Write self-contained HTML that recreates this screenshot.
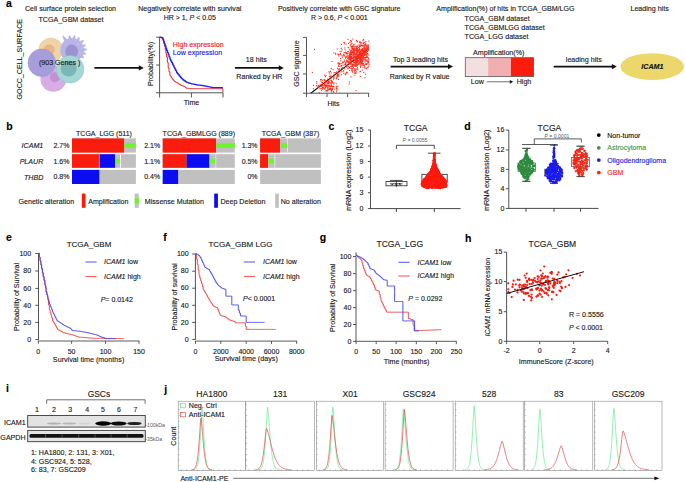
<!DOCTYPE html>
<html><head><meta charset="utf-8"><style>
html,body{margin:0;padding:0;background:#fff;width:685px;height:482px;overflow:hidden}
svg{display:block}
text{font-family:"Liberation Sans",sans-serif}
</style></head><body>
<svg width="685" height="482" viewBox="0 0 685 482">
<rect width="685" height="482" fill="#fff"/>
<text x="5.9" y="6.6" font-size="10.5" text-anchor="start" font-weight="bold" font-style="normal" fill="#000"  stroke="#000" stroke-width="0.13">a</text>
<text x="70.5" y="11.0" font-size="7.1" text-anchor="middle" font-weight="normal" font-style="normal" fill="#1a1a1a"  stroke="#1a1a1a" stroke-width="0.13">Cell surface protein selection</text>
<text x="71.0" y="22.0" font-size="7.1" text-anchor="middle" font-weight="normal" font-style="normal" fill="#1a1a1a"  stroke="#1a1a1a" stroke-width="0.13">TCGA_GBM dataset</text>
<text x="0" y="0" font-size="7.1" text-anchor="middle" fill="#1a1a1a" font-style="normal" transform="translate(22.2,59.2) rotate(-90)" stroke="#1a1a1a" stroke-width="0.13">GOCC_CELL_SURFACE</text>
<circle cx="50.8" cy="50.1" r="12.1" fill="#efd5a6" stroke="#e8b88a" stroke-width="0.4"/>
<circle cx="49.1" cy="49.7" r="5.5" fill="#e8b68a" />
<path d="M86.65,50.00 L86.17,50.25 L85.69,50.48 L85.21,50.69 L84.72,50.89 L84.23,51.07 L83.74,51.23 L83.71,51.44 L83.69,51.64 L84.07,51.91 L84.46,52.20 L84.83,52.49 L85.20,52.81 L85.57,53.13 L85.92,53.47 L86.27,53.82 L86.61,54.19 L86.13,54.32 L85.65,54.43 L85.17,54.53 L84.69,54.62 L84.21,54.69 L83.73,54.74 L83.25,54.78 L82.78,54.80 L82.69,54.99 L82.61,55.17 L82.83,55.52 L83.04,55.87 L83.24,56.23 L83.43,56.60 L83.61,56.98 L83.79,57.37 L83.95,57.76 L84.10,58.16 L83.67,58.17 L83.25,58.17 L82.82,58.15 L82.40,58.13 L81.99,58.09 L81.58,58.03 L81.17,57.97 L80.77,57.90 L80.63,58.05 L80.49,58.20 L80.34,58.34 L80.20,58.49 L80.05,58.63 L79.90,58.77 L79.74,58.91 L79.58,59.04 L79.43,59.17 L79.26,59.30 L79.10,59.42 L78.94,59.55 L78.77,59.67 L78.60,59.78 L78.43,59.90 L78.25,60.01 L78.08,60.11 L77.90,60.22 L77.72,60.32 L77.54,60.42 L77.36,60.51 L77.17,60.61 L76.99,60.69 L76.80,60.78 L76.61,60.86 L76.42,60.94 L76.23,61.02 L76.04,61.09 L75.84,61.16 L75.65,61.22 L75.45,61.28 L75.25,61.34 L75.05,61.40 L74.85,61.45 L74.65,61.50 L74.45,61.54 L74.25,61.58 L74.05,61.62 L73.85,61.65 L73.64,61.69 L73.44,61.71 L73.23,61.74 L73.03,61.76 L72.82,61.77 L72.62,61.78 L72.41,61.79 L72.21,61.80 L72.00,61.80 L71.79,61.80 L71.59,61.79 L71.38,61.78 L71.18,61.77 L70.97,61.76 L70.77,61.74 L70.56,61.71 L70.36,61.69 L70.15,61.65 L69.95,61.62 L69.75,61.58 L69.55,61.54 L69.35,61.50 L69.15,61.45 L68.95,61.40 L68.75,61.34 L68.55,61.28 L68.35,61.22 L68.16,61.16 L67.96,61.09 L67.77,61.02 L67.58,60.94 L67.39,60.86 L67.20,60.78 L67.01,60.69 L66.83,60.61 L66.64,60.51 L66.46,60.42 L66.28,60.32 L66.10,60.22 L65.92,60.11 L65.75,60.01 L65.57,59.90 L65.40,59.78 L65.23,59.67 L65.06,59.55 L64.90,59.42 L64.74,59.30 L64.57,59.17 L64.42,59.04 L64.26,58.91 L64.10,58.77 L63.95,58.63 L63.80,58.49 L63.66,58.34 L63.51,58.20 L63.37,58.05 L63.23,57.90 L63.09,57.74 L62.96,57.58 L62.83,57.43 L62.70,57.26 L62.58,57.10 L62.45,56.94 L62.33,56.77 L62.22,56.60 L62.10,56.43 L61.99,56.25 L61.89,56.08 L61.78,55.90 L61.68,55.72 L61.58,55.54 L61.49,55.36 L61.39,55.17 L61.31,54.99 L61.22,54.80 L61.14,54.61 L61.06,54.42 L60.98,54.23 L60.91,54.04 L60.84,53.84 L60.78,53.65 L60.72,53.45 L60.66,53.25 L60.60,53.05 L60.55,52.85 L60.50,52.65 L60.46,52.45 L60.42,52.25 L60.38,52.05 L60.35,51.85 L60.31,51.64 L60.29,51.44 L60.26,51.23 L60.24,51.03 L60.23,50.82 L60.22,50.62 L60.21,50.41 L60.20,50.21 L60.20,50.00 L60.20,49.79 L60.21,49.59 L60.22,49.38 L60.23,49.18 L60.24,48.97 L60.26,48.77 L60.29,48.56 L60.31,48.36 L60.35,48.15 L60.38,47.95 L60.42,47.75 L60.46,47.55 L60.50,47.35 L60.55,47.15 L60.60,46.95 L60.66,46.75 L60.72,46.55 L60.78,46.35 L60.84,46.16 L60.91,45.96 L60.98,45.77 L61.06,45.58 L61.14,45.39 L61.22,45.20 L61.31,45.01 L61.39,44.83 L61.49,44.64 L61.58,44.46 L61.68,44.28 L61.78,44.10 L61.89,43.92 L61.99,43.75 L62.10,43.57 L62.22,43.40 L62.33,43.23 L62.45,43.06 L62.58,42.90 L62.70,42.74 L62.83,42.57 L62.96,42.42 L63.09,42.26 L63.23,42.10 L63.37,41.95 L63.51,41.80 L63.66,41.66 L63.80,41.51 L63.95,41.37 L64.10,41.23 L64.26,41.09 L63.93,40.39 L63.63,39.66 L63.35,38.93 L63.09,38.18 L62.86,37.42 L62.65,36.65 L62.47,35.86 L62.31,35.07 L62.96,35.54 L63.60,36.03 L64.22,36.53 L64.82,37.06 L65.40,37.59 L65.96,38.15 L66.50,38.72 L67.01,39.31 L67.20,39.22 L67.39,39.14 L67.58,39.06 L67.77,38.98 L67.96,38.91 L68.16,38.84 L68.35,38.78 L68.42,38.29 L68.50,37.79 L68.60,37.30 L68.71,36.80 L68.84,36.31 L68.99,35.82 L69.15,35.32 L69.33,34.83 L69.66,35.23 L69.98,35.64 L70.29,36.05 L70.58,36.47 L70.85,36.90 L71.11,37.33 L71.36,37.77 L71.59,38.21 L71.79,38.20 L72.00,38.20 L72.21,38.20 L72.41,38.21 L72.64,37.74 L72.89,37.28 L73.15,36.83 L73.43,36.38 L73.73,35.93 L74.04,35.49 L74.37,35.06 L74.71,34.64 L74.89,35.15 L75.05,35.67 L75.19,36.19 L75.31,36.71 L75.42,37.23 L75.51,37.74 L75.59,38.26 L75.65,38.78 L75.84,38.84 L76.04,38.91 L76.23,38.98 L76.42,39.06 L76.79,38.72 L77.17,38.40 L77.56,38.08 L77.96,37.78 L78.38,37.48 L78.81,37.20 L79.25,36.92 L79.70,36.66 L79.70,37.19 L79.68,37.70 L79.65,38.22 L79.61,38.73 L79.54,39.23 L79.46,39.73 L79.37,40.22 L79.26,40.70 L79.43,40.83 L79.58,40.96 L79.74,41.09 L79.90,41.23 L80.39,41.00 L80.89,40.79 L81.40,40.60 L81.93,40.41 L82.46,40.25 L83.00,40.10 L83.55,39.96 L84.10,39.84 L83.89,40.37 L83.66,40.89 L83.42,41.39 L83.16,41.89 L82.89,42.37 L82.61,42.84 L82.32,43.30 L82.01,43.75 L82.11,43.92 L82.22,44.10 L82.32,44.28 L82.42,44.46 L82.89,44.45 L83.37,44.45 L83.85,44.47 L84.33,44.51 L84.82,44.56 L85.31,44.62 L85.79,44.71 L86.28,44.80 L85.97,45.19 L85.65,45.57 L85.32,45.93 L84.98,46.28 L84.63,46.62 L84.27,46.94 L83.91,47.25 L83.54,47.55 L83.58,47.75 L83.62,47.95 L84.12,48.08 L84.63,48.23 L85.13,48.39 L85.62,48.57 L86.12,48.76 L86.61,48.98 L87.10,49.21 L87.59,49.46 L87.12,49.74 Z" fill="#b9b4e6"/>
<circle cx="78.0" cy="44.0" r="0.5" fill="#e6e4f8" />
<circle cx="82.0" cy="48.0" r="0.5" fill="#e6e4f8" />
<circle cx="80.0" cy="53.0" r="0.5" fill="#e6e4f8" />
<circle cx="76.0" cy="40.0" r="0.5" fill="#e6e4f8" />
<ellipse cx="71.6" cy="51.6" rx="6.4" ry="7" fill="#9a93cf"/>
<circle cx="53.4" cy="78.8" r="13.0" fill="#d6ade5" />
<circle cx="54.9" cy="77.3" r="5.0" fill="#c391d0" />
<circle cx="41.8" cy="62.8" r="13.8" fill="#a89ddb" stroke="#9890cc" stroke-width="0.5"/>
<circle cx="70.1" cy="69.3" r="13.8" fill="#a5d7d5" stroke="#8cc4c2" stroke-width="0.5"/>
<circle cx="68.7" cy="68.6" r="8.0" fill="#7cb6b6" />
<text x="59.6" y="65.0" font-size="7.1" text-anchor="middle" font-weight="normal" font-style="normal" fill="#1a1a1a"  stroke="#1a1a1a" stroke-width="0.13">(903 Genes )</text>
<line x1="94.4" y1="67.9" x2="139.3" y2="67.9" stroke="#111" stroke-width="1.8"/>
<path d="M138.8,65.2 L143.8,67.9 L138.8,70.6 Z" fill="#111"/>
<text x="189.8" y="11.0" font-size="7.1" text-anchor="middle" font-weight="normal" font-style="normal" fill="#1a1a1a"  stroke="#1a1a1a" stroke-width="0.13">Negatively correlate with survival</text>
<text x="189.8" y="19.5" font-size="7" text-anchor="middle" fill="#1a1a1a" stroke="#1a1a1a" stroke-width="0.13">HR &gt; 1, <tspan font-style="italic">P</tspan> &lt; 0.05</text>
<line x1="159.6" y1="37.0" x2="159.6" y2="93.5" stroke="#555" stroke-width="1.0"/>
<line x1="155.8" y1="92.8" x2="223.3" y2="92.8" stroke="#555" stroke-width="1.0"/>
<line x1="156.2" y1="37.2" x2="159.6" y2="37.2" stroke="#555" stroke-width="1.0"/>
<line x1="156.2" y1="65.0" x2="159.6" y2="65.0" stroke="#555" stroke-width="1.0"/>
<line x1="159.6" y1="92.8" x2="159.6" y2="97.5" stroke="#555" stroke-width="1.0"/>
<line x1="191.4" y1="92.8" x2="191.4" y2="97.5" stroke="#555" stroke-width="1.0"/>
<line x1="223.0" y1="92.8" x2="223.0" y2="97.5" stroke="#555" stroke-width="1.0"/>
<text x="0" y="0" font-size="7.1" text-anchor="middle" fill="#1a1a1a" font-style="normal" transform="translate(153.3,64.0) rotate(-90)" stroke="#1a1a1a" stroke-width="0.13">Probability(%)</text>
<text x="191.5" y="105.2" font-size="7.1" text-anchor="middle" font-weight="normal" font-style="normal" fill="#1a1a1a"  stroke="#1a1a1a" stroke-width="0.13">Time</text>
<text x="172.8" y="46.5" font-size="7.1" text-anchor="start" font-weight="normal" font-style="normal" fill="#f02020"  stroke="#f02020" stroke-width="0.13">High expression</text>
<text x="172.8" y="55.0" font-size="7.1" text-anchor="start" font-weight="normal" font-style="normal" fill="#2020f0"  stroke="#2020f0" stroke-width="0.13">Low expression</text>
<path d="M159.6,37.2 L160.5,37.2 L160.5,37.6 L161.4,37.6 L161.4,38.0 L162.3,38.0 L162.3,38.3 L163.0,38.3 L163.0,40.9 L163.7,40.9 L163.7,43.4 L164.4,43.4 L164.4,46.0 L165.2,46.0 L165.2,49.6 L165.9,49.6 L165.9,53.3 L166.6,53.3 L166.6,56.9 L167.4,56.9 L167.4,62.4 L168.2,62.4 L168.2,67.9 L169.0,67.9 L169.0,71.7 L169.9,71.7 L169.9,75.5 L170.7,75.5 L170.7,76.6 L171.4,76.6 L171.4,77.7 L172.1,77.7 L172.1,78.8 L172.8,78.8 L172.8,79.7 L173.6,79.7 L173.6,80.6 L174.3,80.6 L174.3,81.5 L175.1,81.5 L175.1,81.9 L175.9,81.9 L175.9,82.3 L176.8,82.3 L176.8,82.8 L177.6,82.8 L177.6,83.2 L178.4,83.2 L178.4,83.8 L179.2,83.8 L179.2,84.3 L180.0,84.3 L180.0,84.8 L180.9,84.8 L180.9,85.4 L181.7,85.4 L181.7,85.7 L182.5,85.7 L182.5,85.9 L183.3,85.9 L183.3,86.2 L184.2,86.2 L184.2,86.5 L184.9,86.5 L184.9,87.1 L185.6,87.1 L185.6,87.7 L186.3,87.7 L186.3,88.2 L187.1,88.2 L187.1,88.3 L187.8,88.3 L187.8,88.3 L188.5,88.3 L188.5,88.4 L189.3,88.4 L189.3,88.4 L190.0,88.4 L190.0,88.5 L190.7,88.5 L190.7,88.5 L191.5,88.5 L191.5,88.6 L192.2,88.6 L192.2,88.6 L192.9,88.6 L192.9,88.7 L193.6,88.7 L193.6,88.7 L194.3,88.7 L194.3,88.7 L195.1,88.7 L195.1,88.7 L195.8,88.7 L195.8,88.7 L196.5,88.7 L196.5,88.7 L197.2,88.7 L197.2,88.7 L197.9,88.7 L197.9,88.7 L198.6,88.7 L198.6,88.7 L199.3,88.7 L199.3,88.7 L200.1,88.7 L200.1,88.7 L200.8,88.7 L200.8,88.7 L201.5,88.7 L201.5,88.7 L202.2,88.7 L202.2,88.7 L202.9,88.7 L202.9,88.7 L203.6,88.7 L203.6,88.7 L204.3,88.7 L204.3,88.7 L205.1,88.7 L205.1,88.7 L205.8,88.7 L205.8,88.7 L206.5,88.7 L206.5,88.7 L207.2,88.7 L207.2,88.7 L207.9,88.7 L207.9,88.7 L208.6,88.7 L208.6,88.7 L209.3,88.7 L209.3,88.7 L210.1,88.7 L210.1,88.7 L210.8,88.7 L210.8,88.7 L211.5,88.7 L211.5,88.7 L212.2,88.7 L212.2,88.7 L212.9,88.7 L212.9,88.7 L213.6,88.7 L213.6,88.7 L214.3,88.7 L214.3,88.7 L215.1,88.7 L215.1,88.7 L215.8,88.7 L215.8,88.7 L216.5,88.7 L216.5,88.7 L217.2,88.7 L217.2,88.7 L217.9,88.7 L217.9,88.7 L218.6,88.7 L218.6,88.7 L219.3,88.7 L219.3,88.7 L220.1,88.7 L220.1,88.7 L220.8,88.7 L220.8,88.7 L221.5,88.7 L221.5,88.7 L222.2,88.7 L222.2,88.7 L222.9,88.7 L222.9,88.7 L222.9,88.7 L222.9,92.0" fill="none" stroke="#f02020" stroke-width="1.0" stroke-linejoin="round" />
<path d="M159.6,37.2 L160.5,37.2 L160.5,37.4 L161.4,37.4 L161.4,37.5 L162.3,37.5 L162.3,37.7 L163.0,37.7 L163.0,39.7 L163.7,39.7 L163.7,41.7 L164.4,41.7 L164.4,43.8 L165.2,43.8 L165.2,46.0 L165.9,46.0 L165.9,48.2 L166.6,48.2 L166.6,50.4 L167.5,50.4 L167.5,52.6 L168.3,52.6 L168.3,54.7 L169.1,54.7 L169.1,56.9 L169.9,56.9 L169.9,59.1 L170.7,59.1 L170.7,60.8 L171.6,60.8 L171.6,62.4 L172.4,62.4 L172.4,64.0 L173.2,64.0 L173.2,65.7 L174.0,65.7 L174.0,67.3 L174.8,67.3 L174.8,69.0 L175.7,69.0 L175.7,70.6 L176.5,70.6 L176.5,72.3 L177.3,72.3 L177.3,73.4 L178.1,73.4 L178.1,74.4 L179.0,74.4 L179.0,75.5 L179.8,75.5 L179.8,76.6 L180.6,76.6 L180.6,77.5 L181.4,77.5 L181.4,78.3 L182.2,78.3 L182.2,79.1 L183.1,79.1 L183.1,79.9 L183.9,79.9 L183.9,80.5 L184.7,80.5 L184.7,81.0 L185.5,81.0 L185.5,81.6 L186.3,81.6 L186.3,82.1 L187.1,82.1 L187.1,82.4 L187.8,82.4 L187.8,82.6 L188.5,82.6 L188.5,82.9 L189.3,82.9 L189.3,83.1 L190.0,83.1 L190.0,83.4 L190.7,83.4 L190.7,83.6 L191.5,83.6 L191.5,83.8 L192.2,83.8 L192.2,83.9 L192.9,83.9 L192.9,84.1 L193.6,84.1 L193.6,84.2 L194.4,84.2 L194.4,84.4 L195.1,84.4 L195.1,84.5 L195.8,84.5 L195.8,84.7 L196.6,84.7 L196.6,84.8 L197.3,84.8 L197.3,85.0 L198.0,85.0 L198.0,85.1 L198.8,85.1 L198.8,85.2 L199.5,85.2 L199.5,85.2 L200.2,85.2 L200.2,85.3 L200.9,85.3 L200.9,85.4 L201.7,85.4 L201.7,85.5 L202.4,85.5 L202.4,85.6 L203.1,85.6 L203.1,85.7 L203.9,85.7 L203.9,85.8 L204.6,85.8 L204.6,86.0 L205.4,86.0 L205.4,86.1 L206.2,86.1 L206.2,86.3 L207.0,86.3 L207.0,86.5 L207.8,86.5 L207.8,86.6 L208.6,86.6 L208.6,86.8 L209.3,86.8 L209.3,86.9 L210.2,86.9 L210.2,87.1 L211.0,87.1 L211.0,87.3 L211.8,87.3 L211.8,87.4 L212.6,87.4 L212.6,87.6 L213.4,87.6 L213.4,87.6 L214.1,87.6 L214.1,87.6 L214.8,87.6 L214.8,87.6 L215.6,87.6 L215.6,87.6 L216.3,87.6 L216.3,87.6 L217.0,87.6 L217.0,87.6 L217.8,87.6 L217.8,87.6 L218.5,87.6 L218.5,87.6 L219.2,87.6 L219.2,87.6 L220.0,87.6 L220.0,87.6 L220.7,87.6 L220.7,87.6 L221.4,87.6 L221.4,87.6 L222.2,87.6 L222.2,87.6 L222.9,87.6 L222.9,87.6" fill="none" stroke="#2020f0" stroke-width="1.3" stroke-linejoin="round" />
<line x1="234.9" y1="67.9" x2="279.3" y2="67.9" stroke="#111" stroke-width="1.8"/>
<path d="M278.8,65.2 L283.8,67.9 L278.8,70.6 Z" fill="#111"/>
<text x="256.3" y="62.0" font-size="7.1" text-anchor="middle" font-weight="normal" font-style="normal" fill="#1a1a1a"  stroke="#1a1a1a" stroke-width="0.13">18 hits</text>
<text x="259.4" y="79.0" font-size="7.1" text-anchor="middle" font-weight="normal" font-style="normal" fill="#1a1a1a"  stroke="#1a1a1a" stroke-width="0.13">Ranked by HR</text>
<text x="339.2" y="11.0" font-size="7.1" text-anchor="middle" font-weight="normal" font-style="normal" fill="#1a1a1a"  stroke="#1a1a1a" stroke-width="0.13">Positively correlate with GSC signature</text>
<text x="339.3" y="19.5" font-size="7" text-anchor="middle" fill="#1a1a1a" stroke="#1a1a1a" stroke-width="0.13">R &gt; 0.6, <tspan font-style="italic">P</tspan> &lt; 0.001</text>
<line x1="310.8" y1="93.2" x2="368.6" y2="48.9" stroke="#111" stroke-width="1.1"/>
<g fill="#ff2a1a"><rect x="367.8" y="57.2" width="1.1" height="1.1"/><rect x="350.0" y="59.4" width="1.1" height="1.1"/><rect x="355.1" y="56.9" width="1.1" height="1.1"/><rect x="360.4" y="54.3" width="1.1" height="1.1"/><rect x="356.5" y="51.8" width="1.1" height="1.1"/><rect x="338.1" y="55.4" width="1.1" height="1.1"/><rect x="350.3" y="76.3" width="1.1" height="1.1"/><rect x="357.5" y="49.2" width="1.1" height="1.1"/><rect x="363.7" y="55.1" width="1.1" height="1.1"/><rect x="331.0" y="90.1" width="1.1" height="1.1"/><rect x="355.4" y="65.1" width="1.1" height="1.1"/><rect x="362.2" y="53.4" width="1.1" height="1.1"/><rect x="353.6" y="61.8" width="1.1" height="1.1"/><rect x="352.8" y="61.2" width="1.1" height="1.1"/><rect x="327.4" y="84.4" width="1.1" height="1.1"/><rect x="342.4" y="64.8" width="1.1" height="1.1"/><rect x="364.9" y="73.7" width="1.1" height="1.1"/><rect x="351.2" y="67.9" width="1.1" height="1.1"/><rect x="355.3" y="57.1" width="1.1" height="1.1"/><rect x="351.9" y="47.9" width="1.1" height="1.1"/><rect x="324.8" y="76.0" width="1.1" height="1.1"/><rect x="347.3" y="68.4" width="1.1" height="1.1"/><rect x="330.7" y="75.5" width="1.1" height="1.1"/><rect x="333.3" y="52.4" width="1.1" height="1.1"/><rect x="327.5" y="89.4" width="1.1" height="1.1"/><rect x="364.9" y="50.3" width="1.1" height="1.1"/><rect x="359.7" y="55.3" width="1.1" height="1.1"/><rect x="362.8" y="55.6" width="1.1" height="1.1"/><rect x="357.5" y="52.4" width="1.1" height="1.1"/><rect x="341.3" y="62.9" width="1.1" height="1.1"/><rect x="330.9" y="84.7" width="1.1" height="1.1"/><rect x="355.7" y="71.3" width="1.1" height="1.1"/><rect x="322.0" y="86.7" width="1.1" height="1.1"/><rect x="348.9" y="63.4" width="1.1" height="1.1"/><rect x="363.9" y="50.0" width="1.1" height="1.1"/><rect x="337.8" y="62.5" width="1.1" height="1.1"/><rect x="347.4" y="62.3" width="1.1" height="1.1"/><rect x="359.5" y="41.8" width="1.1" height="1.1"/><rect x="355.8" y="59.0" width="1.1" height="1.1"/><rect x="359.9" y="54.4" width="1.1" height="1.1"/><rect x="363.6" y="57.1" width="1.1" height="1.1"/><rect x="360.7" y="52.4" width="1.1" height="1.1"/><rect x="356.8" y="57.2" width="1.1" height="1.1"/><rect x="337.1" y="75.3" width="1.1" height="1.1"/><rect x="356.5" y="59.4" width="1.1" height="1.1"/><rect x="333.5" y="86.4" width="1.1" height="1.1"/><rect x="360.7" y="54.6" width="1.1" height="1.1"/><rect x="364.3" y="66.5" width="1.1" height="1.1"/><rect x="366.4" y="56.7" width="1.1" height="1.1"/><rect x="337.0" y="67.8" width="1.1" height="1.1"/><rect x="338.1" y="74.4" width="1.1" height="1.1"/><rect x="352.6" y="48.0" width="1.1" height="1.1"/><rect x="357.6" y="60.7" width="1.1" height="1.1"/><rect x="337.3" y="85.9" width="1.1" height="1.1"/><rect x="331.6" y="82.0" width="1.1" height="1.1"/><rect x="350.5" y="60.0" width="1.1" height="1.1"/><rect x="362.8" y="51.9" width="1.1" height="1.1"/><rect x="340.7" y="47.8" width="1.1" height="1.1"/><rect x="328.2" y="81.7" width="1.1" height="1.1"/><rect x="365.6" y="60.5" width="1.1" height="1.1"/><rect x="338.6" y="68.2" width="1.1" height="1.1"/><rect x="334.2" y="88.7" width="1.1" height="1.1"/><rect x="341.0" y="65.0" width="1.1" height="1.1"/><rect x="354.5" y="49.6" width="1.1" height="1.1"/><rect x="332.9" y="86.0" width="1.1" height="1.1"/><rect x="364.5" y="44.4" width="1.1" height="1.1"/><rect x="361.4" y="55.5" width="1.1" height="1.1"/><rect x="345.2" y="73.6" width="1.1" height="1.1"/><rect x="348.3" y="59.0" width="1.1" height="1.1"/><rect x="358.3" y="55.5" width="1.1" height="1.1"/><rect x="330.0" y="70.9" width="1.1" height="1.1"/><rect x="359.4" y="41.2" width="1.1" height="1.1"/><rect x="360.7" y="60.0" width="1.1" height="1.1"/><rect x="350.9" y="57.0" width="1.1" height="1.1"/><rect x="350.2" y="64.3" width="1.1" height="1.1"/><rect x="332.7" y="75.8" width="1.1" height="1.1"/><rect x="355.6" y="56.4" width="1.1" height="1.1"/><rect x="357.6" y="55.7" width="1.1" height="1.1"/><rect x="330.9" y="89.5" width="1.1" height="1.1"/><rect x="350.2" y="58.4" width="1.1" height="1.1"/><rect x="343.6" y="61.3" width="1.1" height="1.1"/><rect x="351.2" y="57.8" width="1.1" height="1.1"/><rect x="352.8" y="48.3" width="1.1" height="1.1"/><rect x="348.0" y="42.9" width="1.1" height="1.1"/><rect x="347.7" y="56.3" width="1.1" height="1.1"/><rect x="349.9" y="52.1" width="1.1" height="1.1"/><rect x="343.1" y="70.2" width="1.1" height="1.1"/><rect x="338.5" y="63.0" width="1.1" height="1.1"/><rect x="330.0" y="87.7" width="1.1" height="1.1"/><rect x="362.8" y="53.6" width="1.1" height="1.1"/><rect x="344.6" y="51.9" width="1.1" height="1.1"/><rect x="320.2" y="79.3" width="1.1" height="1.1"/><rect x="361.9" y="48.6" width="1.1" height="1.1"/><rect x="352.1" y="64.2" width="1.1" height="1.1"/><rect x="362.6" y="58.3" width="1.1" height="1.1"/><rect x="365.9" y="49.4" width="1.1" height="1.1"/><rect x="363.3" y="51.2" width="1.1" height="1.1"/><rect x="354.5" y="57.3" width="1.1" height="1.1"/><rect x="355.6" y="90.1" width="1.1" height="1.1"/><rect x="358.1" y="57.2" width="1.1" height="1.1"/><rect x="358.9" y="58.7" width="1.1" height="1.1"/><rect x="362.8" y="41.7" width="1.1" height="1.1"/><rect x="354.3" y="54.0" width="1.1" height="1.1"/><rect x="350.0" y="52.5" width="1.1" height="1.1"/><rect x="363.1" y="45.4" width="1.1" height="1.1"/><rect x="336.2" y="89.5" width="1.1" height="1.1"/><rect x="357.9" y="47.1" width="1.1" height="1.1"/><rect x="339.6" y="63.3" width="1.1" height="1.1"/><rect x="366.5" y="55.7" width="1.1" height="1.1"/><rect x="361.7" y="55.0" width="1.1" height="1.1"/><rect x="362.4" y="58.5" width="1.1" height="1.1"/><rect x="353.6" y="50.8" width="1.1" height="1.1"/><rect x="363.4" y="57.7" width="1.1" height="1.1"/><rect x="357.8" y="56.4" width="1.1" height="1.1"/><rect x="352.1" y="57.8" width="1.1" height="1.1"/><rect x="359.0" y="52.1" width="1.1" height="1.1"/><rect x="323.7" y="87.9" width="1.1" height="1.1"/><rect x="324.3" y="88.7" width="1.1" height="1.1"/><rect x="362.5" y="50.0" width="1.1" height="1.1"/><rect x="326.8" y="82.4" width="1.1" height="1.1"/><rect x="357.0" y="58.0" width="1.1" height="1.1"/><rect x="360.0" y="56.2" width="1.1" height="1.1"/><rect x="333.1" y="83.3" width="1.1" height="1.1"/><rect x="361.0" y="59.7" width="1.1" height="1.1"/><rect x="365.0" y="57.1" width="1.1" height="1.1"/><rect x="357.0" y="55.9" width="1.1" height="1.1"/><rect x="350.2" y="62.9" width="1.1" height="1.1"/><rect x="356.3" y="56.0" width="1.1" height="1.1"/><rect x="365.0" y="53.7" width="1.1" height="1.1"/><rect x="363.0" y="51.5" width="1.1" height="1.1"/><rect x="347.3" y="57.9" width="1.1" height="1.1"/><rect x="345.4" y="53.1" width="1.1" height="1.1"/><rect x="324.6" y="87.6" width="1.1" height="1.1"/><rect x="349.1" y="49.2" width="1.1" height="1.1"/><rect x="355.9" y="39.9" width="1.1" height="1.1"/><rect x="347.6" y="46.8" width="1.1" height="1.1"/><rect x="348.6" y="61.0" width="1.1" height="1.1"/><rect x="331.3" y="81.2" width="1.1" height="1.1"/><rect x="360.5" y="44.0" width="1.1" height="1.1"/><rect x="358.3" y="56.7" width="1.1" height="1.1"/><rect x="356.7" y="59.1" width="1.1" height="1.1"/><rect x="322.6" y="85.0" width="1.1" height="1.1"/><rect x="349.1" y="52.5" width="1.1" height="1.1"/><rect x="353.1" y="44.3" width="1.1" height="1.1"/><rect x="346.2" y="61.6" width="1.1" height="1.1"/><rect x="353.2" y="51.8" width="1.1" height="1.1"/><rect x="363.2" y="65.0" width="1.1" height="1.1"/><rect x="343.6" y="41.9" width="1.1" height="1.1"/><rect x="355.0" y="64.2" width="1.1" height="1.1"/><rect x="351.8" y="47.3" width="1.1" height="1.1"/><rect x="361.4" y="54.2" width="1.1" height="1.1"/><rect x="352.9" y="51.1" width="1.1" height="1.1"/><rect x="359.4" y="53.7" width="1.1" height="1.1"/><rect x="346.2" y="52.2" width="1.1" height="1.1"/><rect x="360.3" y="63.4" width="1.1" height="1.1"/><rect x="354.3" y="58.7" width="1.1" height="1.1"/><rect x="329.5" y="82.1" width="1.1" height="1.1"/><rect x="347.5" y="67.8" width="1.1" height="1.1"/><rect x="330.3" y="79.5" width="1.1" height="1.1"/><rect x="321.5" y="82.0" width="1.1" height="1.1"/><rect x="359.6" y="51.9" width="1.1" height="1.1"/><rect x="319.1" y="86.2" width="1.1" height="1.1"/><rect x="368.2" y="65.5" width="1.1" height="1.1"/><rect x="357.6" y="55.1" width="1.1" height="1.1"/><rect x="352.9" y="61.3" width="1.1" height="1.1"/><rect x="357.1" y="62.0" width="1.1" height="1.1"/><rect x="336.0" y="86.6" width="1.1" height="1.1"/><rect x="336.0" y="91.2" width="1.1" height="1.1"/><rect x="359.2" y="49.2" width="1.1" height="1.1"/><rect x="348.6" y="83.4" width="1.1" height="1.1"/><rect x="356.2" y="63.6" width="1.1" height="1.1"/><rect x="360.5" y="53.8" width="1.1" height="1.1"/><rect x="361.6" y="62.5" width="1.1" height="1.1"/><rect x="353.6" y="74.6" width="1.1" height="1.1"/><rect x="337.5" y="62.6" width="1.1" height="1.1"/><rect x="333.5" y="73.6" width="1.1" height="1.1"/><rect x="348.9" y="66.9" width="1.1" height="1.1"/><rect x="357.9" y="57.5" width="1.1" height="1.1"/><rect x="317.6" y="85.5" width="1.1" height="1.1"/><rect x="343.5" y="41.9" width="1.1" height="1.1"/><rect x="350.8" y="54.3" width="1.1" height="1.1"/><rect x="355.6" y="60.1" width="1.1" height="1.1"/><rect x="336.7" y="48.5" width="1.1" height="1.1"/><rect x="364.2" y="53.9" width="1.1" height="1.1"/><rect x="360.8" y="59.3" width="1.1" height="1.1"/><rect x="360.4" y="42.8" width="1.1" height="1.1"/><rect x="353.0" y="64.6" width="1.1" height="1.1"/><rect x="357.1" y="58.2" width="1.1" height="1.1"/><rect x="359.8" y="52.2" width="1.1" height="1.1"/><rect x="341.6" y="55.2" width="1.1" height="1.1"/><rect x="359.7" y="60.1" width="1.1" height="1.1"/><rect x="345.5" y="72.7" width="1.1" height="1.1"/><rect x="329.2" y="86.0" width="1.1" height="1.1"/><rect x="344.3" y="47.4" width="1.1" height="1.1"/><rect x="356.9" y="55.5" width="1.1" height="1.1"/><rect x="364.2" y="41.9" width="1.1" height="1.1"/><rect x="331.8" y="86.1" width="1.1" height="1.1"/><rect x="366.0" y="57.1" width="1.1" height="1.1"/><rect x="364.1" y="44.3" width="1.1" height="1.1"/><rect x="352.7" y="49.0" width="1.1" height="1.1"/><rect x="362.1" y="44.9" width="1.1" height="1.1"/><rect x="362.9" y="55.6" width="1.1" height="1.1"/><rect x="353.9" y="53.9" width="1.1" height="1.1"/><rect x="347.6" y="61.6" width="1.1" height="1.1"/><rect x="364.5" y="61.4" width="1.1" height="1.1"/><rect x="359.4" y="63.1" width="1.1" height="1.1"/><rect x="339.2" y="69.7" width="1.1" height="1.1"/><rect x="357.4" y="57.0" width="1.1" height="1.1"/><rect x="349.7" y="53.1" width="1.1" height="1.1"/><rect x="340.7" y="51.1" width="1.1" height="1.1"/><rect x="363.6" y="51.7" width="1.1" height="1.1"/><rect x="352.5" y="53.7" width="1.1" height="1.1"/><rect x="328.1" y="83.0" width="1.1" height="1.1"/><rect x="361.8" y="50.0" width="1.1" height="1.1"/><rect x="328.9" y="88.6" width="1.1" height="1.1"/><rect x="363.2" y="71.9" width="1.1" height="1.1"/><rect x="361.7" y="57.5" width="1.1" height="1.1"/><rect x="339.5" y="51.0" width="1.1" height="1.1"/><rect x="355.4" y="60.8" width="1.1" height="1.1"/><rect x="321.8" y="85.0" width="1.1" height="1.1"/><rect x="362.3" y="39.8" width="1.1" height="1.1"/><rect x="367.8" y="49.2" width="1.1" height="1.1"/><rect x="355.8" y="62.4" width="1.1" height="1.1"/><rect x="362.3" y="51.2" width="1.1" height="1.1"/><rect x="359.6" y="52.0" width="1.1" height="1.1"/><rect x="319.4" y="88.1" width="1.1" height="1.1"/><rect x="327.2" y="86.9" width="1.1" height="1.1"/><rect x="354.1" y="72.7" width="1.1" height="1.1"/><rect x="355.1" y="71.8" width="1.1" height="1.1"/><rect x="351.3" y="69.2" width="1.1" height="1.1"/><rect x="359.0" y="54.5" width="1.1" height="1.1"/><rect x="359.7" y="49.8" width="1.1" height="1.1"/><rect x="359.3" y="48.6" width="1.1" height="1.1"/><rect x="364.1" y="46.2" width="1.1" height="1.1"/><rect x="352.0" y="51.9" width="1.1" height="1.1"/><rect x="368.1" y="46.5" width="1.1" height="1.1"/><rect x="337.0" y="72.4" width="1.1" height="1.1"/><rect x="342.6" y="71.1" width="1.1" height="1.1"/><rect x="328.5" y="82.4" width="1.1" height="1.1"/><rect x="359.5" y="50.9" width="1.1" height="1.1"/><rect x="327.9" y="80.9" width="1.1" height="1.1"/><rect x="350.0" y="56.3" width="1.1" height="1.1"/><rect x="355.6" y="68.8" width="1.1" height="1.1"/><rect x="367.7" y="61.0" width="1.1" height="1.1"/><rect x="359.0" y="54.7" width="1.1" height="1.1"/><rect x="359.8" y="75.9" width="1.1" height="1.1"/><rect x="347.4" y="65.5" width="1.1" height="1.1"/><rect x="346.8" y="64.2" width="1.1" height="1.1"/><rect x="362.3" y="60.5" width="1.1" height="1.1"/><rect x="345.4" y="51.8" width="1.1" height="1.1"/><rect x="327.3" y="85.2" width="1.1" height="1.1"/><rect x="326.9" y="90.2" width="1.1" height="1.1"/><rect x="353.7" y="52.2" width="1.1" height="1.1"/><rect x="359.7" y="58.5" width="1.1" height="1.1"/><rect x="333.2" y="77.1" width="1.1" height="1.1"/><rect x="339.9" y="53.1" width="1.1" height="1.1"/><rect x="320.6" y="78.9" width="1.1" height="1.1"/><rect x="346.4" y="67.0" width="1.1" height="1.1"/><rect x="329.6" y="86.1" width="1.1" height="1.1"/><rect x="362.1" y="55.3" width="1.1" height="1.1"/><rect x="337.4" y="72.4" width="1.1" height="1.1"/><rect x="330.2" y="83.2" width="1.1" height="1.1"/><rect x="316.2" y="82.7" width="1.1" height="1.1"/><rect x="356.4" y="59.7" width="1.1" height="1.1"/><rect x="362.8" y="63.0" width="1.1" height="1.1"/><rect x="357.9" y="56.0" width="1.1" height="1.1"/><rect x="352.6" y="53.9" width="1.1" height="1.1"/><rect x="368.0" y="61.8" width="1.1" height="1.1"/><rect x="360.6" y="54.1" width="1.1" height="1.1"/><rect x="346.2" y="60.5" width="1.1" height="1.1"/><rect x="368.1" y="58.2" width="1.1" height="1.1"/><rect x="359.6" y="61.0" width="1.1" height="1.1"/><rect x="323.6" y="79.1" width="1.1" height="1.1"/><rect x="367.3" y="60.8" width="1.1" height="1.1"/><rect x="355.7" y="48.2" width="1.1" height="1.1"/><rect x="331.1" y="77.4" width="1.1" height="1.1"/><rect x="340.3" y="54.0" width="1.1" height="1.1"/><rect x="349.5" y="55.7" width="1.1" height="1.1"/><rect x="363.1" y="56.3" width="1.1" height="1.1"/><rect x="358.8" y="52.0" width="1.1" height="1.1"/><rect x="338.0" y="78.9" width="1.1" height="1.1"/><rect x="360.9" y="45.0" width="1.1" height="1.1"/><rect x="332.7" y="91.0" width="1.1" height="1.1"/><rect x="351.5" y="70.1" width="1.1" height="1.1"/><rect x="329.8" y="88.4" width="1.1" height="1.1"/><rect x="350.1" y="60.2" width="1.1" height="1.1"/><rect x="364.4" y="64.0" width="1.1" height="1.1"/><rect x="312.9" y="84.8" width="1.1" height="1.1"/><rect x="356.8" y="51.8" width="1.1" height="1.1"/><rect x="346.3" y="60.5" width="1.1" height="1.1"/><rect x="352.3" y="65.2" width="1.1" height="1.1"/><rect x="349.0" y="53.8" width="1.1" height="1.1"/><rect x="366.9" y="49.1" width="1.1" height="1.1"/><rect x="365.6" y="63.7" width="1.1" height="1.1"/><rect x="353.8" y="59.7" width="1.1" height="1.1"/><rect x="361.1" y="55.0" width="1.1" height="1.1"/><rect x="365.5" y="53.7" width="1.1" height="1.1"/><rect x="367.6" y="49.9" width="1.1" height="1.1"/><rect x="348.1" y="47.2" width="1.1" height="1.1"/><rect x="366.0" y="51.5" width="1.1" height="1.1"/><rect x="359.6" y="51.8" width="1.1" height="1.1"/><rect x="335.8" y="86.4" width="1.1" height="1.1"/><rect x="368.3" y="40.6" width="1.1" height="1.1"/><rect x="350.5" y="40.5" width="1.1" height="1.1"/><rect x="356.6" y="68.2" width="1.1" height="1.1"/><rect x="359.0" y="49.4" width="1.1" height="1.1"/><rect x="331.8" y="89.3" width="1.1" height="1.1"/><rect x="322.6" y="87.1" width="1.1" height="1.1"/><rect x="361.7" y="52.9" width="1.1" height="1.1"/><rect x="363.4" y="44.8" width="1.1" height="1.1"/><rect x="321.9" y="82.3" width="1.1" height="1.1"/><rect x="349.8" y="55.1" width="1.1" height="1.1"/><rect x="328.4" y="71.1" width="1.1" height="1.1"/><rect x="365.9" y="47.5" width="1.1" height="1.1"/><rect x="355.1" y="50.2" width="1.1" height="1.1"/><rect x="343.8" y="59.5" width="1.1" height="1.1"/><rect x="354.2" y="59.9" width="1.1" height="1.1"/><rect x="335.1" y="53.7" width="1.1" height="1.1"/><rect x="350.8" y="54.0" width="1.1" height="1.1"/><rect x="361.2" y="53.1" width="1.1" height="1.1"/><rect x="352.1" y="64.1" width="1.1" height="1.1"/><rect x="321.1" y="89.9" width="1.1" height="1.1"/><rect x="363.2" y="50.5" width="1.1" height="1.1"/><rect x="356.6" y="60.9" width="1.1" height="1.1"/><rect x="351.7" y="56.7" width="1.1" height="1.1"/><rect x="353.9" y="58.9" width="1.1" height="1.1"/><rect x="324.8" y="83.4" width="1.1" height="1.1"/><rect x="359.2" y="42.1" width="1.1" height="1.1"/><rect x="357.6" y="56.4" width="1.1" height="1.1"/><rect x="349.8" y="58.3" width="1.1" height="1.1"/><rect x="346.3" y="71.9" width="1.1" height="1.1"/><rect x="366.9" y="67.0" width="1.1" height="1.1"/><rect x="349.6" y="59.9" width="1.1" height="1.1"/><rect x="338.9" y="63.8" width="1.1" height="1.1"/><rect x="365.6" y="60.1" width="1.1" height="1.1"/><rect x="343.1" y="54.2" width="1.1" height="1.1"/><rect x="358.5" y="61.4" width="1.1" height="1.1"/><rect x="360.7" y="42.2" width="1.1" height="1.1"/><rect x="348.1" y="66.2" width="1.1" height="1.1"/><rect x="359.6" y="57.6" width="1.1" height="1.1"/><rect x="363.7" y="51.9" width="1.1" height="1.1"/><rect x="344.6" y="49.3" width="1.1" height="1.1"/><rect x="361.9" y="63.0" width="1.1" height="1.1"/><rect x="353.6" y="47.6" width="1.1" height="1.1"/><rect x="337.3" y="53.6" width="1.1" height="1.1"/><rect x="357.3" y="54.2" width="1.1" height="1.1"/><rect x="365.3" y="63.5" width="1.1" height="1.1"/><rect x="337.0" y="76.3" width="1.1" height="1.1"/><rect x="367.8" y="66.4" width="1.1" height="1.1"/><rect x="347.4" y="50.9" width="1.1" height="1.1"/><rect x="333.6" y="72.1" width="1.1" height="1.1"/><rect x="321.8" y="88.4" width="1.1" height="1.1"/><rect x="358.3" y="60.3" width="1.1" height="1.1"/><rect x="360.4" y="53.4" width="1.1" height="1.1"/><rect x="327.6" y="80.3" width="1.1" height="1.1"/><rect x="347.8" y="51.1" width="1.1" height="1.1"/><rect x="355.1" y="53.7" width="1.1" height="1.1"/><rect x="355.4" y="69.6" width="1.1" height="1.1"/><rect x="329.8" y="85.8" width="1.1" height="1.1"/><rect x="346.6" y="65.2" width="1.1" height="1.1"/><rect x="359.1" y="55.3" width="1.1" height="1.1"/><rect x="330.9" y="82.6" width="1.1" height="1.1"/><rect x="326.0" y="84.7" width="1.1" height="1.1"/><rect x="358.4" y="63.0" width="1.1" height="1.1"/><rect x="360.4" y="60.1" width="1.1" height="1.1"/><rect x="356.0" y="62.2" width="1.1" height="1.1"/><rect x="334.7" y="71.9" width="1.1" height="1.1"/><rect x="353.6" y="63.5" width="1.1" height="1.1"/><rect x="357.0" y="67.2" width="1.1" height="1.1"/><rect x="368.5" y="63.7" width="1.1" height="1.1"/><rect x="356.2" y="51.1" width="1.1" height="1.1"/><rect x="367.6" y="61.4" width="1.1" height="1.1"/><rect x="312.9" y="88.2" width="1.1" height="1.1"/><rect x="330.6" y="89.7" width="1.1" height="1.1"/><rect x="356.4" y="49.8" width="1.1" height="1.1"/><rect x="326.3" y="86.5" width="1.1" height="1.1"/><rect x="368.2" y="54.4" width="1.1" height="1.1"/><rect x="352.6" y="45.5" width="1.1" height="1.1"/><rect x="325.6" y="84.5" width="1.1" height="1.1"/><rect x="352.0" y="71.5" width="1.1" height="1.1"/><rect x="357.5" y="53.8" width="1.1" height="1.1"/><rect x="365.5" y="68.0" width="1.1" height="1.1"/><rect x="353.6" y="71.4" width="1.1" height="1.1"/><rect x="350.6" y="63.6" width="1.1" height="1.1"/><rect x="350.7" y="47.6" width="1.1" height="1.1"/><rect x="357.6" y="59.7" width="1.1" height="1.1"/><rect x="324.6" y="82.3" width="1.1" height="1.1"/><rect x="349.5" y="67.7" width="1.1" height="1.1"/><rect x="365.7" y="55.5" width="1.1" height="1.1"/><rect x="324.7" y="85.0" width="1.1" height="1.1"/><rect x="356.9" y="51.2" width="1.1" height="1.1"/><rect x="361.1" y="60.2" width="1.1" height="1.1"/><rect x="363.5" y="57.0" width="1.1" height="1.1"/><rect x="366.3" y="45.4" width="1.1" height="1.1"/><rect x="359.4" y="52.5" width="1.1" height="1.1"/><rect x="367.7" y="44.9" width="1.1" height="1.1"/><rect x="354.2" y="60.2" width="1.1" height="1.1"/><rect x="362.4" y="54.9" width="1.1" height="1.1"/><rect x="364.4" y="51.3" width="1.1" height="1.1"/><rect x="326.7" y="83.2" width="1.1" height="1.1"/><rect x="354.1" y="59.1" width="1.1" height="1.1"/><rect x="352.3" y="67.9" width="1.1" height="1.1"/><rect x="325.4" y="75.0" width="1.1" height="1.1"/><rect x="365.5" y="62.8" width="1.1" height="1.1"/><rect x="339.0" y="62.7" width="1.1" height="1.1"/><rect x="348.6" y="54.7" width="1.1" height="1.1"/><rect x="353.5" y="55.5" width="1.1" height="1.1"/><rect x="352.1" y="45.5" width="1.1" height="1.1"/><rect x="361.7" y="61.1" width="1.1" height="1.1"/><rect x="349.0" y="55.7" width="1.1" height="1.1"/><rect x="359.5" y="50.9" width="1.1" height="1.1"/><rect x="353.7" y="49.3" width="1.1" height="1.1"/><rect x="358.6" y="53.8" width="1.1" height="1.1"/><rect x="335.9" y="78.1" width="1.1" height="1.1"/><rect x="350.1" y="50.5" width="1.1" height="1.1"/><rect x="356.0" y="46.6" width="1.1" height="1.1"/><rect x="360.2" y="50.8" width="1.1" height="1.1"/><rect x="353.2" y="68.4" width="1.1" height="1.1"/><rect x="362.7" y="49.9" width="1.1" height="1.1"/><rect x="360.5" y="61.7" width="1.1" height="1.1"/><rect x="353.4" y="63.2" width="1.1" height="1.1"/><rect x="356.8" y="61.4" width="1.1" height="1.1"/><rect x="345.5" y="43.5" width="1.1" height="1.1"/><rect x="367.2" y="63.1" width="1.1" height="1.1"/><rect x="360.1" y="57.6" width="1.1" height="1.1"/><rect x="354.4" y="45.6" width="1.1" height="1.1"/><rect x="351.5" y="57.7" width="1.1" height="1.1"/><rect x="323.9" y="74.5" width="1.1" height="1.1"/><rect x="324.8" y="87.0" width="1.1" height="1.1"/><rect x="357.2" y="49.5" width="1.1" height="1.1"/><rect x="361.6" y="61.3" width="1.1" height="1.1"/><rect x="367.5" y="46.9" width="1.1" height="1.1"/><rect x="361.0" y="59.9" width="1.1" height="1.1"/><rect x="351.4" y="65.8" width="1.1" height="1.1"/><rect x="355.2" y="73.0" width="1.1" height="1.1"/><rect x="336.4" y="88.5" width="1.1" height="1.1"/><rect x="344.7" y="74.1" width="1.1" height="1.1"/><rect x="358.0" y="54.8" width="1.1" height="1.1"/><rect x="337.0" y="73.7" width="1.1" height="1.1"/><rect x="365.9" y="63.8" width="1.1" height="1.1"/><rect x="333.2" y="92.0" width="1.1" height="1.1"/><rect x="352.3" y="46.1" width="1.1" height="1.1"/><rect x="342.3" y="66.9" width="1.1" height="1.1"/><rect x="345.1" y="62.6" width="1.1" height="1.1"/><rect x="359.3" y="45.8" width="1.1" height="1.1"/><rect x="359.8" y="58.1" width="1.1" height="1.1"/><rect x="365.6" y="51.9" width="1.1" height="1.1"/><rect x="349.7" y="62.2" width="1.1" height="1.1"/><rect x="357.1" y="54.6" width="1.1" height="1.1"/><rect x="322.8" y="87.3" width="1.1" height="1.1"/><rect x="356.7" y="48.3" width="1.1" height="1.1"/><rect x="359.1" y="52.9" width="1.1" height="1.1"/><rect x="355.2" y="55.4" width="1.1" height="1.1"/><rect x="341.3" y="49.4" width="1.1" height="1.1"/><rect x="364.1" y="48.3" width="1.1" height="1.1"/><rect x="357.7" y="53.5" width="1.1" height="1.1"/><rect x="349.9" y="55.6" width="1.1" height="1.1"/><rect x="324.2" y="79.8" width="1.1" height="1.1"/><rect x="363.4" y="59.6" width="1.1" height="1.1"/><rect x="342.7" y="61.8" width="1.1" height="1.1"/><rect x="356.1" y="48.1" width="1.1" height="1.1"/><rect x="361.2" y="62.7" width="1.1" height="1.1"/><rect x="337.7" y="69.1" width="1.1" height="1.1"/><rect x="360.1" y="64.5" width="1.1" height="1.1"/><rect x="356.1" y="53.7" width="1.1" height="1.1"/><rect x="359.4" y="45.9" width="1.1" height="1.1"/><rect x="357.3" y="56.3" width="1.1" height="1.1"/><rect x="361.9" y="45.4" width="1.1" height="1.1"/><rect x="350.9" y="41.2" width="1.1" height="1.1"/><rect x="346.0" y="56.2" width="1.1" height="1.1"/><rect x="345.0" y="57.7" width="1.1" height="1.1"/><rect x="349.1" y="53.4" width="1.1" height="1.1"/><rect x="362.0" y="54.7" width="1.1" height="1.1"/><rect x="349.4" y="41.9" width="1.1" height="1.1"/><rect x="354.9" y="69.7" width="1.1" height="1.1"/><rect x="325.3" y="85.6" width="1.1" height="1.1"/><rect x="353.8" y="61.9" width="1.1" height="1.1"/><rect x="339.3" y="53.8" width="1.1" height="1.1"/><rect x="354.8" y="56.3" width="1.1" height="1.1"/><rect x="354.7" y="46.3" width="1.1" height="1.1"/><rect x="333.4" y="77.5" width="1.1" height="1.1"/><rect x="355.5" y="59.0" width="1.1" height="1.1"/><rect x="360.4" y="57.8" width="1.1" height="1.1"/><rect x="367.1" y="47.5" width="1.1" height="1.1"/><rect x="359.3" y="52.7" width="1.1" height="1.1"/><rect x="325.1" y="85.5" width="1.1" height="1.1"/><rect x="353.7" y="52.4" width="1.1" height="1.1"/><rect x="351.5" y="45.8" width="1.1" height="1.1"/><rect x="328.3" y="85.3" width="1.1" height="1.1"/><rect x="350.3" y="51.3" width="1.1" height="1.1"/><rect x="329.0" y="80.6" width="1.1" height="1.1"/><rect x="367.0" y="48.3" width="1.1" height="1.1"/><rect x="331.9" y="87.7" width="1.1" height="1.1"/><rect x="364.4" y="52.5" width="1.1" height="1.1"/><rect x="350.5" y="66.1" width="1.1" height="1.1"/><rect x="354.7" y="49.1" width="1.1" height="1.1"/><rect x="348.9" y="55.3" width="1.1" height="1.1"/><rect x="350.0" y="40.0" width="1.1" height="1.1"/><rect x="325.1" y="85.5" width="1.1" height="1.1"/><rect x="365.9" y="45.7" width="1.1" height="1.1"/><rect x="325.5" y="90.1" width="1.1" height="1.1"/><rect x="340.5" y="66.0" width="1.1" height="1.1"/><rect x="359.0" y="48.1" width="1.1" height="1.1"/><rect x="340.2" y="58.0" width="1.1" height="1.1"/><rect x="328.4" y="86.7" width="1.1" height="1.1"/><rect x="352.1" y="65.3" width="1.1" height="1.1"/><rect x="329.5" y="85.9" width="1.1" height="1.1"/><rect x="331.9" y="80.9" width="1.1" height="1.1"/><rect x="363.8" y="67.4" width="1.1" height="1.1"/><rect x="324.5" y="80.4" width="1.1" height="1.1"/><rect x="367.0" y="53.0" width="1.1" height="1.1"/><rect x="330.8" y="91.3" width="1.1" height="1.1"/><rect x="320.1" y="79.1" width="1.1" height="1.1"/><rect x="361.7" y="58.3" width="1.1" height="1.1"/><rect x="354.0" y="48.2" width="1.1" height="1.1"/><rect x="353.6" y="43.6" width="1.1" height="1.1"/><rect x="340.2" y="60.2" width="1.1" height="1.1"/><rect x="328.8" y="76.0" width="1.1" height="1.1"/><rect x="361.1" y="57.4" width="1.1" height="1.1"/><rect x="355.9" y="65.3" width="1.1" height="1.1"/><rect x="353.0" y="58.3" width="1.1" height="1.1"/><rect x="363.2" y="50.1" width="1.1" height="1.1"/><rect x="343.4" y="55.0" width="1.1" height="1.1"/><rect x="349.7" y="56.8" width="1.1" height="1.1"/><rect x="358.8" y="54.3" width="1.1" height="1.1"/><rect x="360.0" y="65.8" width="1.1" height="1.1"/><rect x="364.0" y="65.5" width="1.1" height="1.1"/><rect x="365.0" y="43.7" width="1.1" height="1.1"/><rect x="331.9" y="86.0" width="1.1" height="1.1"/><rect x="361.0" y="57.7" width="1.1" height="1.1"/><rect x="366.7" y="51.0" width="1.1" height="1.1"/><rect x="337.0" y="74.4" width="1.1" height="1.1"/><rect x="349.0" y="56.9" width="1.1" height="1.1"/><rect x="361.0" y="50.4" width="1.1" height="1.1"/><rect x="338.0" y="53.8" width="1.1" height="1.1"/><rect x="354.5" y="63.8" width="1.1" height="1.1"/><rect x="362.7" y="52.4" width="1.1" height="1.1"/><rect x="363.0" y="39.1" width="1.1" height="1.1"/><rect x="336.1" y="88.0" width="1.1" height="1.1"/><rect x="335.1" y="52.7" width="1.1" height="1.1"/><rect x="336.5" y="76.0" width="1.1" height="1.1"/><rect x="364.0" y="54.6" width="1.1" height="1.1"/><rect x="365.9" y="55.4" width="1.1" height="1.1"/><rect x="359.8" y="58.3" width="1.1" height="1.1"/><rect x="367.9" y="47.5" width="1.1" height="1.1"/><rect x="365.3" y="41.1" width="1.1" height="1.1"/><rect x="319.4" y="85.2" width="1.1" height="1.1"/><rect x="340.7" y="64.8" width="1.1" height="1.1"/><rect x="355.7" y="47.3" width="1.1" height="1.1"/><rect x="362.4" y="56.1" width="1.1" height="1.1"/><rect x="349.6" y="50.4" width="1.1" height="1.1"/><rect x="358.0" y="49.5" width="1.1" height="1.1"/><rect x="362.9" y="56.6" width="1.1" height="1.1"/><rect x="327.1" y="88.1" width="1.1" height="1.1"/><rect x="360.0" y="70.9" width="1.1" height="1.1"/><rect x="359.0" y="53.4" width="1.1" height="1.1"/><rect x="338.3" y="75.7" width="1.1" height="1.1"/><rect x="359.8" y="59.3" width="1.1" height="1.1"/><rect x="352.5" y="51.7" width="1.1" height="1.1"/><rect x="317.7" y="84.7" width="1.1" height="1.1"/><rect x="364.2" y="58.5" width="1.1" height="1.1"/><rect x="321.7" y="81.9" width="1.1" height="1.1"/><rect x="351.3" y="46.0" width="1.1" height="1.1"/><rect x="360.4" y="54.5" width="1.1" height="1.1"/><rect x="351.9" y="60.0" width="1.1" height="1.1"/><rect x="344.6" y="56.6" width="1.1" height="1.1"/><rect x="325.9" y="85.5" width="1.1" height="1.1"/><rect x="351.7" y="50.6" width="1.1" height="1.1"/><rect x="356.6" y="40.6" width="1.1" height="1.1"/><rect x="358.0" y="49.5" width="1.1" height="1.1"/><rect x="356.3" y="48.5" width="1.1" height="1.1"/><rect x="355.3" y="65.8" width="1.1" height="1.1"/><rect x="349.4" y="60.7" width="1.1" height="1.1"/><rect x="331.1" y="84.5" width="1.1" height="1.1"/><rect x="354.1" y="68.3" width="1.1" height="1.1"/><rect x="348.6" y="61.6" width="1.1" height="1.1"/><rect x="360.2" y="56.7" width="1.1" height="1.1"/><rect x="356.6" y="53.7" width="1.1" height="1.1"/><rect x="352.8" y="53.3" width="1.1" height="1.1"/><rect x="346.6" y="57.2" width="1.1" height="1.1"/><rect x="354.1" y="53.9" width="1.1" height="1.1"/><rect x="340.5" y="71.1" width="1.1" height="1.1"/><rect x="351.7" y="59.9" width="1.1" height="1.1"/><rect x="355.4" y="59.6" width="1.1" height="1.1"/><rect x="357.4" y="51.2" width="1.1" height="1.1"/><rect x="354.2" y="52.4" width="1.1" height="1.1"/><rect x="332.6" y="85.4" width="1.1" height="1.1"/><rect x="356.6" y="46.4" width="1.1" height="1.1"/><rect x="364.7" y="43.3" width="1.1" height="1.1"/><rect x="361.4" y="60.0" width="1.1" height="1.1"/><rect x="367.7" y="44.6" width="1.1" height="1.1"/><rect x="342.7" y="67.3" width="1.1" height="1.1"/><rect x="351.9" y="65.9" width="1.1" height="1.1"/><rect x="354.3" y="57.1" width="1.1" height="1.1"/><rect x="355.6" y="56.6" width="1.1" height="1.1"/><rect x="366.6" y="44.5" width="1.1" height="1.1"/><rect x="338.6" y="65.9" width="1.1" height="1.1"/><rect x="315.9" y="85.1" width="1.1" height="1.1"/><rect x="361.4" y="63.1" width="1.1" height="1.1"/><rect x="335.9" y="77.2" width="1.1" height="1.1"/><rect x="361.0" y="49.9" width="1.1" height="1.1"/><rect x="353.2" y="55.0" width="1.1" height="1.1"/><rect x="363.1" y="47.4" width="1.1" height="1.1"/><rect x="350.3" y="63.5" width="1.1" height="1.1"/><rect x="361.1" y="55.4" width="1.1" height="1.1"/><rect x="354.6" y="61.7" width="1.1" height="1.1"/><rect x="366.9" y="53.2" width="1.1" height="1.1"/><rect x="324.0" y="84.0" width="1.1" height="1.1"/><rect x="366.8" y="61.0" width="1.1" height="1.1"/><rect x="346.6" y="60.5" width="1.1" height="1.1"/><rect x="358.3" y="60.7" width="1.1" height="1.1"/><rect x="350.3" y="60.4" width="1.1" height="1.1"/><rect x="363.4" y="50.8" width="1.1" height="1.1"/><rect x="320.5" y="80.8" width="1.1" height="1.1"/><rect x="362.1" y="50.6" width="1.1" height="1.1"/><rect x="359.7" y="56.1" width="1.1" height="1.1"/><rect x="332.9" y="78.7" width="1.1" height="1.1"/><rect x="354.6" y="53.2" width="1.1" height="1.1"/><rect x="365.5" y="44.6" width="1.1" height="1.1"/><rect x="357.4" y="62.4" width="1.1" height="1.1"/><rect x="341.7" y="56.5" width="1.1" height="1.1"/><rect x="321.2" y="86.0" width="1.1" height="1.1"/><rect x="352.3" y="49.0" width="1.1" height="1.1"/><rect x="325.9" y="80.1" width="1.1" height="1.1"/><rect x="357.1" y="54.8" width="1.1" height="1.1"/><rect x="347.7" y="57.8" width="1.1" height="1.1"/><rect x="329.8" y="77.2" width="1.1" height="1.1"/><rect x="333.1" y="75.9" width="1.1" height="1.1"/><rect x="352.4" y="51.9" width="1.1" height="1.1"/><rect x="349.5" y="58.8" width="1.1" height="1.1"/><rect x="351.4" y="42.9" width="1.1" height="1.1"/><rect x="354.1" y="60.0" width="1.1" height="1.1"/><rect x="366.9" y="56.7" width="1.1" height="1.1"/><rect x="356.7" y="41.2" width="1.1" height="1.1"/><rect x="316.8" y="86.5" width="1.1" height="1.1"/><rect x="366.7" y="50.8" width="1.1" height="1.1"/><rect x="363.1" y="42.8" width="1.1" height="1.1"/><rect x="364.8" y="48.8" width="1.1" height="1.1"/><rect x="350.3" y="52.8" width="1.1" height="1.1"/><rect x="349.6" y="56.9" width="1.1" height="1.1"/><rect x="336.3" y="71.3" width="1.1" height="1.1"/><rect x="353.6" y="65.2" width="1.1" height="1.1"/><rect x="350.8" y="65.4" width="1.1" height="1.1"/><rect x="330.7" y="68.0" width="1.1" height="1.1"/><rect x="330.4" y="88.8" width="1.1" height="1.1"/><rect x="341.0" y="67.8" width="1.1" height="1.1"/><rect x="342.0" y="61.6" width="1.1" height="1.1"/><rect x="331.0" y="80.2" width="1.1" height="1.1"/><rect x="352.7" y="58.9" width="1.1" height="1.1"/><rect x="346.5" y="55.3" width="1.1" height="1.1"/><rect x="366.0" y="47.4" width="1.1" height="1.1"/><rect x="351.5" y="68.7" width="1.1" height="1.1"/><rect x="356.4" y="55.2" width="1.1" height="1.1"/><rect x="356.7" y="45.6" width="1.1" height="1.1"/><rect x="364.5" y="59.3" width="1.1" height="1.1"/><rect x="362.5" y="64.0" width="1.1" height="1.1"/><rect x="365.4" y="48.2" width="1.1" height="1.1"/><rect x="361.6" y="55.4" width="1.1" height="1.1"/><rect x="360.6" y="55.1" width="1.1" height="1.1"/><rect x="343.8" y="64.2" width="1.1" height="1.1"/><rect x="356.3" y="53.0" width="1.1" height="1.1"/><rect x="353.8" y="50.2" width="1.1" height="1.1"/><rect x="356.8" y="60.1" width="1.1" height="1.1"/><rect x="356.9" y="63.7" width="1.1" height="1.1"/><rect x="362.6" y="48.4" width="1.1" height="1.1"/><rect x="358.4" y="57.1" width="1.1" height="1.1"/><rect x="340.8" y="74.1" width="1.1" height="1.1"/><rect x="326.5" y="90.3" width="1.1" height="1.1"/><rect x="334.1" y="75.2" width="1.1" height="1.1"/><rect x="353.0" y="52.5" width="1.1" height="1.1"/><rect x="358.7" y="46.7" width="1.1" height="1.1"/><rect x="328.6" y="88.4" width="1.1" height="1.1"/><rect x="353.2" y="57.0" width="1.1" height="1.1"/><rect x="355.0" y="63.3" width="1.1" height="1.1"/><rect x="360.1" y="58.9" width="1.1" height="1.1"/><rect x="358.3" y="56.8" width="1.1" height="1.1"/><rect x="357.1" y="59.8" width="1.1" height="1.1"/><rect x="363.3" y="54.2" width="1.1" height="1.1"/><rect x="331.9" y="88.8" width="1.1" height="1.1"/><rect x="329.4" y="84.8" width="1.1" height="1.1"/><rect x="351.6" y="51.3" width="1.1" height="1.1"/><rect x="326.2" y="81.7" width="1.1" height="1.1"/><rect x="354.4" y="59.1" width="1.1" height="1.1"/><rect x="365.7" y="67.8" width="1.1" height="1.1"/><rect x="356.2" y="61.2" width="1.1" height="1.1"/><rect x="348.4" y="61.8" width="1.1" height="1.1"/><rect x="353.5" y="49.5" width="1.1" height="1.1"/><rect x="350.3" y="57.9" width="1.1" height="1.1"/><rect x="361.9" y="54.3" width="1.1" height="1.1"/><rect x="325.6" y="90.5" width="1.1" height="1.1"/><rect x="349.7" y="58.4" width="1.1" height="1.1"/><rect x="357.9" y="58.0" width="1.1" height="1.1"/><rect x="359.8" y="57.8" width="1.1" height="1.1"/><rect x="360.1" y="62.0" width="1.1" height="1.1"/><rect x="345.2" y="64.5" width="1.1" height="1.1"/><rect x="357.8" y="57.0" width="1.1" height="1.1"/><rect x="350.3" y="53.9" width="1.1" height="1.1"/><rect x="345.7" y="53.1" width="1.1" height="1.1"/><rect x="357.0" y="48.5" width="1.1" height="1.1"/><rect x="360.4" y="56.8" width="1.1" height="1.1"/><rect x="339.3" y="69.2" width="1.1" height="1.1"/><rect x="361.8" y="56.6" width="1.1" height="1.1"/><rect x="356.5" y="57.7" width="1.1" height="1.1"/><rect x="352.2" y="55.1" width="1.1" height="1.1"/><rect x="322.0" y="84.5" width="1.1" height="1.1"/><rect x="350.6" y="66.4" width="1.1" height="1.1"/><rect x="357.9" y="57.4" width="1.1" height="1.1"/><rect x="327.4" y="85.9" width="1.1" height="1.1"/><rect x="362.5" y="43.1" width="1.1" height="1.1"/><rect x="350.5" y="52.3" width="1.1" height="1.1"/><rect x="356.3" y="49.6" width="1.1" height="1.1"/><rect x="361.9" y="48.2" width="1.1" height="1.1"/><rect x="337.8" y="64.6" width="1.1" height="1.1"/><rect x="355.4" y="57.8" width="1.1" height="1.1"/><rect x="352.3" y="64.2" width="1.1" height="1.1"/><rect x="320.4" y="83.9" width="1.1" height="1.1"/><rect x="355.4" y="50.1" width="1.1" height="1.1"/><rect x="364.9" y="46.4" width="1.1" height="1.1"/><rect x="358.6" y="57.4" width="1.1" height="1.1"/><rect x="354.9" y="60.5" width="1.1" height="1.1"/><rect x="360.7" y="59.2" width="1.1" height="1.1"/><rect x="346.2" y="71.8" width="1.1" height="1.1"/><rect x="361.8" y="69.6" width="1.1" height="1.1"/><rect x="350.0" y="58.2" width="1.1" height="1.1"/><rect x="321.2" y="85.0" width="1.1" height="1.1"/><rect x="347.3" y="52.9" width="1.1" height="1.1"/><rect x="349.8" y="44.4" width="1.1" height="1.1"/><rect x="359.6" y="61.7" width="1.1" height="1.1"/><rect x="363.3" y="53.0" width="1.1" height="1.1"/><rect x="350.2" y="51.7" width="1.1" height="1.1"/><rect x="358.2" y="63.7" width="1.1" height="1.1"/><rect x="359.7" y="56.3" width="1.1" height="1.1"/><rect x="367.5" y="46.0" width="1.1" height="1.1"/><rect x="340.9" y="43.9" width="1.1" height="1.1"/><rect x="366.1" y="54.5" width="1.1" height="1.1"/><rect x="365.2" y="59.2" width="1.1" height="1.1"/><rect x="362.1" y="44.9" width="1.1" height="1.1"/><rect x="363.1" y="45.1" width="1.1" height="1.1"/><rect x="359.5" y="58.4" width="1.1" height="1.1"/><rect x="350.4" y="43.8" width="1.1" height="1.1"/><rect x="366.5" y="59.5" width="1.1" height="1.1"/><rect x="330.9" y="85.7" width="1.1" height="1.1"/><rect x="332.1" y="82.2" width="1.1" height="1.1"/><rect x="355.6" y="65.2" width="1.1" height="1.1"/><rect x="356.5" y="50.1" width="1.1" height="1.1"/><rect x="346.1" y="59.4" width="1.1" height="1.1"/><rect x="325.8" y="80.2" width="1.1" height="1.1"/><rect x="330.2" y="76.0" width="1.1" height="1.1"/><rect x="353.8" y="56.4" width="1.1" height="1.1"/><rect x="364.8" y="57.4" width="1.1" height="1.1"/><rect x="322.2" y="86.8" width="1.1" height="1.1"/><rect x="356.6" y="55.2" width="1.1" height="1.1"/><rect x="333.4" y="82.3" width="1.1" height="1.1"/><rect x="361.5" y="64.9" width="1.1" height="1.1"/><rect x="353.7" y="62.2" width="1.1" height="1.1"/><rect x="343.6" y="52.0" width="1.1" height="1.1"/><rect x="320.6" y="87.7" width="1.1" height="1.1"/><rect x="356.9" y="60.5" width="1.1" height="1.1"/><rect x="358.2" y="63.5" width="1.1" height="1.1"/><rect x="350.4" y="58.8" width="1.1" height="1.1"/><rect x="336.3" y="71.8" width="1.1" height="1.1"/><rect x="350.4" y="56.2" width="1.1" height="1.1"/><rect x="362.6" y="47.7" width="1.1" height="1.1"/><rect x="359.1" y="61.7" width="1.1" height="1.1"/><rect x="318.8" y="92.3" width="1.1" height="1.1"/><rect x="348.8" y="57.8" width="1.1" height="1.1"/><rect x="349.2" y="58.4" width="1.1" height="1.1"/><rect x="366.7" y="53.6" width="1.1" height="1.1"/><rect x="349.1" y="62.9" width="1.1" height="1.1"/><rect x="353.2" y="56.7" width="1.1" height="1.1"/><rect x="353.8" y="56.2" width="1.1" height="1.1"/><rect x="365.4" y="52.8" width="1.1" height="1.1"/><rect x="332.6" y="68.9" width="1.1" height="1.1"/><rect x="367.0" y="46.3" width="1.1" height="1.1"/><rect x="356.2" y="48.2" width="1.1" height="1.1"/><rect x="363.7" y="47.0" width="1.1" height="1.1"/><rect x="361.8" y="60.2" width="1.1" height="1.1"/><rect x="351.5" y="56.6" width="1.1" height="1.1"/><rect x="350.6" y="51.6" width="1.1" height="1.1"/><rect x="338.6" y="69.7" width="1.1" height="1.1"/><rect x="346.3" y="71.9" width="1.1" height="1.1"/><rect x="351.1" y="46.7" width="1.1" height="1.1"/><rect x="331.6" y="88.5" width="1.1" height="1.1"/><rect x="364.6" y="44.5" width="1.1" height="1.1"/><rect x="353.4" y="56.0" width="1.1" height="1.1"/><rect x="356.0" y="52.1" width="1.1" height="1.1"/><rect x="337.6" y="73.9" width="1.1" height="1.1"/><rect x="356.5" y="45.7" width="1.1" height="1.1"/><rect x="360.4" y="53.2" width="1.1" height="1.1"/><rect x="330.8" y="90.0" width="1.1" height="1.1"/><rect x="350.5" y="52.7" width="1.1" height="1.1"/><rect x="358.8" y="46.0" width="1.1" height="1.1"/><rect x="352.4" y="38.5" width="1.1" height="1.1"/><rect x="357.1" y="59.8" width="1.1" height="1.1"/><rect x="359.4" y="41.8" width="1.1" height="1.1"/><rect x="354.4" y="64.2" width="1.1" height="1.1"/><rect x="356.9" y="48.0" width="1.1" height="1.1"/><rect x="338.0" y="74.6" width="1.1" height="1.1"/><rect x="360.1" y="45.3" width="1.1" height="1.1"/><rect x="363.7" y="57.4" width="1.1" height="1.1"/><rect x="349.2" y="57.8" width="1.1" height="1.1"/><rect x="365.8" y="48.6" width="1.1" height="1.1"/><rect x="364.8" y="50.3" width="1.1" height="1.1"/><rect x="314.0" y="48.8" width="1.1" height="1.1"/><rect x="359.8" y="60.4" width="1.1" height="1.1"/><rect x="362.2" y="63.0" width="1.1" height="1.1"/><rect x="343.8" y="60.8" width="1.1" height="1.1"/><rect x="337.9" y="65.5" width="1.1" height="1.1"/><rect x="362.6" y="66.8" width="1.1" height="1.1"/><rect x="344.9" y="62.5" width="1.1" height="1.1"/><rect x="351.1" y="49.5" width="1.1" height="1.1"/><rect x="356.7" y="65.1" width="1.1" height="1.1"/><rect x="364.0" y="52.7" width="1.1" height="1.1"/><rect x="364.1" y="48.8" width="1.1" height="1.1"/><rect x="360.5" y="59.3" width="1.1" height="1.1"/><rect x="357.9" y="55.6" width="1.1" height="1.1"/><rect x="327.0" y="78.6" width="1.1" height="1.1"/><rect x="359.6" y="56.2" width="1.1" height="1.1"/><rect x="360.0" y="66.7" width="1.1" height="1.1"/><rect x="360.9" y="49.0" width="1.1" height="1.1"/><rect x="336.4" y="74.9" width="1.1" height="1.1"/><rect x="362.8" y="50.0" width="1.1" height="1.1"/><rect x="349.1" y="70.1" width="1.1" height="1.1"/><rect x="344.1" y="68.3" width="1.1" height="1.1"/><rect x="357.9" y="56.7" width="1.1" height="1.1"/><rect x="362.8" y="64.8" width="1.1" height="1.1"/><rect x="355.3" y="60.6" width="1.1" height="1.1"/><rect x="358.3" y="44.5" width="1.1" height="1.1"/><rect x="343.8" y="43.2" width="1.1" height="1.1"/><rect x="328.3" y="81.5" width="1.1" height="1.1"/><rect x="359.1" y="44.6" width="1.1" height="1.1"/><rect x="320.7" y="88.1" width="1.1" height="1.1"/><rect x="352.7" y="66.9" width="1.1" height="1.1"/><rect x="364.9" y="52.2" width="1.1" height="1.1"/><rect x="350.0" y="55.5" width="1.1" height="1.1"/><rect x="350.9" y="56.6" width="1.1" height="1.1"/><rect x="359.1" y="53.5" width="1.1" height="1.1"/><rect x="352.1" y="51.6" width="1.1" height="1.1"/><rect x="361.1" y="56.3" width="1.1" height="1.1"/><rect x="347.1" y="60.8" width="1.1" height="1.1"/><rect x="347.0" y="53.5" width="1.1" height="1.1"/><rect x="353.2" y="51.6" width="1.1" height="1.1"/><rect x="350.2" y="45.5" width="1.1" height="1.1"/><rect x="347.3" y="38.8" width="1.1" height="1.1"/><rect x="361.0" y="63.1" width="1.1" height="1.1"/><rect x="323.8" y="85.1" width="1.1" height="1.1"/><rect x="353.7" y="49.7" width="1.1" height="1.1"/><rect x="324.3" y="79.3" width="1.1" height="1.1"/><rect x="360.9" y="53.1" width="1.1" height="1.1"/><rect x="348.6" y="62.4" width="1.1" height="1.1"/><rect x="361.2" y="48.8" width="1.1" height="1.1"/><rect x="368.3" y="59.4" width="1.1" height="1.1"/><rect x="326.5" y="85.2" width="1.1" height="1.1"/><rect x="364.0" y="48.4" width="1.1" height="1.1"/><rect x="357.2" y="69.0" width="1.1" height="1.1"/><rect x="359.4" y="71.2" width="1.1" height="1.1"/><rect x="355.1" y="53.7" width="1.1" height="1.1"/><rect x="351.6" y="70.6" width="1.1" height="1.1"/><rect x="349.0" y="58.5" width="1.1" height="1.1"/><rect x="344.7" y="63.3" width="1.1" height="1.1"/><rect x="361.2" y="61.7" width="1.1" height="1.1"/><rect x="367.5" y="61.5" width="1.1" height="1.1"/><rect x="364.5" y="77.2" width="1.1" height="1.1"/><rect x="352.4" y="57.1" width="1.1" height="1.1"/><rect x="343.3" y="72.7" width="1.1" height="1.1"/><rect x="327.7" y="89.1" width="1.1" height="1.1"/><rect x="358.3" y="51.0" width="1.1" height="1.1"/><rect x="348.3" y="57.0" width="1.1" height="1.1"/><rect x="358.2" y="50.3" width="1.1" height="1.1"/><rect x="328.8" y="72.4" width="1.1" height="1.1"/><rect x="360.5" y="53.3" width="1.1" height="1.1"/><rect x="318.0" y="86.8" width="1.1" height="1.1"/><rect x="361.8" y="54.7" width="1.1" height="1.1"/><rect x="364.2" y="53.9" width="1.1" height="1.1"/><rect x="345.1" y="64.0" width="1.1" height="1.1"/><rect x="366.1" y="64.0" width="1.1" height="1.1"/><rect x="365.8" y="50.7" width="1.1" height="1.1"/><rect x="355.1" y="58.9" width="1.1" height="1.1"/><rect x="362.4" y="50.5" width="1.1" height="1.1"/><rect x="318.5" y="85.3" width="1.1" height="1.1"/><rect x="367.4" y="59.3" width="1.1" height="1.1"/><rect x="351.1" y="49.7" width="1.1" height="1.1"/><rect x="356.6" y="64.4" width="1.1" height="1.1"/><rect x="329.0" y="88.5" width="1.1" height="1.1"/><rect x="339.2" y="72.4" width="1.1" height="1.1"/><rect x="359.3" y="54.7" width="1.1" height="1.1"/><rect x="353.2" y="65.1" width="1.1" height="1.1"/><rect x="367.4" y="47.7" width="1.1" height="1.1"/><rect x="347.5" y="60.3" width="1.1" height="1.1"/><rect x="354.7" y="62.1" width="1.1" height="1.1"/><rect x="362.6" y="49.3" width="1.1" height="1.1"/><rect x="355.3" y="59.7" width="1.1" height="1.1"/><rect x="311.8" y="71.9" width="1.1" height="1.1"/><rect x="322.1" y="79.7" width="1.1" height="1.1"/><rect x="360.2" y="57.2" width="1.1" height="1.1"/><rect x="330.6" y="80.1" width="1.1" height="1.1"/><rect x="351.3" y="52.7" width="1.1" height="1.1"/><rect x="350.4" y="58.6" width="1.1" height="1.1"/><rect x="316.1" y="81.2" width="1.1" height="1.1"/><rect x="331.4" y="60.8" width="1.1" height="1.1"/><rect x="344.2" y="55.3" width="1.1" height="1.1"/><rect x="351.1" y="51.6" width="1.1" height="1.1"/><rect x="345.2" y="56.5" width="1.1" height="1.1"/><rect x="347.3" y="55.4" width="1.1" height="1.1"/><rect x="350.8" y="56.0" width="1.1" height="1.1"/><rect x="330.6" y="72.4" width="1.1" height="1.1"/><rect x="360.1" y="57.9" width="1.1" height="1.1"/><rect x="329.4" y="74.5" width="1.1" height="1.1"/><rect x="328.7" y="88.3" width="1.1" height="1.1"/><rect x="322.3" y="87.6" width="1.1" height="1.1"/><rect x="335.6" y="82.8" width="1.1" height="1.1"/><rect x="353.7" y="70.0" width="1.1" height="1.1"/><rect x="330.4" y="87.7" width="1.1" height="1.1"/><rect x="364.4" y="54.4" width="1.1" height="1.1"/><rect x="323.6" y="86.1" width="1.1" height="1.1"/><rect x="348.8" y="81.4" width="1.1" height="1.1"/><rect x="351.6" y="63.3" width="1.1" height="1.1"/><rect x="328.6" y="84.8" width="1.1" height="1.1"/><rect x="355.8" y="64.8" width="1.1" height="1.1"/><rect x="355.9" y="62.5" width="1.1" height="1.1"/><rect x="361.7" y="52.3" width="1.1" height="1.1"/><rect x="361.8" y="53.5" width="1.1" height="1.1"/><rect x="360.0" y="60.9" width="1.1" height="1.1"/><rect x="356.7" y="52.3" width="1.1" height="1.1"/><rect x="357.4" y="50.4" width="1.1" height="1.1"/><rect x="353.4" y="46.3" width="1.1" height="1.1"/><rect x="365.1" y="51.4" width="1.1" height="1.1"/><rect x="352.1" y="52.2" width="1.1" height="1.1"/><rect x="343.3" y="53.6" width="1.1" height="1.1"/><rect x="354.5" y="65.6" width="1.1" height="1.1"/><rect x="327.0" y="82.4" width="1.1" height="1.1"/><rect x="350.6" y="53.8" width="1.1" height="1.1"/><rect x="352.8" y="50.1" width="1.1" height="1.1"/></g>
<line x1="306.5" y1="37.2" x2="306.5" y2="93.5" stroke="#555" stroke-width="1.0"/>
<line x1="303.0" y1="93.2" x2="369.2" y2="93.2" stroke="#555" stroke-width="1.0"/>
<line x1="303.0" y1="37.4" x2="306.5" y2="37.4" stroke="#555" stroke-width="1.0"/>
<line x1="303.0" y1="55.4" x2="306.5" y2="55.4" stroke="#555" stroke-width="1.0"/>
<line x1="303.0" y1="74.0" x2="306.5" y2="74.0" stroke="#555" stroke-width="1.0"/>
<line x1="306.5" y1="93.2" x2="306.5" y2="97.0" stroke="#555" stroke-width="1.0"/>
<line x1="327.0" y1="93.2" x2="327.0" y2="97.0" stroke="#555" stroke-width="1.0"/>
<line x1="347.6" y1="93.2" x2="347.6" y2="97.0" stroke="#555" stroke-width="1.0"/>
<line x1="368.6" y1="93.2" x2="368.6" y2="97.0" stroke="#555" stroke-width="1.0"/>
<text x="0" y="0" font-size="7.1" text-anchor="middle" fill="#1a1a1a" font-style="normal" transform="translate(299.2,63.5) rotate(-90)" stroke="#1a1a1a" stroke-width="0.13">GSC signature</text>
<text x="333.5" y="105.6" font-size="7.1" text-anchor="middle" font-weight="normal" font-style="normal" fill="#1a1a1a"  stroke="#1a1a1a" stroke-width="0.13">Hits</text>
<line x1="390.6" y1="66.6" x2="448.5" y2="66.6" stroke="#111" stroke-width="1.8"/>
<path d="M448.0,63.9 L453.0,66.6 L448.0,69.3 Z" fill="#111"/>
<text x="420.5" y="62.3" font-size="7.1" text-anchor="middle" font-weight="normal" font-style="normal" fill="#1a1a1a"  stroke="#1a1a1a" stroke-width="0.13">Top 3 leading hits</text>
<text x="419.6" y="79.0" font-size="7.1" text-anchor="middle" font-weight="normal" font-style="normal" fill="#1a1a1a"  stroke="#1a1a1a" stroke-width="0.13">Ranked by R value</text>
<text x="505.4" y="11.3" font-size="7.1" text-anchor="middle" font-weight="normal" font-style="normal" fill="#1a1a1a"  stroke="#1a1a1a" stroke-width="0.13">Amplification(%) of hits in TCGA_GBM/LGG</text>
<text x="464.6" y="21.0" font-size="7.1" text-anchor="start" font-weight="normal" font-style="normal" fill="#1a1a1a"  stroke="#1a1a1a" stroke-width="0.13">TCGA_GBM dataset</text>
<text x="464.6" y="29.8" font-size="7.1" text-anchor="start" font-weight="normal" font-style="normal" fill="#1a1a1a"  stroke="#1a1a1a" stroke-width="0.13">TCGA_GBMLGG dataset</text>
<text x="464.6" y="38.5" font-size="7.1" text-anchor="start" font-weight="normal" font-style="normal" fill="#1a1a1a"  stroke="#1a1a1a" stroke-width="0.13">TCGA_LGG dataset</text>
<text x="498.7" y="54.6" font-size="7.1" text-anchor="middle" font-weight="normal" font-style="normal" fill="#1a1a1a"  stroke="#1a1a1a" stroke-width="0.13">Amplification(%)</text>
<rect x="465.3" y="57.7" width="22.8" height="18.9" fill="#f4dfe0" />
<rect x="488.1" y="57.7" width="22.8" height="18.9" fill="#f2afb2" />
<rect x="510.9" y="57.7" width="22.7" height="18.9" fill="#fc1c0c" />
<rect x="465.3" y="57.7" width="68.3" height="18.9" fill="none" stroke="#5a5a5a" stroke-width="0.8"/>
<text x="477.3" y="84.0" font-size="7.1" text-anchor="middle" font-weight="normal" font-style="normal" fill="#1a1a1a"  stroke="#1a1a1a" stroke-width="0.13">Low</text>
<line x1="486.8" y1="81.8" x2="510.3" y2="81.8" stroke="#111" stroke-width="0.6"/>
<path d="M509.8,79.9 L513.2,81.8 L509.8,83.7 Z" fill="#111"/>
<text x="516.7" y="84.0" font-size="7.1" text-anchor="start" font-weight="normal" font-style="normal" fill="#1a1a1a"  stroke="#1a1a1a" stroke-width="0.13">High</text>
<line x1="553.7" y1="66.6" x2="612.3" y2="66.6" stroke="#111" stroke-width="1.8"/>
<path d="M611.8,63.9 L616.8,66.6 L611.8,69.3 Z" fill="#111"/>
<text x="583.8" y="62.3" font-size="7.1" text-anchor="middle" font-weight="normal" font-style="normal" fill="#1a1a1a"  stroke="#1a1a1a" stroke-width="0.13">leading hits</text>
<ellipse cx="652.2" cy="66.6" rx="31.8" ry="13.4" fill="#ecd86a"/>
<text x="652.4" y="68.8" font-size="7.1" text-anchor="middle" font-weight="bold" font-style="italic" fill="#111"  stroke="#111" stroke-width="0.13">ICAM1</text>
<text x="649.6" y="11.3" font-size="7.1" text-anchor="middle" font-weight="normal" font-style="normal" fill="#1a1a1a"  stroke="#1a1a1a" stroke-width="0.13">Leading hits</text>
<text x="6.3" y="129.6" font-size="10.5" text-anchor="start" font-weight="bold" font-style="normal" fill="#000"  stroke="#000" stroke-width="0.13">b</text>
<text x="43.3" y="148.0" font-size="7.1" text-anchor="end" font-weight="normal" font-style="italic" fill="#1a1a1a"  stroke="#1a1a1a" stroke-width="0.13">ICAM1</text>
<text x="43.3" y="163.5" font-size="7.1" text-anchor="end" font-weight="normal" font-style="italic" fill="#1a1a1a"  stroke="#1a1a1a" stroke-width="0.13">PLAUR</text>
<text x="43.3" y="179.5" font-size="7.1" text-anchor="end" font-weight="normal" font-style="italic" fill="#1a1a1a"  stroke="#1a1a1a" stroke-width="0.13">THBD</text>
<text x="104.0" y="135.8" font-size="7" text-anchor="middle" font-weight="normal" font-style="normal" fill="#1a1a1a"  stroke="#1a1a1a" stroke-width="0.13">TCGA_LGG (511)</text>
<rect x="72.0" y="138.4" width="63.9" height="14.2" fill="#c0c0c0" />
<rect x="72.0" y="138.4" width="52.1" height="14.2" fill="#fa1c0c" />
<rect x="124.5" y="143.1" width="11.4" height="4.8" fill="#6ef52a" />
<text x="69.5" y="148.0" font-size="7" text-anchor="end" font-weight="normal" font-style="normal" fill="#1a1a1a"  stroke="#1a1a1a" stroke-width="0.13">2.7%</text>
<rect x="72.0" y="154.2" width="63.9" height="13.6" fill="#c0c0c0" />
<rect x="72.0" y="154.2" width="26.9" height="13.6" fill="#fa1c0c" />
<rect x="99.6" y="154.2" width="15.4" height="13.6" fill="#0c0cf0" />
<rect x="115.3" y="158.6" width="4.7" height="4.8" fill="#6ef52a" />
<rect x="120.0" y="154.2" width="1.0" height="13.6" fill="#f4f4f4" />
<text x="69.5" y="163.5" font-size="7" text-anchor="end" font-weight="normal" font-style="normal" fill="#1a1a1a"  stroke="#1a1a1a" stroke-width="0.13">1.6%</text>
<rect x="72.0" y="169.9" width="63.9" height="14.1" fill="#c0c0c0" />
<rect x="72.0" y="169.9" width="27.3" height="14.1" fill="#0c0cf0" />
<text x="69.5" y="179.4" font-size="7" text-anchor="end" font-weight="normal" font-style="normal" fill="#1a1a1a"  stroke="#1a1a1a" stroke-width="0.13">0.8%</text>
<text x="198.8" y="135.8" font-size="7" text-anchor="middle" font-weight="normal" font-style="normal" fill="#1a1a1a"  stroke="#1a1a1a" stroke-width="0.13">TCGA_GBMLGG (889)</text>
<rect x="162.7" y="138.4" width="72.1" height="14.2" fill="#c0c0c0" />
<rect x="162.7" y="138.4" width="53.3" height="14.2" fill="#fa1c0c" />
<rect x="216.4" y="143.1" width="18.4" height="4.8" fill="#6ef52a" />
<text x="160.2" y="148.0" font-size="7" text-anchor="end" font-weight="normal" font-style="normal" fill="#1a1a1a"  stroke="#1a1a1a" stroke-width="0.13">2.1%</text>
<rect x="162.7" y="154.2" width="72.1" height="13.6" fill="#c0c0c0" />
<rect x="162.7" y="154.2" width="23.9" height="13.6" fill="#fa1c0c" />
<rect x="186.6" y="154.2" width="22.6" height="13.6" fill="#0c0cf0" />
<rect x="209.6" y="158.6" width="5.9" height="4.8" fill="#6ef52a" />
<rect x="215.6" y="154.2" width="0.6" height="13.6" fill="#f4f4f4" />
<text x="160.2" y="163.5" font-size="7" text-anchor="end" font-weight="normal" font-style="normal" fill="#1a1a1a"  stroke="#1a1a1a" stroke-width="0.13">1.1%</text>
<rect x="162.7" y="169.9" width="72.1" height="14.1" fill="#c0c0c0" />
<rect x="162.7" y="169.9" width="15.4" height="14.1" fill="#0c0cf0" />
<text x="160.2" y="179.4" font-size="7" text-anchor="end" font-weight="normal" font-style="normal" fill="#1a1a1a"  stroke="#1a1a1a" stroke-width="0.13">0.4%</text>
<text x="290.5" y="135.8" font-size="7" text-anchor="middle" font-weight="normal" font-style="normal" fill="#1a1a1a"  stroke="#1a1a1a" stroke-width="0.13">TCGA_GBM (387)</text>
<rect x="260.1" y="138.4" width="60.8" height="14.2" fill="#c0c0c0" />
<rect x="260.1" y="138.4" width="19.9" height="14.2" fill="#fa1c0c" />
<rect x="280.8" y="143.1" width="6.2" height="4.8" fill="#6ef52a" />
<rect x="287.2" y="138.4" width="0.7" height="14.2" fill="#f4f4f4" />
<text x="257.6" y="148.0" font-size="7" text-anchor="end" font-weight="normal" font-style="normal" fill="#1a1a1a"  stroke="#1a1a1a" stroke-width="0.13">1.3%</text>
<rect x="260.1" y="154.2" width="60.8" height="13.6" fill="#c0c0c0" />
<rect x="260.1" y="154.2" width="7.9" height="13.6" fill="#fa1c0c" />
<rect x="268.4" y="158.6" width="5.8" height="4.8" fill="#6ef52a" />
<rect x="274.5" y="154.2" width="0.7" height="13.6" fill="#f4f4f4" />
<text x="257.6" y="163.5" font-size="7" text-anchor="end" font-weight="normal" font-style="normal" fill="#1a1a1a"  stroke="#1a1a1a" stroke-width="0.13">0.5%</text>
<rect x="260.1" y="169.9" width="60.8" height="14.1" fill="#c0c0c0" />
<text x="257.6" y="179.4" font-size="7" text-anchor="end" font-weight="normal" font-style="normal" fill="#1a1a1a"  stroke="#1a1a1a" stroke-width="0.13">0%</text>
<text x="18.5" y="204.0" font-size="7.1" text-anchor="start" font-weight="normal" font-style="normal" fill="#1a1a1a"  stroke="#1a1a1a" stroke-width="0.13">Genetic alteration</text>
<rect x="81.8" y="193.6" width="3.7" height="14.2" fill="#fa1c0c" />
<text x="88.2" y="204.0" font-size="7.1" text-anchor="start" font-weight="normal" font-style="normal" fill="#1a1a1a"  stroke="#1a1a1a" stroke-width="0.13">Amplification</text>
<rect x="134.7" y="193.6" width="4.1" height="14.2" fill="#c0c0c0" />
<rect x="134.7" y="198.2" width="4.1" height="4.9" fill="#6ef52a" />
<text x="144.8" y="204.0" font-size="7.1" text-anchor="start" font-weight="normal" font-style="normal" fill="#1a1a1a"  stroke="#1a1a1a" stroke-width="0.13">Missense Mutation</text>
<rect x="214.2" y="193.6" width="3.7" height="14.2" fill="#0c0cf0" />
<text x="220.4" y="204.0" font-size="7.1" text-anchor="start" font-weight="normal" font-style="normal" fill="#1a1a1a"  stroke="#1a1a1a" stroke-width="0.13">Deep Deletion</text>
<rect x="275.2" y="193.6" width="3.6" height="14.2" fill="#c0c0c0" />
<text x="280.7" y="204.0" font-size="7.1" text-anchor="start" font-weight="normal" font-style="normal" fill="#1a1a1a"  stroke="#1a1a1a" stroke-width="0.13">No alteration</text>
<text x="328.6" y="129.6" font-size="10.5" text-anchor="start" font-weight="bold" font-style="normal" fill="#000"  stroke="#000" stroke-width="0.13">c</text>
<line x1="370.5" y1="130.0" x2="370.5" y2="209.0" stroke="#4a4a4a" stroke-width="0.95"/>
<line x1="367.9" y1="130.0" x2="370.5" y2="130.0" stroke="#4a4a4a" stroke-width="0.95"/>
<text x="363.3" y="132.2" font-size="7" text-anchor="end" font-weight="normal" font-style="normal" fill="#1a1a1a"  stroke="#1a1a1a" stroke-width="0.13">15</text>
<line x1="367.9" y1="146.0" x2="370.5" y2="146.0" stroke="#4a4a4a" stroke-width="0.95"/>
<text x="363.3" y="148.2" font-size="7" text-anchor="end" font-weight="normal" font-style="normal" fill="#1a1a1a"  stroke="#1a1a1a" stroke-width="0.13">12</text>
<line x1="367.9" y1="161.5" x2="370.5" y2="161.5" stroke="#4a4a4a" stroke-width="0.95"/>
<text x="363.3" y="163.7" font-size="7" text-anchor="end" font-weight="normal" font-style="normal" fill="#1a1a1a"  stroke="#1a1a1a" stroke-width="0.13">9</text>
<line x1="367.9" y1="177.1" x2="370.5" y2="177.1" stroke="#4a4a4a" stroke-width="0.95"/>
<text x="363.3" y="179.3" font-size="7" text-anchor="end" font-weight="normal" font-style="normal" fill="#1a1a1a"  stroke="#1a1a1a" stroke-width="0.13">6</text>
<line x1="367.9" y1="192.7" x2="370.5" y2="192.7" stroke="#4a4a4a" stroke-width="0.95"/>
<text x="363.3" y="194.9" font-size="7" text-anchor="end" font-weight="normal" font-style="normal" fill="#1a1a1a"  stroke="#1a1a1a" stroke-width="0.13">3</text>
<line x1="367.9" y1="208.6" x2="370.5" y2="208.6" stroke="#4a4a4a" stroke-width="0.95"/>
<text x="363.3" y="210.8" font-size="7" text-anchor="end" font-weight="normal" font-style="normal" fill="#1a1a1a"  stroke="#1a1a1a" stroke-width="0.13">0</text>
<line x1="370.5" y1="208.6" x2="460.6" y2="208.6" stroke="#333" stroke-width="0.9"/>
<line x1="396.4" y1="208.6" x2="396.4" y2="212.0" stroke="#333" stroke-width="0.9"/>
<line x1="434.3" y1="208.6" x2="434.3" y2="212.0" stroke="#333" stroke-width="0.9"/>
<text x="0" y="0" font-size="7.3" text-anchor="middle" fill="#1a1a1a" font-style="normal" transform="translate(350.9,170.3) rotate(-90)" stroke="#1a1a1a" stroke-width="0.13">mRNA expression (Log2)</text>
<text x="0" y="0" font-size="8.9" text-anchor="middle" fill="#1a1a1a" transform="translate(415.60,130.60) scale(0.965,1)" stroke="#1a1a1a" stroke-width="0.13">TCGA</text>
<text x="415" y="142.4" font-size="5.1" text-anchor="middle" fill="#1a1a1a" fill-opacity="0.8"><tspan font-style="italic">P</tspan> = 0.0055</text>
<path d="M396.4,149.0 L396.4,145.3 L434.3,145.3 L434.3,149.0" fill="none" stroke="#222" stroke-width="0.8" stroke-linejoin="round" />
<rect x="386.0" y="181.6" width="21.0" height="4.2" fill="none" stroke="#222" stroke-width="0.8"/>
<line x1="396.4" y1="180.0" x2="396.4" y2="187.0" stroke="#222" stroke-width="0.7"/>
<line x1="390.0" y1="180.4" x2="402.6" y2="180.4" stroke="#222" stroke-width="0.8"/>
<line x1="390.0" y1="183.8" x2="402.6" y2="183.8" stroke="#222" stroke-width="0.8"/>
<circle cx="396.7" cy="184.0" r="0.7" fill="#222" />
<circle cx="400.1" cy="185.0" r="0.7" fill="#222" />
<circle cx="392.2" cy="184.4" r="0.7" fill="#222" />
<circle cx="396.2" cy="183.8" r="0.7" fill="#222" />
<circle cx="399.6" cy="183.7" r="0.7" fill="#222" />
<circle cx="396.3" cy="185.6" r="0.7" fill="#222" />
<circle cx="396.0" cy="184.0" r="0.7" fill="#222" />
<circle cx="396.6" cy="185.3" r="0.7" fill="#222" />
<rect x="421.9" y="174.3" width="25.3" height="8.0" fill="none" stroke="#222" stroke-width="0.8"/>
<line x1="434.3" y1="153.2" x2="434.3" y2="174.3" stroke="#222" stroke-width="0.8"/>
<line x1="427.9" y1="153.2" x2="440.5" y2="153.2" stroke="#222" stroke-width="0.8"/>
<g fill="#ff1a10"><circle cx="435.2" cy="167.2" r="0.8"/><circle cx="427.8" cy="180.3" r="0.8"/><circle cx="434.8" cy="156.6" r="0.8"/><circle cx="436.4" cy="173.0" r="0.8"/><circle cx="425.5" cy="178.2" r="0.8"/><circle cx="435.9" cy="177.5" r="0.8"/><circle cx="430.0" cy="183.9" r="0.8"/><circle cx="438.9" cy="171.3" r="0.8"/><circle cx="434.6" cy="183.4" r="0.8"/><circle cx="433.2" cy="167.9" r="0.8"/><circle cx="443.5" cy="183.7" r="0.8"/><circle cx="432.3" cy="172.7" r="0.8"/><circle cx="434.9" cy="171.9" r="0.8"/><circle cx="439.3" cy="181.2" r="0.8"/><circle cx="433.2" cy="181.4" r="0.8"/><circle cx="443.6" cy="186.1" r="0.8"/><circle cx="439.9" cy="175.6" r="0.8"/><circle cx="429.2" cy="176.9" r="0.8"/><circle cx="444.7" cy="182.7" r="0.8"/><circle cx="433.4" cy="160.3" r="0.8"/><circle cx="432.3" cy="180.8" r="0.8"/><circle cx="441.0" cy="176.3" r="0.8"/><circle cx="426.2" cy="177.3" r="0.8"/><circle cx="440.6" cy="177.6" r="0.8"/><circle cx="435.1" cy="173.6" r="0.8"/><circle cx="425.7" cy="187.7" r="0.8"/><circle cx="438.0" cy="178.8" r="0.8"/><circle cx="432.8" cy="171.6" r="0.8"/><circle cx="443.9" cy="179.6" r="0.8"/><circle cx="435.3" cy="183.6" r="0.8"/><circle cx="445.0" cy="182.9" r="0.8"/><circle cx="444.1" cy="187.2" r="0.8"/><circle cx="431.6" cy="176.2" r="0.8"/><circle cx="436.0" cy="168.9" r="0.8"/><circle cx="434.5" cy="163.6" r="0.8"/><circle cx="433.4" cy="180.9" r="0.8"/><circle cx="428.7" cy="176.5" r="0.8"/><circle cx="442.7" cy="186.3" r="0.8"/><circle cx="425.2" cy="183.9" r="0.8"/><circle cx="434.0" cy="172.0" r="0.8"/><circle cx="431.6" cy="170.9" r="0.8"/><circle cx="432.3" cy="167.3" r="0.8"/><circle cx="437.9" cy="171.3" r="0.8"/><circle cx="424.0" cy="180.8" r="0.8"/><circle cx="436.4" cy="187.8" r="0.8"/><circle cx="426.9" cy="179.0" r="0.8"/><circle cx="433.1" cy="165.2" r="0.8"/><circle cx="434.2" cy="181.0" r="0.8"/><circle cx="440.2" cy="180.6" r="0.8"/><circle cx="436.2" cy="175.5" r="0.8"/><circle cx="424.0" cy="182.9" r="0.8"/><circle cx="427.5" cy="178.4" r="0.8"/><circle cx="439.8" cy="187.2" r="0.8"/><circle cx="440.3" cy="186.2" r="0.8"/><circle cx="436.5" cy="182.5" r="0.8"/><circle cx="429.6" cy="180.8" r="0.8"/><circle cx="444.9" cy="187.0" r="0.8"/><circle cx="442.3" cy="180.9" r="0.8"/><circle cx="434.2" cy="169.2" r="0.8"/><circle cx="439.6" cy="185.1" r="0.8"/><circle cx="444.8" cy="181.1" r="0.8"/><circle cx="424.1" cy="182.2" r="0.8"/><circle cx="421.9" cy="182.6" r="0.8"/><circle cx="431.1" cy="170.3" r="0.8"/><circle cx="436.8" cy="181.8" r="0.8"/><circle cx="429.1" cy="182.9" r="0.8"/><circle cx="437.4" cy="177.8" r="0.8"/><circle cx="438.7" cy="181.6" r="0.8"/><circle cx="427.7" cy="186.9" r="0.8"/><circle cx="444.4" cy="184.5" r="0.8"/><circle cx="446.1" cy="186.8" r="0.8"/><circle cx="441.8" cy="186.5" r="0.8"/><circle cx="431.1" cy="183.5" r="0.8"/><circle cx="438.4" cy="185.9" r="0.8"/><circle cx="434.6" cy="175.4" r="0.8"/><circle cx="438.4" cy="170.6" r="0.8"/><circle cx="433.4" cy="177.2" r="0.8"/><circle cx="439.4" cy="179.6" r="0.8"/><circle cx="430.4" cy="179.5" r="0.8"/><circle cx="436.5" cy="184.6" r="0.8"/><circle cx="433.0" cy="173.4" r="0.8"/><circle cx="429.5" cy="179.5" r="0.8"/><circle cx="435.3" cy="180.0" r="0.8"/><circle cx="442.5" cy="176.9" r="0.8"/><circle cx="429.9" cy="178.1" r="0.8"/><circle cx="430.5" cy="182.2" r="0.8"/><circle cx="440.5" cy="184.1" r="0.8"/><circle cx="429.8" cy="187.1" r="0.8"/><circle cx="429.9" cy="186.4" r="0.8"/><circle cx="432.7" cy="168.5" r="0.8"/><circle cx="427.5" cy="187.1" r="0.8"/><circle cx="442.8" cy="185.2" r="0.8"/><circle cx="435.1" cy="164.1" r="0.8"/><circle cx="429.0" cy="185.5" r="0.8"/><circle cx="438.4" cy="175.3" r="0.8"/><circle cx="439.4" cy="173.1" r="0.8"/><circle cx="432.3" cy="179.7" r="0.8"/><circle cx="429.6" cy="181.6" r="0.8"/><circle cx="444.6" cy="180.4" r="0.8"/><circle cx="432.0" cy="179.3" r="0.8"/><circle cx="426.7" cy="181.5" r="0.8"/><circle cx="434.8" cy="183.9" r="0.8"/><circle cx="432.7" cy="176.6" r="0.8"/><circle cx="438.4" cy="173.3" r="0.8"/><circle cx="426.0" cy="180.9" r="0.8"/><circle cx="442.5" cy="184.8" r="0.8"/><circle cx="429.9" cy="177.9" r="0.8"/><circle cx="427.2" cy="182.2" r="0.8"/><circle cx="434.7" cy="160.9" r="0.8"/><circle cx="431.5" cy="187.5" r="0.8"/><circle cx="440.8" cy="177.8" r="0.8"/><circle cx="434.7" cy="164.5" r="0.8"/><circle cx="431.8" cy="175.3" r="0.8"/><circle cx="437.7" cy="173.1" r="0.8"/><circle cx="422.9" cy="181.6" r="0.8"/><circle cx="434.4" cy="180.5" r="0.8"/><circle cx="435.1" cy="168.0" r="0.8"/><circle cx="432.2" cy="178.6" r="0.8"/><circle cx="445.8" cy="187.0" r="0.8"/><circle cx="433.5" cy="177.2" r="0.8"/><circle cx="433.9" cy="165.1" r="0.8"/><circle cx="433.0" cy="179.1" r="0.8"/><circle cx="443.5" cy="187.4" r="0.8"/><circle cx="439.8" cy="185.6" r="0.8"/><circle cx="429.5" cy="178.6" r="0.8"/><circle cx="434.8" cy="165.6" r="0.8"/><circle cx="427.4" cy="188.1" r="0.8"/><circle cx="433.2" cy="184.8" r="0.8"/><circle cx="433.6" cy="156.6" r="0.8"/><circle cx="445.8" cy="180.5" r="0.8"/><circle cx="433.7" cy="185.3" r="0.8"/><circle cx="424.7" cy="182.1" r="0.8"/><circle cx="438.6" cy="187.7" r="0.8"/><circle cx="422.1" cy="182.8" r="0.8"/><circle cx="435.8" cy="166.4" r="0.8"/><circle cx="423.5" cy="180.8" r="0.8"/><circle cx="423.3" cy="184.5" r="0.8"/><circle cx="437.9" cy="184.3" r="0.8"/><circle cx="424.3" cy="185.1" r="0.8"/><circle cx="430.4" cy="173.9" r="0.8"/><circle cx="435.8" cy="168.6" r="0.8"/><circle cx="437.3" cy="178.3" r="0.8"/><circle cx="427.6" cy="177.5" r="0.8"/><circle cx="423.3" cy="185.2" r="0.8"/><circle cx="437.5" cy="180.9" r="0.8"/><circle cx="425.5" cy="179.3" r="0.8"/><circle cx="433.9" cy="154.3" r="0.8"/><circle cx="438.5" cy="185.9" r="0.8"/><circle cx="444.7" cy="185.9" r="0.8"/><circle cx="440.4" cy="178.1" r="0.8"/><circle cx="421.5" cy="184.5" r="0.8"/><circle cx="442.4" cy="183.1" r="0.8"/><circle cx="434.4" cy="155.7" r="0.8"/><circle cx="425.1" cy="181.7" r="0.8"/><circle cx="433.2" cy="176.0" r="0.8"/><circle cx="430.0" cy="172.3" r="0.8"/><circle cx="441.6" cy="178.8" r="0.8"/><circle cx="425.0" cy="187.6" r="0.8"/><circle cx="434.6" cy="155.7" r="0.8"/><circle cx="433.7" cy="174.2" r="0.8"/><circle cx="443.0" cy="178.9" r="0.8"/><circle cx="422.6" cy="182.6" r="0.8"/><circle cx="442.2" cy="187.7" r="0.8"/><circle cx="445.7" cy="180.0" r="0.8"/><circle cx="428.7" cy="179.6" r="0.8"/><circle cx="432.8" cy="167.6" r="0.8"/><circle cx="429.9" cy="184.4" r="0.8"/><circle cx="443.3" cy="180.3" r="0.8"/><circle cx="424.9" cy="181.1" r="0.8"/><circle cx="437.4" cy="182.2" r="0.8"/><circle cx="435.0" cy="187.2" r="0.8"/><circle cx="441.3" cy="176.0" r="0.8"/><circle cx="438.8" cy="177.3" r="0.8"/><circle cx="428.9" cy="179.7" r="0.8"/><circle cx="436.4" cy="187.1" r="0.8"/><circle cx="437.5" cy="176.2" r="0.8"/><circle cx="433.0" cy="163.8" r="0.8"/><circle cx="434.3" cy="158.0" r="0.8"/><circle cx="429.4" cy="187.3" r="0.8"/><circle cx="425.0" cy="180.2" r="0.8"/><circle cx="438.5" cy="177.4" r="0.8"/><circle cx="428.9" cy="181.4" r="0.8"/><circle cx="438.3" cy="185.0" r="0.8"/><circle cx="429.2" cy="173.2" r="0.8"/><circle cx="431.9" cy="171.5" r="0.8"/><circle cx="431.5" cy="181.2" r="0.8"/><circle cx="427.2" cy="180.1" r="0.8"/><circle cx="422.6" cy="182.6" r="0.8"/><circle cx="434.0" cy="168.5" r="0.8"/><circle cx="426.7" cy="178.2" r="0.8"/><circle cx="432.2" cy="170.0" r="0.8"/><circle cx="431.5" cy="168.6" r="0.8"/><circle cx="423.8" cy="186.2" r="0.8"/><circle cx="425.2" cy="187.1" r="0.8"/><circle cx="428.0" cy="186.4" r="0.8"/><circle cx="433.8" cy="160.5" r="0.8"/><circle cx="440.1" cy="185.7" r="0.8"/><circle cx="427.9" cy="176.5" r="0.8"/><circle cx="428.8" cy="187.8" r="0.8"/><circle cx="434.0" cy="171.2" r="0.8"/><circle cx="428.6" cy="179.2" r="0.8"/><circle cx="439.2" cy="176.1" r="0.8"/><circle cx="443.0" cy="186.5" r="0.8"/><circle cx="444.0" cy="179.5" r="0.8"/><circle cx="439.1" cy="175.0" r="0.8"/><circle cx="437.6" cy="169.2" r="0.8"/><circle cx="427.5" cy="184.4" r="0.8"/><circle cx="443.6" cy="184.4" r="0.8"/><circle cx="444.9" cy="186.9" r="0.8"/><circle cx="436.6" cy="167.4" r="0.8"/><circle cx="433.9" cy="156.7" r="0.8"/><circle cx="435.1" cy="183.8" r="0.8"/><circle cx="438.2" cy="183.0" r="0.8"/><circle cx="432.0" cy="171.2" r="0.8"/><circle cx="439.3" cy="176.3" r="0.8"/><circle cx="426.5" cy="184.8" r="0.8"/><circle cx="436.6" cy="173.2" r="0.8"/><circle cx="438.6" cy="177.0" r="0.8"/><circle cx="436.8" cy="175.1" r="0.8"/><circle cx="433.7" cy="181.3" r="0.8"/><circle cx="436.9" cy="177.0" r="0.8"/><circle cx="432.7" cy="180.8" r="0.8"/><circle cx="432.1" cy="186.9" r="0.8"/><circle cx="428.0" cy="187.0" r="0.8"/><circle cx="437.8" cy="179.0" r="0.8"/><circle cx="427.9" cy="180.1" r="0.8"/><circle cx="430.8" cy="186.4" r="0.8"/><circle cx="428.0" cy="177.9" r="0.8"/><circle cx="435.7" cy="170.1" r="0.8"/><circle cx="442.2" cy="187.1" r="0.8"/><circle cx="437.5" cy="175.7" r="0.8"/><circle cx="440.2" cy="187.2" r="0.8"/><circle cx="442.9" cy="182.1" r="0.8"/><circle cx="426.5" cy="184.0" r="0.8"/><circle cx="425.4" cy="178.7" r="0.8"/><circle cx="429.2" cy="177.6" r="0.8"/><circle cx="428.0" cy="187.9" r="0.8"/><circle cx="425.7" cy="186.1" r="0.8"/><circle cx="430.8" cy="170.0" r="0.8"/><circle cx="439.8" cy="177.7" r="0.8"/><circle cx="434.1" cy="178.8" r="0.8"/><circle cx="430.4" cy="172.8" r="0.8"/><circle cx="438.3" cy="177.5" r="0.8"/><circle cx="436.4" cy="181.4" r="0.8"/><circle cx="427.8" cy="181.5" r="0.8"/><circle cx="430.8" cy="173.0" r="0.8"/><circle cx="436.0" cy="173.6" r="0.8"/><circle cx="438.9" cy="178.6" r="0.8"/><circle cx="428.5" cy="176.5" r="0.8"/><circle cx="445.6" cy="182.3" r="0.8"/><circle cx="429.9" cy="181.1" r="0.8"/><circle cx="436.5" cy="178.5" r="0.8"/><circle cx="434.3" cy="156.2" r="0.8"/><circle cx="426.5" cy="184.1" r="0.8"/><circle cx="436.3" cy="171.5" r="0.8"/><circle cx="434.1" cy="156.8" r="0.8"/><circle cx="435.7" cy="170.1" r="0.8"/><circle cx="433.1" cy="180.3" r="0.8"/><circle cx="437.2" cy="185.8" r="0.8"/><circle cx="427.2" cy="175.5" r="0.8"/><circle cx="428.1" cy="174.9" r="0.8"/><circle cx="432.9" cy="179.6" r="0.8"/><circle cx="425.2" cy="180.2" r="0.8"/><circle cx="430.6" cy="180.1" r="0.8"/><circle cx="429.3" cy="187.4" r="0.8"/><circle cx="445.9" cy="185.0" r="0.8"/><circle cx="433.8" cy="174.4" r="0.8"/><circle cx="426.9" cy="178.3" r="0.8"/><circle cx="439.8" cy="188.1" r="0.8"/><circle cx="427.5" cy="179.4" r="0.8"/><circle cx="421.7" cy="183.6" r="0.8"/><circle cx="443.5" cy="180.0" r="0.8"/><circle cx="442.7" cy="186.7" r="0.8"/><circle cx="431.0" cy="182.0" r="0.8"/><circle cx="433.0" cy="166.4" r="0.8"/><circle cx="437.7" cy="185.2" r="0.8"/><circle cx="427.7" cy="184.4" r="0.8"/><circle cx="446.5" cy="185.6" r="0.8"/><circle cx="440.8" cy="178.8" r="0.8"/><circle cx="425.2" cy="183.0" r="0.8"/><circle cx="438.6" cy="186.2" r="0.8"/><circle cx="440.3" cy="176.1" r="0.8"/><circle cx="427.6" cy="180.7" r="0.8"/><circle cx="433.3" cy="161.0" r="0.8"/><circle cx="433.5" cy="179.2" r="0.8"/><circle cx="437.5" cy="186.8" r="0.8"/><circle cx="444.5" cy="184.7" r="0.8"/><circle cx="442.2" cy="179.0" r="0.8"/><circle cx="435.3" cy="173.3" r="0.8"/><circle cx="433.9" cy="182.4" r="0.8"/><circle cx="432.0" cy="176.6" r="0.8"/><circle cx="442.1" cy="177.6" r="0.8"/><circle cx="434.4" cy="168.2" r="0.8"/><circle cx="430.8" cy="182.0" r="0.8"/><circle cx="443.5" cy="181.4" r="0.8"/><circle cx="432.5" cy="188.1" r="0.8"/><circle cx="444.1" cy="181.2" r="0.8"/><circle cx="445.2" cy="183.7" r="0.8"/><circle cx="434.3" cy="160.3" r="0.8"/><circle cx="445.9" cy="184.8" r="0.8"/><circle cx="435.8" cy="172.8" r="0.8"/><circle cx="436.8" cy="181.4" r="0.8"/><circle cx="430.6" cy="169.6" r="0.8"/><circle cx="428.9" cy="179.5" r="0.8"/><circle cx="435.3" cy="171.3" r="0.8"/><circle cx="436.5" cy="185.0" r="0.8"/><circle cx="438.6" cy="178.5" r="0.8"/><circle cx="441.0" cy="178.2" r="0.8"/><circle cx="445.3" cy="185.7" r="0.8"/><circle cx="431.4" cy="168.7" r="0.8"/><circle cx="425.7" cy="181.2" r="0.8"/><circle cx="437.9" cy="188.3" r="0.8"/><circle cx="429.5" cy="174.9" r="0.8"/><circle cx="433.6" cy="160.7" r="0.8"/><circle cx="435.0" cy="169.7" r="0.8"/><circle cx="431.1" cy="187.2" r="0.8"/><circle cx="427.9" cy="177.5" r="0.8"/><circle cx="421.6" cy="183.6" r="0.8"/><circle cx="430.6" cy="183.1" r="0.8"/><circle cx="431.0" cy="186.6" r="0.8"/><circle cx="436.6" cy="183.1" r="0.8"/><circle cx="442.2" cy="177.0" r="0.8"/><circle cx="430.9" cy="172.4" r="0.8"/><circle cx="430.1" cy="181.3" r="0.8"/><circle cx="433.7" cy="185.9" r="0.8"/><circle cx="428.7" cy="185.3" r="0.8"/><circle cx="443.0" cy="179.0" r="0.8"/><circle cx="444.6" cy="186.5" r="0.8"/><circle cx="435.9" cy="168.4" r="0.8"/><circle cx="423.9" cy="183.4" r="0.8"/><circle cx="436.8" cy="183.9" r="0.8"/><circle cx="425.7" cy="187.6" r="0.8"/><circle cx="434.7" cy="157.4" r="0.8"/><circle cx="429.2" cy="175.3" r="0.8"/><circle cx="428.1" cy="178.0" r="0.8"/><circle cx="434.9" cy="179.1" r="0.8"/><circle cx="433.2" cy="177.1" r="0.8"/><circle cx="433.2" cy="181.0" r="0.8"/><circle cx="430.1" cy="184.2" r="0.8"/><circle cx="435.9" cy="183.4" r="0.8"/><circle cx="422.6" cy="180.8" r="0.8"/><circle cx="438.4" cy="181.3" r="0.8"/><circle cx="437.1" cy="186.8" r="0.8"/><circle cx="441.9" cy="181.0" r="0.8"/><circle cx="437.8" cy="170.3" r="0.8"/><circle cx="440.2" cy="179.8" r="0.8"/><circle cx="439.8" cy="173.8" r="0.8"/><circle cx="434.2" cy="176.0" r="0.8"/><circle cx="437.5" cy="178.6" r="0.8"/><circle cx="446.7" cy="185.6" r="0.8"/><circle cx="433.2" cy="181.6" r="0.8"/><circle cx="445.9" cy="183.6" r="0.8"/><circle cx="436.2" cy="169.7" r="0.8"/><circle cx="433.8" cy="181.8" r="0.8"/><circle cx="433.4" cy="184.6" r="0.8"/><circle cx="443.4" cy="178.8" r="0.8"/><circle cx="426.6" cy="181.8" r="0.8"/><circle cx="431.4" cy="170.7" r="0.8"/><circle cx="441.4" cy="185.9" r="0.8"/><circle cx="435.1" cy="180.3" r="0.8"/><circle cx="424.1" cy="183.3" r="0.8"/><circle cx="438.9" cy="185.3" r="0.8"/><circle cx="433.5" cy="179.4" r="0.8"/><circle cx="444.7" cy="182.1" r="0.8"/><circle cx="430.7" cy="172.6" r="0.8"/><circle cx="433.2" cy="170.5" r="0.8"/><circle cx="439.2" cy="173.9" r="0.8"/><circle cx="435.8" cy="187.8" r="0.8"/><circle cx="435.4" cy="187.2" r="0.8"/><circle cx="433.4" cy="164.1" r="0.8"/><circle cx="441.0" cy="175.3" r="0.8"/><circle cx="442.5" cy="177.3" r="0.8"/><circle cx="439.8" cy="175.4" r="0.8"/><circle cx="436.1" cy="176.7" r="0.8"/><circle cx="434.4" cy="155.3" r="0.8"/><circle cx="441.6" cy="176.7" r="0.8"/><circle cx="425.3" cy="178.2" r="0.8"/><circle cx="442.5" cy="184.9" r="0.8"/><circle cx="438.6" cy="171.3" r="0.8"/><circle cx="438.8" cy="187.7" r="0.8"/><circle cx="438.0" cy="176.1" r="0.8"/><circle cx="438.6" cy="172.5" r="0.8"/><circle cx="434.2" cy="153.5" r="0.8"/><circle cx="434.2" cy="161.5" r="0.8"/><circle cx="438.2" cy="180.1" r="0.8"/><circle cx="434.4" cy="182.5" r="0.8"/><circle cx="426.4" cy="185.7" r="0.8"/><circle cx="434.0" cy="155.5" r="0.8"/><circle cx="432.5" cy="185.2" r="0.8"/><circle cx="433.5" cy="158.9" r="0.8"/><circle cx="425.6" cy="183.0" r="0.8"/><circle cx="434.4" cy="175.1" r="0.8"/><circle cx="435.2" cy="164.9" r="0.8"/><circle cx="427.6" cy="178.4" r="0.8"/><circle cx="437.1" cy="176.7" r="0.8"/><circle cx="432.2" cy="167.1" r="0.8"/><circle cx="432.6" cy="176.7" r="0.8"/><circle cx="428.0" cy="177.4" r="0.8"/><circle cx="435.7" cy="170.3" r="0.8"/><circle cx="425.6" cy="181.8" r="0.8"/><circle cx="435.8" cy="170.1" r="0.8"/><circle cx="443.3" cy="177.7" r="0.8"/><circle cx="430.0" cy="181.4" r="0.8"/><circle cx="438.3" cy="178.6" r="0.8"/><circle cx="431.6" cy="168.5" r="0.8"/><circle cx="440.0" cy="175.5" r="0.8"/><circle cx="431.9" cy="178.4" r="0.8"/><circle cx="426.4" cy="176.8" r="0.8"/><circle cx="440.0" cy="188.3" r="0.8"/><circle cx="436.4" cy="180.8" r="0.8"/><circle cx="443.9" cy="187.3" r="0.8"/><circle cx="434.5" cy="173.0" r="0.8"/><circle cx="433.3" cy="170.1" r="0.8"/><circle cx="434.6" cy="177.9" r="0.8"/><circle cx="432.4" cy="171.1" r="0.8"/><circle cx="440.0" cy="182.0" r="0.8"/><circle cx="428.7" cy="179.0" r="0.8"/><circle cx="438.5" cy="180.8" r="0.8"/><circle cx="434.0" cy="162.7" r="0.8"/><circle cx="428.3" cy="187.2" r="0.8"/><circle cx="435.4" cy="164.9" r="0.8"/><circle cx="431.5" cy="179.1" r="0.8"/><circle cx="432.8" cy="183.0" r="0.8"/><circle cx="427.4" cy="187.5" r="0.8"/><circle cx="443.2" cy="183.2" r="0.8"/><circle cx="426.4" cy="184.5" r="0.8"/><circle cx="425.4" cy="180.4" r="0.8"/><circle cx="431.7" cy="185.0" r="0.8"/><circle cx="428.0" cy="174.1" r="0.8"/><circle cx="438.4" cy="179.9" r="0.8"/><circle cx="427.3" cy="175.1" r="0.8"/><circle cx="430.7" cy="176.9" r="0.8"/><circle cx="436.5" cy="185.2" r="0.8"/><circle cx="428.7" cy="173.3" r="0.8"/><circle cx="429.2" cy="174.3" r="0.8"/><circle cx="446.6" cy="184.9" r="0.8"/><circle cx="435.7" cy="166.4" r="0.8"/><circle cx="441.0" cy="181.7" r="0.8"/><circle cx="435.4" cy="180.5" r="0.8"/><circle cx="445.3" cy="179.6" r="0.8"/><circle cx="433.4" cy="160.5" r="0.8"/><circle cx="437.4" cy="170.5" r="0.8"/><circle cx="431.2" cy="174.8" r="0.8"/><circle cx="435.0" cy="166.1" r="0.8"/><circle cx="432.6" cy="171.8" r="0.8"/><circle cx="432.2" cy="182.9" r="0.8"/><circle cx="431.9" cy="186.9" r="0.8"/><circle cx="432.7" cy="176.5" r="0.8"/><circle cx="438.5" cy="187.0" r="0.8"/><circle cx="431.6" cy="174.8" r="0.8"/><circle cx="436.4" cy="177.0" r="0.8"/><circle cx="427.8" cy="180.6" r="0.8"/><circle cx="437.6" cy="187.3" r="0.8"/><circle cx="429.5" cy="187.4" r="0.8"/><circle cx="442.6" cy="182.9" r="0.8"/><circle cx="438.0" cy="171.4" r="0.8"/><circle cx="441.0" cy="177.4" r="0.8"/><circle cx="433.7" cy="165.0" r="0.8"/><circle cx="434.5" cy="155.3" r="0.8"/><circle cx="443.5" cy="185.6" r="0.8"/><circle cx="438.9" cy="188.0" r="0.8"/><circle cx="427.7" cy="181.7" r="0.8"/><circle cx="439.4" cy="183.5" r="0.8"/><circle cx="437.6" cy="169.1" r="0.8"/><circle cx="439.1" cy="182.4" r="0.8"/><circle cx="432.9" cy="167.0" r="0.8"/><circle cx="434.5" cy="186.8" r="0.8"/><circle cx="436.5" cy="170.7" r="0.8"/><circle cx="431.2" cy="179.4" r="0.8"/><circle cx="432.3" cy="178.9" r="0.8"/><circle cx="438.3" cy="171.6" r="0.8"/><circle cx="439.6" cy="180.9" r="0.8"/><circle cx="432.4" cy="175.5" r="0.8"/><circle cx="433.5" cy="173.5" r="0.8"/><circle cx="438.4" cy="175.2" r="0.8"/><circle cx="441.7" cy="180.8" r="0.8"/><circle cx="424.6" cy="186.7" r="0.8"/><circle cx="425.3" cy="183.7" r="0.8"/><circle cx="434.9" cy="160.1" r="0.8"/><circle cx="434.0" cy="175.9" r="0.8"/><circle cx="435.2" cy="177.5" r="0.8"/><circle cx="441.5" cy="179.0" r="0.8"/><circle cx="427.8" cy="183.8" r="0.8"/><circle cx="425.2" cy="180.9" r="0.8"/><circle cx="433.9" cy="160.9" r="0.8"/><circle cx="434.9" cy="160.4" r="0.8"/><circle cx="426.3" cy="182.4" r="0.8"/><circle cx="435.1" cy="172.8" r="0.8"/><circle cx="430.9" cy="183.6" r="0.8"/><circle cx="421.7" cy="184.2" r="0.8"/><circle cx="425.0" cy="182.8" r="0.8"/><circle cx="437.3" cy="178.8" r="0.8"/><circle cx="426.4" cy="176.2" r="0.8"/><circle cx="429.4" cy="174.1" r="0.8"/><circle cx="439.3" cy="176.7" r="0.8"/><circle cx="439.9" cy="181.6" r="0.8"/><circle cx="433.8" cy="166.1" r="0.8"/><circle cx="440.6" cy="182.5" r="0.8"/><circle cx="433.2" cy="162.9" r="0.8"/><circle cx="426.3" cy="180.0" r="0.8"/><circle cx="427.9" cy="186.2" r="0.8"/><circle cx="429.0" cy="172.9" r="0.8"/><circle cx="442.7" cy="178.1" r="0.8"/><circle cx="431.8" cy="178.3" r="0.8"/><circle cx="433.4" cy="160.9" r="0.8"/><circle cx="432.8" cy="167.8" r="0.8"/><circle cx="440.4" cy="182.7" r="0.8"/><circle cx="423.1" cy="183.6" r="0.8"/><circle cx="438.4" cy="177.6" r="0.8"/><circle cx="439.0" cy="175.7" r="0.8"/><circle cx="431.0" cy="170.5" r="0.8"/><circle cx="432.5" cy="178.5" r="0.8"/><circle cx="446.6" cy="184.6" r="0.8"/><circle cx="445.6" cy="184.6" r="0.8"/><circle cx="441.3" cy="174.7" r="0.8"/><circle cx="438.3" cy="172.8" r="0.8"/><circle cx="433.8" cy="174.8" r="0.8"/><circle cx="437.5" cy="178.3" r="0.8"/><circle cx="432.5" cy="187.0" r="0.8"/><circle cx="432.2" cy="179.2" r="0.8"/><circle cx="445.5" cy="187.2" r="0.8"/><circle cx="428.5" cy="182.5" r="0.8"/><circle cx="429.9" cy="180.9" r="0.8"/><circle cx="438.6" cy="182.8" r="0.8"/><circle cx="432.4" cy="173.1" r="0.8"/><circle cx="441.3" cy="178.4" r="0.8"/><circle cx="434.0" cy="167.0" r="0.8"/><circle cx="436.0" cy="166.4" r="0.8"/><circle cx="436.4" cy="166.3" r="0.8"/><circle cx="434.7" cy="153.9" r="0.8"/><circle cx="431.2" cy="173.6" r="0.8"/><circle cx="443.3" cy="184.4" r="0.8"/><circle cx="435.5" cy="181.7" r="0.8"/><circle cx="435.3" cy="181.8" r="0.8"/><circle cx="440.6" cy="175.2" r="0.8"/><circle cx="430.1" cy="181.8" r="0.8"/><circle cx="424.4" cy="185.8" r="0.8"/><circle cx="438.3" cy="186.0" r="0.8"/><circle cx="433.0" cy="186.2" r="0.8"/><circle cx="434.7" cy="164.2" r="0.8"/><circle cx="438.8" cy="181.6" r="0.8"/><circle cx="425.0" cy="184.6" r="0.8"/><circle cx="438.1" cy="170.5" r="0.8"/><circle cx="438.3" cy="188.3" r="0.8"/><circle cx="441.4" cy="175.4" r="0.8"/><circle cx="434.2" cy="159.2" r="0.8"/><circle cx="428.2" cy="180.6" r="0.8"/><circle cx="435.2" cy="170.9" r="0.8"/><circle cx="432.0" cy="188.3" r="0.8"/><circle cx="433.6" cy="153.4" r="0.8"/><circle cx="436.3" cy="182.6" r="0.8"/><circle cx="435.5" cy="167.3" r="0.8"/><circle cx="425.1" cy="181.3" r="0.8"/><circle cx="441.4" cy="176.5" r="0.8"/><circle cx="428.1" cy="182.2" r="0.8"/><circle cx="431.8" cy="173.4" r="0.8"/><circle cx="430.4" cy="179.9" r="0.8"/><circle cx="433.8" cy="187.3" r="0.8"/><circle cx="437.4" cy="175.5" r="0.8"/><circle cx="429.9" cy="186.5" r="0.8"/><circle cx="441.8" cy="184.0" r="0.8"/><circle cx="431.4" cy="181.3" r="0.8"/><circle cx="445.2" cy="186.8" r="0.8"/><circle cx="435.7" cy="181.4" r="0.8"/><circle cx="423.1" cy="180.4" r="0.8"/><circle cx="442.7" cy="186.1" r="0.8"/><circle cx="430.1" cy="185.9" r="0.8"/><circle cx="438.0" cy="173.5" r="0.8"/><circle cx="437.2" cy="171.0" r="0.8"/><circle cx="445.1" cy="182.1" r="0.8"/><circle cx="422.2" cy="181.7" r="0.8"/><circle cx="423.9" cy="183.7" r="0.8"/><circle cx="437.4" cy="180.1" r="0.8"/><circle cx="430.0" cy="182.5" r="0.8"/><circle cx="429.7" cy="182.5" r="0.8"/><circle cx="440.6" cy="177.2" r="0.8"/><circle cx="431.4" cy="173.1" r="0.8"/><circle cx="438.0" cy="172.2" r="0.8"/><circle cx="439.4" cy="184.5" r="0.8"/><circle cx="439.2" cy="176.8" r="0.8"/><circle cx="425.0" cy="180.1" r="0.8"/><circle cx="434.0" cy="158.6" r="0.8"/><circle cx="423.3" cy="184.1" r="0.8"/><circle cx="438.1" cy="179.7" r="0.8"/><circle cx="434.9" cy="178.3" r="0.8"/><circle cx="432.1" cy="177.8" r="0.8"/><circle cx="430.5" cy="179.2" r="0.8"/><circle cx="432.4" cy="175.6" r="0.8"/><circle cx="433.0" cy="185.6" r="0.8"/><circle cx="432.7" cy="180.2" r="0.8"/><circle cx="432.5" cy="188.1" r="0.8"/><circle cx="431.2" cy="182.7" r="0.8"/><circle cx="434.5" cy="176.4" r="0.8"/><circle cx="433.7" cy="185.1" r="0.8"/><circle cx="443.9" cy="187.1" r="0.8"/><circle cx="442.4" cy="182.0" r="0.8"/><circle cx="444.4" cy="178.9" r="0.8"/><circle cx="437.7" cy="184.5" r="0.8"/><circle cx="432.4" cy="165.9" r="0.8"/><circle cx="436.8" cy="167.8" r="0.8"/><circle cx="433.2" cy="168.1" r="0.8"/><circle cx="428.8" cy="187.7" r="0.8"/><circle cx="441.5" cy="184.5" r="0.8"/><circle cx="430.0" cy="171.9" r="0.8"/><circle cx="432.3" cy="176.6" r="0.8"/><circle cx="429.4" cy="185.5" r="0.8"/><circle cx="426.9" cy="176.2" r="0.8"/><circle cx="436.3" cy="170.2" r="0.8"/><circle cx="433.5" cy="175.1" r="0.8"/><circle cx="436.7" cy="176.8" r="0.8"/><circle cx="439.9" cy="183.7" r="0.8"/><circle cx="438.6" cy="177.9" r="0.8"/><circle cx="442.5" cy="187.9" r="0.8"/><circle cx="440.3" cy="180.8" r="0.8"/><circle cx="436.6" cy="170.3" r="0.8"/><circle cx="437.9" cy="175.5" r="0.8"/><circle cx="434.9" cy="176.7" r="0.8"/><circle cx="433.7" cy="165.1" r="0.8"/><circle cx="427.4" cy="178.8" r="0.8"/><circle cx="439.6" cy="178.9" r="0.8"/><circle cx="433.8" cy="158.2" r="0.8"/><circle cx="437.8" cy="171.2" r="0.8"/><circle cx="440.4" cy="186.2" r="0.8"/><circle cx="429.7" cy="177.6" r="0.8"/><circle cx="422.5" cy="186.6" r="0.8"/><circle cx="442.9" cy="184.8" r="0.8"/><circle cx="435.5" cy="163.9" r="0.8"/><circle cx="434.5" cy="168.8" r="0.8"/><circle cx="430.7" cy="180.4" r="0.8"/><circle cx="435.8" cy="185.5" r="0.8"/><circle cx="431.4" cy="169.8" r="0.8"/><circle cx="424.0" cy="184.3" r="0.8"/><circle cx="422.7" cy="185.8" r="0.8"/><circle cx="435.0" cy="177.8" r="0.8"/><circle cx="434.3" cy="182.5" r="0.8"/><circle cx="436.4" cy="176.6" r="0.8"/><circle cx="437.2" cy="171.7" r="0.8"/><circle cx="427.1" cy="183.5" r="0.8"/><circle cx="444.3" cy="180.1" r="0.8"/><circle cx="445.5" cy="186.9" r="0.8"/><circle cx="435.5" cy="184.5" r="0.8"/><circle cx="442.8" cy="186.3" r="0.8"/><circle cx="436.6" cy="180.4" r="0.8"/><circle cx="438.1" cy="178.6" r="0.8"/><circle cx="442.7" cy="177.0" r="0.8"/><circle cx="424.1" cy="186.5" r="0.8"/><circle cx="436.4" cy="177.9" r="0.8"/><circle cx="422.8" cy="181.8" r="0.8"/><circle cx="422.9" cy="185.7" r="0.8"/><circle cx="426.7" cy="179.2" r="0.8"/><circle cx="436.4" cy="184.8" r="0.8"/><circle cx="432.3" cy="186.5" r="0.8"/><circle cx="422.8" cy="182.8" r="0.8"/><circle cx="434.1" cy="177.6" r="0.8"/><circle cx="443.3" cy="181.4" r="0.8"/><circle cx="432.8" cy="167.9" r="0.8"/><circle cx="426.6" cy="188.0" r="0.8"/><circle cx="439.2" cy="177.7" r="0.8"/><circle cx="446.1" cy="182.2" r="0.8"/><circle cx="440.4" cy="179.4" r="0.8"/><circle cx="438.2" cy="185.6" r="0.8"/><circle cx="437.6" cy="173.8" r="0.8"/><circle cx="433.4" cy="173.3" r="0.8"/><circle cx="433.1" cy="172.9" r="0.8"/><circle cx="424.3" cy="187.4" r="0.8"/><circle cx="433.3" cy="178.5" r="0.8"/><circle cx="430.9" cy="174.0" r="0.8"/><circle cx="433.4" cy="186.2" r="0.8"/><circle cx="435.6" cy="164.5" r="0.8"/><circle cx="428.2" cy="182.6" r="0.8"/><circle cx="424.4" cy="183.6" r="0.8"/><circle cx="427.2" cy="178.3" r="0.8"/><circle cx="441.0" cy="176.6" r="0.8"/><circle cx="424.4" cy="186.0" r="0.8"/><circle cx="431.1" cy="173.8" r="0.8"/><circle cx="424.9" cy="185.9" r="0.8"/><circle cx="433.6" cy="173.3" r="0.8"/><circle cx="439.7" cy="181.8" r="0.8"/><circle cx="436.9" cy="186.7" r="0.8"/><circle cx="432.9" cy="165.1" r="0.8"/><circle cx="432.1" cy="172.8" r="0.8"/><circle cx="435.1" cy="171.2" r="0.8"/><circle cx="433.7" cy="179.9" r="0.8"/><circle cx="445.0" cy="185.0" r="0.8"/><circle cx="436.5" cy="172.2" r="0.8"/><circle cx="432.8" cy="168.3" r="0.8"/><circle cx="431.6" cy="172.5" r="0.8"/><circle cx="443.4" cy="180.9" r="0.8"/><circle cx="426.9" cy="176.1" r="0.8"/><circle cx="431.1" cy="173.7" r="0.8"/><circle cx="436.1" cy="165.1" r="0.8"/><circle cx="433.5" cy="163.5" r="0.8"/><circle cx="434.0" cy="165.4" r="0.8"/><circle cx="426.0" cy="185.9" r="0.8"/><circle cx="437.7" cy="171.1" r="0.8"/><circle cx="436.8" cy="169.6" r="0.8"/><circle cx="429.5" cy="180.7" r="0.8"/><circle cx="424.4" cy="183.1" r="0.8"/><circle cx="435.2" cy="167.5" r="0.8"/><circle cx="433.2" cy="164.3" r="0.8"/><circle cx="433.7" cy="167.2" r="0.8"/><circle cx="444.7" cy="186.0" r="0.8"/><circle cx="440.9" cy="180.1" r="0.8"/><circle cx="431.4" cy="173.3" r="0.8"/><circle cx="436.4" cy="172.1" r="0.8"/><circle cx="443.4" cy="181.2" r="0.8"/><circle cx="435.1" cy="164.2" r="0.8"/><circle cx="431.4" cy="177.5" r="0.8"/><circle cx="439.3" cy="184.2" r="0.8"/><circle cx="431.2" cy="179.9" r="0.8"/><circle cx="424.3" cy="181.4" r="0.8"/><circle cx="434.9" cy="172.1" r="0.8"/><circle cx="439.6" cy="176.8" r="0.8"/><circle cx="433.8" cy="154.8" r="0.8"/><circle cx="435.0" cy="180.6" r="0.8"/><circle cx="434.9" cy="180.3" r="0.8"/><circle cx="431.7" cy="184.9" r="0.8"/><circle cx="438.0" cy="170.0" r="0.8"/><circle cx="429.7" cy="180.7" r="0.8"/><circle cx="440.6" cy="178.9" r="0.8"/><circle cx="435.4" cy="177.2" r="0.8"/><circle cx="445.4" cy="181.5" r="0.8"/><circle cx="441.3" cy="178.3" r="0.8"/><circle cx="428.3" cy="176.0" r="0.8"/><circle cx="437.1" cy="168.8" r="0.8"/><circle cx="432.9" cy="182.7" r="0.8"/><circle cx="442.2" cy="186.8" r="0.8"/><circle cx="434.0" cy="165.2" r="0.8"/><circle cx="427.6" cy="186.9" r="0.8"/><circle cx="433.8" cy="177.4" r="0.8"/><circle cx="430.9" cy="169.4" r="0.8"/><circle cx="442.5" cy="184.1" r="0.8"/><circle cx="432.4" cy="170.3" r="0.8"/><circle cx="434.0" cy="156.9" r="0.8"/><circle cx="431.2" cy="186.2" r="0.8"/><circle cx="440.3" cy="188.4" r="0.8"/><circle cx="435.3" cy="162.0" r="0.8"/><circle cx="443.6" cy="186.1" r="0.8"/><circle cx="431.1" cy="186.4" r="0.8"/><circle cx="436.9" cy="173.6" r="0.8"/><circle cx="441.1" cy="176.1" r="0.8"/><circle cx="432.6" cy="165.3" r="0.8"/><circle cx="434.5" cy="171.9" r="0.8"/><circle cx="437.4" cy="187.7" r="0.8"/><circle cx="435.8" cy="182.8" r="0.8"/><circle cx="443.4" cy="183.0" r="0.8"/><circle cx="439.4" cy="173.4" r="0.8"/><circle cx="433.7" cy="168.6" r="0.8"/><circle cx="427.9" cy="173.9" r="0.8"/><circle cx="443.5" cy="181.6" r="0.8"/><circle cx="434.8" cy="159.2" r="0.8"/><circle cx="427.9" cy="174.2" r="0.8"/><circle cx="434.9" cy="168.3" r="0.8"/><circle cx="426.5" cy="187.7" r="0.8"/><circle cx="429.1" cy="177.6" r="0.8"/><circle cx="433.5" cy="169.8" r="0.8"/><circle cx="440.0" cy="177.8" r="0.8"/><circle cx="434.6" cy="159.5" r="0.8"/><circle cx="427.9" cy="176.7" r="0.8"/><circle cx="432.9" cy="177.3" r="0.8"/><circle cx="431.9" cy="188.2" r="0.8"/><circle cx="438.4" cy="179.1" r="0.8"/><circle cx="440.0" cy="188.4" r="0.8"/><circle cx="430.3" cy="183.7" r="0.8"/><circle cx="430.9" cy="187.8" r="0.8"/><circle cx="426.9" cy="176.7" r="0.8"/><circle cx="439.7" cy="175.4" r="0.8"/><circle cx="437.2" cy="172.2" r="0.8"/><circle cx="432.5" cy="170.7" r="0.8"/><circle cx="439.3" cy="185.5" r="0.8"/><circle cx="435.0" cy="158.0" r="0.8"/><circle cx="431.0" cy="176.8" r="0.8"/><circle cx="432.7" cy="171.8" r="0.8"/><circle cx="436.2" cy="165.4" r="0.8"/><circle cx="421.7" cy="185.0" r="0.8"/><circle cx="435.6" cy="167.8" r="0.8"/><circle cx="441.4" cy="181.7" r="0.8"/><circle cx="433.5" cy="157.3" r="0.8"/><circle cx="434.7" cy="182.8" r="0.8"/><circle cx="446.0" cy="181.4" r="0.8"/><circle cx="445.1" cy="180.4" r="0.8"/><circle cx="442.8" cy="179.4" r="0.8"/><circle cx="432.3" cy="179.1" r="0.8"/><circle cx="429.6" cy="173.1" r="0.8"/><circle cx="432.9" cy="164.0" r="0.8"/><circle cx="436.6" cy="178.4" r="0.8"/><circle cx="427.6" cy="182.2" r="0.8"/><circle cx="431.6" cy="173.0" r="0.8"/><circle cx="432.5" cy="171.0" r="0.8"/><circle cx="437.8" cy="185.2" r="0.8"/><circle cx="436.4" cy="166.0" r="0.8"/><circle cx="425.1" cy="181.1" r="0.8"/><circle cx="434.3" cy="157.6" r="0.8"/><circle cx="432.0" cy="166.5" r="0.8"/><circle cx="423.6" cy="179.1" r="0.8"/><circle cx="436.6" cy="169.2" r="0.8"/><circle cx="434.3" cy="184.6" r="0.8"/><circle cx="432.3" cy="172.9" r="0.8"/><circle cx="432.1" cy="166.4" r="0.8"/><circle cx="444.4" cy="182.6" r="0.8"/><circle cx="431.4" cy="182.0" r="0.8"/><circle cx="436.1" cy="186.1" r="0.8"/><circle cx="432.2" cy="176.8" r="0.8"/><circle cx="439.7" cy="175.6" r="0.8"/><circle cx="435.1" cy="179.6" r="0.8"/><circle cx="434.0" cy="158.2" r="0.8"/><circle cx="423.7" cy="184.4" r="0.8"/><circle cx="430.3" cy="171.8" r="0.8"/><circle cx="438.7" cy="171.7" r="0.8"/><circle cx="428.3" cy="187.4" r="0.8"/><circle cx="431.2" cy="173.1" r="0.8"/><circle cx="439.2" cy="180.7" r="0.8"/><circle cx="443.9" cy="178.0" r="0.8"/><circle cx="430.4" cy="171.8" r="0.8"/><circle cx="431.6" cy="170.1" r="0.8"/><circle cx="432.0" cy="166.8" r="0.8"/><circle cx="436.0" cy="187.2" r="0.8"/><circle cx="436.5" cy="187.1" r="0.8"/><circle cx="422.8" cy="182.3" r="0.8"/><circle cx="436.3" cy="186.9" r="0.8"/><circle cx="428.4" cy="184.6" r="0.8"/><circle cx="432.3" cy="181.2" r="0.8"/><circle cx="441.2" cy="180.7" r="0.8"/><circle cx="431.5" cy="169.9" r="0.8"/><circle cx="431.4" cy="170.6" r="0.8"/><circle cx="443.7" cy="184.0" r="0.8"/><circle cx="432.5" cy="169.6" r="0.8"/><circle cx="434.5" cy="185.6" r="0.8"/><circle cx="423.4" cy="186.8" r="0.8"/><circle cx="427.6" cy="183.9" r="0.8"/><circle cx="433.9" cy="173.6" r="0.8"/><circle cx="437.6" cy="172.0" r="0.8"/><circle cx="446.2" cy="186.2" r="0.8"/><circle cx="436.0" cy="168.9" r="0.8"/><circle cx="434.5" cy="185.0" r="0.8"/><circle cx="433.2" cy="187.2" r="0.8"/><circle cx="436.2" cy="187.9" r="0.8"/><circle cx="433.4" cy="161.1" r="0.8"/><circle cx="438.8" cy="187.4" r="0.8"/><circle cx="435.1" cy="172.1" r="0.8"/><circle cx="424.9" cy="182.4" r="0.8"/><circle cx="433.9" cy="156.8" r="0.8"/><circle cx="426.2" cy="187.3" r="0.8"/><circle cx="433.7" cy="181.0" r="0.8"/><circle cx="435.1" cy="153.4" r="0.8"/><circle cx="441.8" cy="183.7" r="0.8"/><circle cx="437.1" cy="184.7" r="0.8"/><circle cx="431.7" cy="171.3" r="0.8"/><circle cx="427.9" cy="176.1" r="0.8"/><circle cx="439.2" cy="172.3" r="0.8"/><circle cx="435.1" cy="173.6" r="0.8"/><circle cx="432.6" cy="183.3" r="0.8"/><circle cx="435.6" cy="175.6" r="0.8"/><circle cx="434.5" cy="178.2" r="0.8"/><circle cx="437.5" cy="182.1" r="0.8"/><circle cx="432.2" cy="170.7" r="0.8"/><circle cx="445.2" cy="182.6" r="0.8"/><circle cx="434.6" cy="161.8" r="0.8"/><circle cx="433.3" cy="177.0" r="0.8"/><circle cx="431.9" cy="177.2" r="0.8"/><circle cx="436.3" cy="180.9" r="0.8"/><circle cx="434.6" cy="162.1" r="0.8"/><circle cx="422.1" cy="186.2" r="0.8"/><circle cx="434.8" cy="165.5" r="0.8"/><circle cx="424.1" cy="185.8" r="0.8"/><circle cx="433.9" cy="170.7" r="0.8"/><circle cx="422.9" cy="182.6" r="0.8"/><circle cx="436.5" cy="172.3" r="0.8"/><circle cx="437.9" cy="185.7" r="0.8"/><circle cx="433.4" cy="181.6" r="0.8"/><circle cx="425.7" cy="181.7" r="0.8"/><circle cx="421.6" cy="183.6" r="0.8"/><circle cx="443.4" cy="186.8" r="0.8"/><circle cx="442.8" cy="180.2" r="0.8"/><circle cx="436.0" cy="170.4" r="0.8"/><circle cx="435.7" cy="170.4" r="0.8"/><circle cx="429.9" cy="178.1" r="0.8"/><circle cx="440.0" cy="187.4" r="0.8"/><circle cx="434.3" cy="163.8" r="0.8"/><circle cx="422.6" cy="183.8" r="0.8"/><circle cx="434.0" cy="177.9" r="0.8"/><circle cx="428.9" cy="176.5" r="0.8"/><circle cx="430.7" cy="177.6" r="0.8"/><circle cx="434.6" cy="183.1" r="0.8"/><circle cx="432.0" cy="178.1" r="0.8"/><circle cx="432.7" cy="172.5" r="0.8"/><circle cx="425.7" cy="185.1" r="0.8"/><circle cx="442.1" cy="183.3" r="0.8"/><circle cx="438.2" cy="176.0" r="0.8"/><circle cx="432.1" cy="182.7" r="0.8"/><circle cx="435.9" cy="165.8" r="0.8"/><circle cx="435.1" cy="177.3" r="0.8"/><circle cx="430.6" cy="184.1" r="0.8"/><circle cx="434.3" cy="177.3" r="0.8"/><circle cx="441.9" cy="176.7" r="0.8"/><circle cx="428.6" cy="184.9" r="0.8"/><circle cx="433.0" cy="171.2" r="0.8"/><circle cx="431.0" cy="186.9" r="0.8"/><circle cx="445.8" cy="183.3" r="0.8"/><circle cx="433.1" cy="175.9" r="0.8"/><circle cx="439.4" cy="174.5" r="0.8"/><circle cx="421.8" cy="184.7" r="0.8"/><circle cx="437.9" cy="180.6" r="0.8"/><circle cx="435.0" cy="155.6" r="0.8"/><circle cx="437.1" cy="187.5" r="0.8"/><circle cx="439.9" cy="179.2" r="0.8"/><circle cx="440.6" cy="187.3" r="0.8"/><circle cx="435.5" cy="186.5" r="0.8"/><circle cx="437.5" cy="182.2" r="0.8"/><circle cx="431.5" cy="176.7" r="0.8"/><circle cx="445.9" cy="180.7" r="0.8"/><circle cx="434.0" cy="155.1" r="0.8"/><circle cx="437.6" cy="183.3" r="0.8"/><circle cx="434.9" cy="186.9" r="0.8"/><circle cx="431.5" cy="169.9" r="0.8"/><circle cx="437.0" cy="168.3" r="0.8"/><circle cx="436.7" cy="172.4" r="0.8"/><circle cx="427.6" cy="176.1" r="0.8"/><circle cx="441.1" cy="176.4" r="0.8"/><circle cx="429.8" cy="177.1" r="0.8"/><circle cx="432.6" cy="181.7" r="0.8"/><circle cx="433.4" cy="168.6" r="0.8"/><circle cx="437.7" cy="186.5" r="0.8"/><circle cx="431.0" cy="183.6" r="0.8"/><circle cx="431.6" cy="171.2" r="0.8"/><circle cx="444.7" cy="187.1" r="0.8"/><circle cx="425.0" cy="182.7" r="0.8"/><circle cx="435.2" cy="162.7" r="0.8"/><circle cx="429.7" cy="172.6" r="0.8"/><circle cx="426.6" cy="182.0" r="0.8"/><circle cx="434.7" cy="154.1" r="0.8"/><circle cx="434.1" cy="170.6" r="0.8"/><circle cx="435.7" cy="186.3" r="0.8"/><circle cx="431.7" cy="173.5" r="0.8"/><circle cx="436.9" cy="182.8" r="0.8"/><circle cx="429.2" cy="172.6" r="0.8"/><circle cx="435.7" cy="179.0" r="0.8"/><circle cx="433.7" cy="153.6" r="0.8"/><circle cx="442.3" cy="176.1" r="0.8"/><circle cx="426.2" cy="176.4" r="0.8"/><circle cx="442.9" cy="186.9" r="0.8"/><circle cx="433.6" cy="169.8" r="0.8"/><circle cx="438.7" cy="186.6" r="0.8"/><circle cx="436.8" cy="182.2" r="0.8"/><circle cx="431.8" cy="181.4" r="0.8"/><circle cx="435.2" cy="181.2" r="0.8"/><circle cx="421.7" cy="183.9" r="0.8"/><circle cx="436.8" cy="169.5" r="0.8"/><circle cx="432.3" cy="179.7" r="0.8"/><circle cx="435.3" cy="186.6" r="0.8"/><circle cx="437.9" cy="177.4" r="0.8"/><circle cx="435.4" cy="185.9" r="0.8"/><circle cx="432.7" cy="165.5" r="0.8"/><circle cx="440.7" cy="183.7" r="0.8"/><circle cx="443.0" cy="181.6" r="0.8"/><circle cx="436.8" cy="168.9" r="0.8"/><circle cx="437.5" cy="178.0" r="0.8"/><circle cx="438.2" cy="170.5" r="0.8"/><circle cx="423.8" cy="186.9" r="0.8"/><circle cx="422.7" cy="183.1" r="0.8"/><circle cx="427.5" cy="185.0" r="0.8"/><circle cx="434.6" cy="174.2" r="0.8"/><circle cx="435.1" cy="175.9" r="0.8"/><circle cx="430.0" cy="174.5" r="0.8"/><circle cx="440.6" cy="183.9" r="0.8"/><circle cx="437.0" cy="180.1" r="0.8"/><circle cx="430.9" cy="183.1" r="0.8"/><circle cx="445.3" cy="186.7" r="0.8"/><circle cx="434.9" cy="160.1" r="0.8"/><circle cx="434.2" cy="165.7" r="0.8"/><circle cx="444.8" cy="182.9" r="0.8"/><circle cx="435.0" cy="184.7" r="0.8"/><circle cx="438.1" cy="174.7" r="0.8"/><circle cx="431.8" cy="173.7" r="0.8"/><circle cx="437.2" cy="179.6" r="0.8"/><circle cx="435.5" cy="179.0" r="0.8"/><circle cx="434.6" cy="175.3" r="0.8"/><circle cx="438.9" cy="175.0" r="0.8"/><circle cx="439.8" cy="184.3" r="0.8"/><circle cx="423.3" cy="183.5" r="0.8"/><circle cx="441.8" cy="182.6" r="0.8"/><circle cx="441.6" cy="177.3" r="0.8"/><circle cx="439.9" cy="186.9" r="0.8"/><circle cx="434.3" cy="176.7" r="0.8"/><circle cx="432.2" cy="171.0" r="0.8"/><circle cx="439.3" cy="182.9" r="0.8"/><circle cx="435.6" cy="177.4" r="0.8"/><circle cx="433.3" cy="176.6" r="0.8"/><circle cx="433.6" cy="187.3" r="0.8"/><circle cx="441.7" cy="182.2" r="0.8"/><circle cx="428.5" cy="181.2" r="0.8"/><circle cx="433.1" cy="186.0" r="0.8"/><circle cx="438.7" cy="186.7" r="0.8"/><circle cx="433.8" cy="156.9" r="0.8"/><circle cx="438.0" cy="177.0" r="0.8"/><circle cx="438.8" cy="180.9" r="0.8"/><circle cx="433.6" cy="165.0" r="0.8"/><circle cx="426.4" cy="179.2" r="0.8"/><circle cx="434.2" cy="153.5" r="0.8"/><circle cx="435.3" cy="181.1" r="0.8"/><circle cx="432.6" cy="188.1" r="0.8"/><circle cx="443.2" cy="187.5" r="0.8"/><circle cx="426.1" cy="184.2" r="0.8"/><circle cx="438.4" cy="180.8" r="0.8"/><circle cx="428.5" cy="184.5" r="0.8"/><circle cx="435.0" cy="159.5" r="0.8"/><circle cx="430.8" cy="185.6" r="0.8"/><circle cx="446.4" cy="185.0" r="0.8"/><circle cx="427.8" cy="188.1" r="0.8"/><circle cx="434.0" cy="158.5" r="0.8"/><circle cx="442.2" cy="184.1" r="0.8"/><circle cx="429.3" cy="182.9" r="0.8"/><circle cx="423.2" cy="182.0" r="0.8"/><circle cx="444.3" cy="186.8" r="0.8"/><circle cx="425.2" cy="179.7" r="0.8"/><circle cx="436.9" cy="175.9" r="0.8"/><circle cx="433.9" cy="176.8" r="0.8"/><circle cx="439.9" cy="175.0" r="0.8"/><circle cx="436.4" cy="180.6" r="0.8"/><circle cx="434.5" cy="171.9" r="0.8"/><circle cx="434.3" cy="160.6" r="0.8"/><circle cx="426.8" cy="183.8" r="0.8"/><circle cx="434.4" cy="173.5" r="0.8"/><circle cx="430.0" cy="177.1" r="0.8"/><circle cx="438.5" cy="170.4" r="0.8"/><circle cx="438.5" cy="179.0" r="0.8"/><circle cx="437.5" cy="185.7" r="0.8"/><circle cx="443.4" cy="186.9" r="0.8"/><circle cx="425.7" cy="181.5" r="0.8"/><circle cx="430.7" cy="181.5" r="0.8"/><circle cx="441.1" cy="184.7" r="0.8"/><circle cx="434.2" cy="165.0" r="0.8"/><circle cx="435.3" cy="167.6" r="0.8"/><circle cx="435.5" cy="164.6" r="0.8"/><circle cx="429.7" cy="179.7" r="0.8"/><circle cx="427.0" cy="176.1" r="0.8"/><circle cx="436.0" cy="187.7" r="0.8"/><circle cx="439.8" cy="179.5" r="0.8"/><circle cx="445.5" cy="181.0" r="0.8"/><circle cx="432.8" cy="164.9" r="0.8"/><circle cx="439.7" cy="178.6" r="0.8"/><circle cx="438.7" cy="177.9" r="0.8"/><circle cx="428.2" cy="178.4" r="0.8"/><circle cx="440.7" cy="177.6" r="0.8"/><circle cx="434.8" cy="184.8" r="0.8"/><circle cx="438.6" cy="176.0" r="0.8"/><circle cx="434.7" cy="170.3" r="0.8"/><circle cx="433.4" cy="167.0" r="0.8"/><circle cx="433.3" cy="179.4" r="0.8"/><circle cx="434.7" cy="182.9" r="0.8"/><circle cx="431.8" cy="179.4" r="0.8"/><circle cx="434.6" cy="165.2" r="0.8"/><circle cx="434.7" cy="159.7" r="0.8"/><circle cx="429.2" cy="178.7" r="0.8"/><circle cx="433.5" cy="171.9" r="0.8"/><circle cx="443.7" cy="181.2" r="0.8"/><circle cx="427.2" cy="186.2" r="0.8"/><circle cx="445.4" cy="186.2" r="0.8"/><circle cx="429.4" cy="181.6" r="0.8"/><circle cx="434.6" cy="154.1" r="0.8"/><circle cx="434.2" cy="167.3" r="0.8"/><circle cx="425.0" cy="187.0" r="0.8"/><circle cx="439.1" cy="172.1" r="0.8"/><circle cx="429.5" cy="178.0" r="0.8"/><circle cx="434.4" cy="187.9" r="0.8"/><circle cx="439.6" cy="179.7" r="0.8"/><circle cx="442.4" cy="179.1" r="0.8"/><circle cx="442.6" cy="186.6" r="0.8"/><circle cx="443.0" cy="186.3" r="0.8"/><circle cx="434.3" cy="158.3" r="0.8"/><circle cx="441.2" cy="187.3" r="0.8"/><circle cx="432.9" cy="187.0" r="0.8"/><circle cx="433.9" cy="157.4" r="0.8"/><circle cx="433.0" cy="184.7" r="0.8"/><circle cx="441.0" cy="188.2" r="0.8"/><circle cx="435.8" cy="186.8" r="0.8"/><circle cx="439.2" cy="185.6" r="0.8"/><circle cx="433.9" cy="172.4" r="0.8"/><circle cx="427.6" cy="187.7" r="0.8"/><circle cx="435.0" cy="168.4" r="0.8"/><circle cx="433.3" cy="173.6" r="0.8"/><circle cx="439.0" cy="171.5" r="0.8"/><circle cx="434.1" cy="181.7" r="0.8"/><circle cx="434.2" cy="186.0" r="0.8"/><circle cx="437.8" cy="171.4" r="0.8"/><circle cx="444.5" cy="181.0" r="0.8"/><circle cx="442.2" cy="184.4" r="0.8"/><circle cx="433.7" cy="160.7" r="0.8"/><circle cx="426.4" cy="179.0" r="0.8"/><circle cx="435.4" cy="163.1" r="0.8"/><circle cx="444.7" cy="179.7" r="0.8"/><circle cx="429.6" cy="187.6" r="0.8"/><circle cx="437.9" cy="174.1" r="0.8"/><circle cx="435.9" cy="171.7" r="0.8"/><circle cx="434.0" cy="186.6" r="0.8"/><circle cx="431.0" cy="187.5" r="0.8"/><circle cx="445.4" cy="186.0" r="0.8"/><circle cx="428.8" cy="174.1" r="0.8"/><circle cx="426.1" cy="179.3" r="0.8"/><circle cx="431.6" cy="172.8" r="0.8"/><circle cx="440.8" cy="184.0" r="0.8"/><circle cx="433.1" cy="181.9" r="0.8"/><circle cx="429.6" cy="180.6" r="0.8"/><circle cx="424.5" cy="178.2" r="0.8"/><circle cx="439.6" cy="178.5" r="0.8"/><circle cx="444.7" cy="182.9" r="0.8"/><circle cx="433.5" cy="168.4" r="0.8"/><circle cx="434.6" cy="163.4" r="0.8"/><circle cx="432.2" cy="178.4" r="0.8"/><circle cx="424.8" cy="183.4" r="0.8"/><circle cx="434.5" cy="171.5" r="0.8"/><circle cx="435.0" cy="153.1" r="0.8"/><circle cx="438.3" cy="184.4" r="0.8"/><circle cx="445.4" cy="182.8" r="0.8"/><circle cx="434.8" cy="179.7" r="0.8"/><circle cx="435.2" cy="180.7" r="0.8"/><circle cx="438.2" cy="179.1" r="0.8"/><circle cx="435.0" cy="185.0" r="0.8"/><circle cx="433.7" cy="167.6" r="0.8"/><circle cx="440.0" cy="173.2" r="0.8"/><circle cx="428.3" cy="173.8" r="0.8"/><circle cx="434.1" cy="176.0" r="0.8"/><circle cx="438.9" cy="177.4" r="0.8"/><circle cx="436.6" cy="175.0" r="0.8"/><circle cx="442.9" cy="186.2" r="0.8"/><circle cx="432.0" cy="170.6" r="0.8"/><circle cx="426.0" cy="177.5" r="0.8"/><circle cx="439.8" cy="173.5" r="0.8"/><circle cx="429.4" cy="187.8" r="0.8"/><circle cx="422.1" cy="184.3" r="0.8"/><circle cx="425.0" cy="184.3" r="0.8"/><circle cx="426.1" cy="177.7" r="0.8"/><circle cx="437.7" cy="174.9" r="0.8"/><circle cx="422.4" cy="181.1" r="0.8"/><circle cx="431.8" cy="175.0" r="0.8"/><circle cx="431.0" cy="181.7" r="0.8"/><circle cx="440.6" cy="187.8" r="0.8"/><circle cx="440.4" cy="181.4" r="0.8"/><circle cx="435.1" cy="185.5" r="0.8"/><circle cx="434.4" cy="166.7" r="0.8"/><circle cx="436.3" cy="165.6" r="0.8"/><circle cx="438.4" cy="180.7" r="0.8"/><circle cx="437.0" cy="170.3" r="0.8"/><circle cx="435.7" cy="179.9" r="0.8"/><circle cx="433.7" cy="181.5" r="0.8"/><circle cx="440.2" cy="179.0" r="0.8"/><circle cx="431.4" cy="186.3" r="0.8"/><circle cx="434.9" cy="174.4" r="0.8"/><circle cx="444.0" cy="185.9" r="0.8"/><circle cx="439.5" cy="178.6" r="0.8"/><circle cx="436.4" cy="167.9" r="0.8"/><circle cx="427.0" cy="184.1" r="0.8"/><circle cx="441.1" cy="185.2" r="0.8"/><circle cx="427.5" cy="188.3" r="0.8"/><circle cx="438.0" cy="184.7" r="0.8"/><circle cx="431.5" cy="182.4" r="0.8"/><circle cx="438.0" cy="187.9" r="0.8"/><circle cx="432.3" cy="182.4" r="0.8"/><circle cx="437.7" cy="181.0" r="0.8"/><circle cx="434.3" cy="183.9" r="0.8"/><circle cx="433.0" cy="183.2" r="0.8"/><circle cx="426.6" cy="175.7" r="0.8"/><circle cx="439.5" cy="179.2" r="0.8"/><circle cx="423.9" cy="179.5" r="0.8"/><circle cx="436.3" cy="182.8" r="0.8"/><circle cx="441.7" cy="177.3" r="0.8"/><circle cx="440.1" cy="174.8" r="0.8"/><circle cx="421.8" cy="184.7" r="0.8"/><circle cx="435.4" cy="175.1" r="0.8"/><circle cx="442.8" cy="182.4" r="0.8"/><circle cx="433.9" cy="154.3" r="0.8"/><circle cx="434.5" cy="158.3" r="0.8"/><circle cx="425.0" cy="178.6" r="0.8"/><circle cx="441.6" cy="176.7" r="0.8"/><circle cx="432.6" cy="177.4" r="0.8"/><circle cx="434.0" cy="155.0" r="0.8"/><circle cx="440.9" cy="184.1" r="0.8"/><circle cx="434.5" cy="175.6" r="0.8"/><circle cx="432.6" cy="176.2" r="0.8"/><circle cx="431.9" cy="182.6" r="0.8"/><circle cx="433.5" cy="167.2" r="0.8"/><circle cx="433.8" cy="181.0" r="0.8"/><circle cx="434.0" cy="180.4" r="0.8"/><circle cx="429.5" cy="177.0" r="0.8"/><circle cx="441.8" cy="184.6" r="0.8"/><circle cx="431.7" cy="186.7" r="0.8"/><circle cx="429.4" cy="178.5" r="0.8"/><circle cx="431.5" cy="178.5" r="0.8"/><circle cx="425.0" cy="180.4" r="0.8"/><circle cx="439.6" cy="177.3" r="0.8"/><circle cx="435.2" cy="183.9" r="0.8"/><circle cx="438.3" cy="173.8" r="0.8"/><circle cx="436.7" cy="168.9" r="0.8"/><circle cx="443.2" cy="179.2" r="0.8"/><circle cx="433.5" cy="160.8" r="0.8"/><circle cx="433.3" cy="162.0" r="0.8"/><circle cx="423.2" cy="184.0" r="0.8"/><circle cx="437.7" cy="187.2" r="0.8"/><circle cx="443.1" cy="179.8" r="0.8"/><circle cx="443.1" cy="185.1" r="0.8"/><circle cx="428.1" cy="183.0" r="0.8"/><circle cx="433.0" cy="187.5" r="0.8"/><circle cx="435.2" cy="162.6" r="0.8"/><circle cx="438.7" cy="174.1" r="0.8"/><circle cx="439.0" cy="185.9" r="0.8"/><circle cx="424.4" cy="178.8" r="0.8"/><circle cx="433.4" cy="159.9" r="0.8"/><circle cx="437.9" cy="172.3" r="0.8"/><circle cx="427.6" cy="179.0" r="0.8"/><circle cx="429.8" cy="183.5" r="0.8"/><circle cx="439.9" cy="177.3" r="0.8"/><circle cx="442.1" cy="181.7" r="0.8"/><circle cx="428.7" cy="176.6" r="0.8"/><circle cx="441.1" cy="175.7" r="0.8"/><circle cx="443.5" cy="178.6" r="0.8"/><circle cx="435.5" cy="184.3" r="0.8"/><circle cx="436.6" cy="176.0" r="0.8"/><circle cx="440.4" cy="182.1" r="0.8"/><circle cx="439.8" cy="174.5" r="0.8"/><circle cx="438.5" cy="176.3" r="0.8"/><circle cx="441.8" cy="177.3" r="0.8"/><circle cx="424.1" cy="186.2" r="0.8"/><circle cx="434.1" cy="166.0" r="0.8"/><circle cx="436.3" cy="175.8" r="0.8"/><circle cx="427.9" cy="182.6" r="0.8"/><circle cx="434.8" cy="153.1" r="0.8"/><circle cx="434.0" cy="169.1" r="0.8"/><circle cx="434.9" cy="154.9" r="0.8"/><circle cx="430.1" cy="179.9" r="0.8"/><circle cx="441.3" cy="176.8" r="0.8"/><circle cx="435.2" cy="154.9" r="0.8"/><circle cx="432.1" cy="174.1" r="0.8"/><circle cx="426.8" cy="180.7" r="0.8"/><circle cx="436.8" cy="182.8" r="0.8"/><circle cx="427.3" cy="178.3" r="0.8"/><circle cx="435.8" cy="180.1" r="0.8"/><circle cx="444.0" cy="181.6" r="0.8"/><circle cx="431.0" cy="184.3" r="0.8"/><circle cx="443.9" cy="181.5" r="0.8"/><circle cx="434.5" cy="163.3" r="0.8"/><circle cx="438.6" cy="175.0" r="0.8"/><circle cx="436.7" cy="183.1" r="0.8"/><circle cx="446.3" cy="183.9" r="0.8"/><circle cx="445.3" cy="187.2" r="0.8"/><circle cx="430.4" cy="180.0" r="0.8"/><circle cx="432.7" cy="176.7" r="0.8"/><circle cx="438.6" cy="178.3" r="0.8"/><circle cx="421.8" cy="184.0" r="0.8"/><circle cx="442.0" cy="186.3" r="0.8"/><circle cx="431.7" cy="167.3" r="0.8"/><circle cx="433.9" cy="154.9" r="0.8"/><circle cx="428.0" cy="184.2" r="0.8"/><circle cx="431.5" cy="178.1" r="0.8"/><circle cx="433.7" cy="170.8" r="0.8"/><circle cx="424.5" cy="179.5" r="0.8"/><circle cx="430.7" cy="172.8" r="0.8"/><circle cx="444.9" cy="184.0" r="0.8"/><circle cx="435.6" cy="172.3" r="0.8"/><circle cx="422.9" cy="184.3" r="0.8"/><circle cx="441.9" cy="177.4" r="0.8"/><circle cx="436.0" cy="167.6" r="0.8"/><circle cx="442.7" cy="179.5" r="0.8"/><circle cx="446.0" cy="181.6" r="0.8"/><circle cx="438.0" cy="171.9" r="0.8"/><circle cx="431.8" cy="169.5" r="0.8"/><circle cx="427.1" cy="176.6" r="0.8"/><circle cx="428.6" cy="187.4" r="0.8"/><circle cx="432.2" cy="175.1" r="0.8"/><circle cx="424.2" cy="180.5" r="0.8"/><circle cx="436.6" cy="175.6" r="0.8"/><circle cx="432.8" cy="177.3" r="0.8"/><circle cx="435.1" cy="183.3" r="0.8"/><circle cx="446.7" cy="185.7" r="0.8"/><circle cx="434.9" cy="173.1" r="0.8"/><circle cx="442.3" cy="186.0" r="0.8"/><circle cx="439.1" cy="171.7" r="0.8"/><circle cx="442.2" cy="180.3" r="0.8"/><circle cx="442.9" cy="177.6" r="0.8"/><circle cx="432.7" cy="185.1" r="0.8"/><circle cx="437.7" cy="170.7" r="0.8"/><circle cx="433.5" cy="182.4" r="0.8"/><circle cx="431.9" cy="181.4" r="0.8"/><circle cx="424.5" cy="184.8" r="0.8"/><circle cx="433.5" cy="154.1" r="0.8"/><circle cx="429.8" cy="184.7" r="0.8"/><circle cx="435.0" cy="160.5" r="0.8"/><circle cx="422.7" cy="181.8" r="0.8"/><circle cx="433.2" cy="175.4" r="0.8"/><circle cx="430.7" cy="182.1" r="0.8"/><circle cx="422.1" cy="182.5" r="0.8"/><circle cx="431.2" cy="177.2" r="0.8"/><circle cx="427.3" cy="179.5" r="0.8"/><circle cx="438.4" cy="178.5" r="0.8"/><circle cx="442.8" cy="177.7" r="0.8"/><circle cx="442.2" cy="178.3" r="0.8"/><circle cx="433.5" cy="173.9" r="0.8"/><circle cx="426.5" cy="179.1" r="0.8"/><circle cx="442.3" cy="182.0" r="0.8"/><circle cx="430.4" cy="171.0" r="0.8"/><circle cx="436.9" cy="177.9" r="0.8"/><circle cx="425.3" cy="185.5" r="0.8"/><circle cx="443.9" cy="186.7" r="0.8"/><circle cx="428.5" cy="187.9" r="0.8"/><circle cx="439.9" cy="182.4" r="0.8"/><circle cx="436.8" cy="169.6" r="0.8"/><circle cx="426.0" cy="186.3" r="0.8"/><circle cx="444.3" cy="179.2" r="0.8"/><circle cx="427.3" cy="179.6" r="0.8"/><circle cx="433.2" cy="175.9" r="0.8"/><circle cx="433.0" cy="184.1" r="0.8"/><circle cx="435.0" cy="187.7" r="0.8"/><circle cx="436.4" cy="176.0" r="0.8"/><circle cx="433.6" cy="166.8" r="0.8"/><circle cx="435.2" cy="164.5" r="0.8"/><circle cx="427.0" cy="177.9" r="0.8"/><circle cx="441.7" cy="178.4" r="0.8"/><circle cx="430.3" cy="183.4" r="0.8"/><circle cx="435.3" cy="187.9" r="0.8"/><circle cx="441.1" cy="185.9" r="0.8"/><circle cx="442.2" cy="180.4" r="0.8"/><circle cx="432.5" cy="171.5" r="0.8"/><circle cx="433.7" cy="159.3" r="0.8"/><circle cx="438.3" cy="175.5" r="0.8"/><circle cx="436.2" cy="178.7" r="0.8"/><circle cx="436.9" cy="175.9" r="0.8"/><circle cx="438.3" cy="176.7" r="0.8"/><circle cx="437.0" cy="174.8" r="0.8"/><circle cx="427.9" cy="179.9" r="0.8"/><circle cx="432.8" cy="187.2" r="0.8"/><circle cx="430.4" cy="185.8" r="0.8"/><circle cx="432.1" cy="170.3" r="0.8"/><circle cx="436.7" cy="178.9" r="0.8"/><circle cx="435.1" cy="160.5" r="0.8"/><circle cx="435.3" cy="186.1" r="0.8"/><circle cx="442.6" cy="184.0" r="0.8"/><circle cx="423.1" cy="185.4" r="0.8"/><circle cx="436.5" cy="172.3" r="0.8"/><circle cx="435.9" cy="167.8" r="0.8"/><circle cx="433.2" cy="179.9" r="0.8"/><circle cx="435.5" cy="177.6" r="0.8"/><circle cx="436.7" cy="168.3" r="0.8"/><circle cx="444.2" cy="180.5" r="0.8"/><circle cx="444.7" cy="183.8" r="0.8"/><circle cx="425.4" cy="182.5" r="0.8"/><circle cx="431.7" cy="172.5" r="0.8"/><circle cx="438.6" cy="175.4" r="0.8"/><circle cx="424.7" cy="183.9" r="0.8"/><circle cx="429.6" cy="173.2" r="0.8"/><circle cx="429.8" cy="178.1" r="0.8"/><circle cx="436.4" cy="185.5" r="0.8"/><circle cx="435.6" cy="173.5" r="0.8"/><circle cx="430.4" cy="172.2" r="0.8"/><circle cx="434.6" cy="167.7" r="0.8"/><circle cx="441.3" cy="184.3" r="0.8"/><circle cx="442.4" cy="185.9" r="0.8"/><circle cx="430.7" cy="172.5" r="0.8"/><circle cx="434.7" cy="181.1" r="0.8"/><circle cx="422.6" cy="186.5" r="0.8"/><circle cx="423.3" cy="180.4" r="0.8"/><circle cx="441.5" cy="178.6" r="0.8"/><circle cx="434.5" cy="173.0" r="0.8"/><circle cx="444.9" cy="180.3" r="0.8"/><circle cx="434.4" cy="160.1" r="0.8"/><circle cx="439.1" cy="173.1" r="0.8"/><circle cx="427.2" cy="177.5" r="0.8"/><circle cx="435.0" cy="174.1" r="0.8"/><circle cx="426.9" cy="176.2" r="0.8"/><circle cx="424.2" cy="182.0" r="0.8"/><circle cx="445.6" cy="182.5" r="0.8"/><circle cx="442.9" cy="187.4" r="0.8"/><circle cx="441.2" cy="185.0" r="0.8"/><circle cx="431.6" cy="185.5" r="0.8"/><circle cx="444.0" cy="180.3" r="0.8"/><circle cx="444.6" cy="184.0" r="0.8"/><circle cx="429.5" cy="181.4" r="0.8"/><circle cx="445.7" cy="182.3" r="0.8"/><circle cx="438.8" cy="185.2" r="0.8"/><circle cx="433.5" cy="163.1" r="0.8"/><circle cx="430.9" cy="173.2" r="0.8"/><circle cx="421.4" cy="184.0" r="0.8"/><circle cx="430.2" cy="174.9" r="0.8"/><circle cx="442.1" cy="182.7" r="0.8"/><circle cx="431.0" cy="186.0" r="0.8"/><circle cx="437.3" cy="172.2" r="0.8"/><circle cx="426.7" cy="188.1" r="0.8"/><circle cx="435.9" cy="186.7" r="0.8"/><circle cx="438.0" cy="178.9" r="0.8"/><circle cx="434.6" cy="181.8" r="0.8"/><circle cx="433.2" cy="165.4" r="0.8"/><circle cx="437.4" cy="173.3" r="0.8"/><circle cx="435.2" cy="177.1" r="0.8"/><circle cx="432.1" cy="186.0" r="0.8"/><circle cx="433.4" cy="164.3" r="0.8"/><circle cx="431.7" cy="184.5" r="0.8"/><circle cx="433.8" cy="155.6" r="0.8"/><circle cx="434.3" cy="174.8" r="0.8"/><circle cx="429.1" cy="182.0" r="0.8"/><circle cx="432.9" cy="179.0" r="0.8"/><circle cx="434.2" cy="176.6" r="0.8"/><circle cx="442.7" cy="176.5" r="0.8"/></g>
<text x="464.2" y="129.9" font-size="10.5" text-anchor="start" font-weight="bold" font-style="normal" fill="#000"  stroke="#000" stroke-width="0.13">d</text>
<line x1="508.8" y1="130.1" x2="508.8" y2="208.8" stroke="#4a4a4a" stroke-width="0.95"/>
<line x1="505.8" y1="130.1" x2="508.8" y2="130.1" stroke="#4a4a4a" stroke-width="0.95"/>
<text x="504.3" y="132.3" font-size="7" text-anchor="end" font-weight="normal" font-style="normal" fill="#1a1a1a"  stroke="#1a1a1a" stroke-width="0.13">16</text>
<line x1="505.8" y1="149.9" x2="508.8" y2="149.9" stroke="#4a4a4a" stroke-width="0.95"/>
<text x="504.3" y="152.1" font-size="7" text-anchor="end" font-weight="normal" font-style="normal" fill="#1a1a1a"  stroke="#1a1a1a" stroke-width="0.13">12</text>
<line x1="505.8" y1="169.4" x2="508.8" y2="169.4" stroke="#4a4a4a" stroke-width="0.95"/>
<text x="504.3" y="171.6" font-size="7" text-anchor="end" font-weight="normal" font-style="normal" fill="#1a1a1a"  stroke="#1a1a1a" stroke-width="0.13">8</text>
<line x1="505.8" y1="188.7" x2="508.8" y2="188.7" stroke="#4a4a4a" stroke-width="0.95"/>
<text x="504.3" y="190.9" font-size="7" text-anchor="end" font-weight="normal" font-style="normal" fill="#1a1a1a"  stroke="#1a1a1a" stroke-width="0.13">4</text>
<line x1="505.8" y1="208.4" x2="508.8" y2="208.4" stroke="#4a4a4a" stroke-width="0.95"/>
<text x="504.3" y="210.6" font-size="7" text-anchor="end" font-weight="normal" font-style="normal" fill="#1a1a1a"  stroke="#1a1a1a" stroke-width="0.13">0</text>
<line x1="508.8" y1="208.4" x2="598.6" y2="208.4" stroke="#333" stroke-width="0.9"/>
<line x1="526.0" y1="208.4" x2="526.0" y2="211.8" stroke="#333" stroke-width="0.9"/>
<line x1="554.0" y1="208.4" x2="554.0" y2="211.8" stroke="#333" stroke-width="0.9"/>
<line x1="580.6" y1="208.4" x2="580.6" y2="211.8" stroke="#333" stroke-width="0.9"/>
<text x="0" y="0" font-size="7.3" text-anchor="middle" fill="#1a1a1a" font-style="normal" transform="translate(489.2,170.3) rotate(-90)" stroke="#1a1a1a" stroke-width="0.13">mRNA expression (Log2)</text>
<text x="0" y="0" font-size="8.9" text-anchor="middle" fill="#1a1a1a" transform="translate(549.40,131.30) scale(0.965,1)" stroke="#1a1a1a" stroke-width="0.13">TCGA</text>
<text x="556.9" y="137.9" font-size="5.1" text-anchor="middle" fill="#1a1a1a" fill-opacity="0.8"><tspan font-style="italic">P</tspan> = 0.0001</text>
<path d="M521.9,144.5 L557.0,144.5" fill="none" stroke="#333" stroke-width="0.8" stroke-linejoin="round" />
<path d="M534.3,144.5 L534.3,138.9 L581.3,138.9 L581.3,142.5" fill="none" stroke="#333" stroke-width="0.8" stroke-linejoin="round" />
<rect x="518.1" y="163.0" width="17.3" height="8.6" fill="none" stroke="#555" stroke-width="0.7"/>
<line x1="522.4" y1="148.4" x2="530.4" y2="148.4" stroke="#444" stroke-width="0.8"/>
<line x1="522.4" y1="181.3" x2="530.4" y2="181.3" stroke="#444" stroke-width="0.8"/>
<g fill="#2e8b3e"><circle cx="520.8" cy="166.6" r="0.95"/><circle cx="525.5" cy="162.1" r="0.95"/><circle cx="529.2" cy="167.3" r="0.95"/><circle cx="523.2" cy="171.8" r="0.95"/><circle cx="527.7" cy="170.6" r="0.95"/><circle cx="518.6" cy="168.3" r="0.95"/><circle cx="530.0" cy="165.1" r="0.95"/><circle cx="520.9" cy="163.1" r="0.95"/><circle cx="524.7" cy="169.7" r="0.95"/><circle cx="525.1" cy="171.7" r="0.95"/><circle cx="520.5" cy="161.4" r="0.95"/><circle cx="526.7" cy="157.1" r="0.95"/><circle cx="523.6" cy="170.3" r="0.95"/><circle cx="521.5" cy="167.5" r="0.95"/><circle cx="526.0" cy="170.3" r="0.95"/><circle cx="527.2" cy="177.1" r="0.95"/><circle cx="524.3" cy="161.0" r="0.95"/><circle cx="525.2" cy="174.6" r="0.95"/><circle cx="523.1" cy="171.1" r="0.95"/><circle cx="527.3" cy="154.8" r="0.95"/><circle cx="529.7" cy="165.0" r="0.95"/><circle cx="520.9" cy="162.9" r="0.95"/><circle cx="521.9" cy="167.8" r="0.95"/><circle cx="525.8" cy="172.8" r="0.95"/><circle cx="523.7" cy="167.2" r="0.95"/><circle cx="529.1" cy="173.8" r="0.95"/><circle cx="530.0" cy="163.3" r="0.95"/><circle cx="524.3" cy="159.5" r="0.95"/><circle cx="528.4" cy="168.3" r="0.95"/><circle cx="527.5" cy="163.7" r="0.95"/><circle cx="528.2" cy="157.8" r="0.95"/><circle cx="524.9" cy="171.0" r="0.95"/><circle cx="532.2" cy="171.6" r="0.95"/><circle cx="524.0" cy="173.0" r="0.95"/><circle cx="520.1" cy="162.5" r="0.95"/><circle cx="522.6" cy="164.7" r="0.95"/><circle cx="522.6" cy="170.1" r="0.95"/><circle cx="533.1" cy="170.6" r="0.95"/><circle cx="533.5" cy="165.4" r="0.95"/><circle cx="528.9" cy="168.9" r="0.95"/><circle cx="526.2" cy="174.8" r="0.95"/><circle cx="524.4" cy="168.0" r="0.95"/><circle cx="521.0" cy="171.1" r="0.95"/><circle cx="532.3" cy="161.1" r="0.95"/><circle cx="532.1" cy="161.1" r="0.95"/><circle cx="525.2" cy="172.1" r="0.95"/><circle cx="526.3" cy="155.8" r="0.95"/><circle cx="526.0" cy="169.5" r="0.95"/><circle cx="525.3" cy="174.2" r="0.95"/><circle cx="520.3" cy="168.9" r="0.95"/><circle cx="528.3" cy="160.4" r="0.95"/><circle cx="528.3" cy="159.2" r="0.95"/><circle cx="527.5" cy="164.3" r="0.95"/><circle cx="526.6" cy="158.1" r="0.95"/><circle cx="526.4" cy="171.5" r="0.95"/><circle cx="533.5" cy="170.4" r="0.95"/><circle cx="526.6" cy="155.4" r="0.95"/><circle cx="525.0" cy="171.3" r="0.95"/><circle cx="529.2" cy="159.7" r="0.95"/><circle cx="526.8" cy="176.8" r="0.95"/><circle cx="530.0" cy="163.5" r="0.95"/><circle cx="533.5" cy="165.9" r="0.95"/><circle cx="524.3" cy="178.1" r="0.95"/><circle cx="527.9" cy="175.1" r="0.95"/><circle cx="527.1" cy="150.2" r="0.95"/><circle cx="534.6" cy="165.4" r="0.95"/><circle cx="528.3" cy="174.2" r="0.95"/><circle cx="524.1" cy="161.1" r="0.95"/><circle cx="528.3" cy="157.4" r="0.95"/><circle cx="530.1" cy="160.9" r="0.95"/><circle cx="532.9" cy="170.7" r="0.95"/><circle cx="524.4" cy="169.5" r="0.95"/><circle cx="532.4" cy="171.4" r="0.95"/><circle cx="527.9" cy="178.3" r="0.95"/><circle cx="528.4" cy="162.9" r="0.95"/><circle cx="524.1" cy="174.3" r="0.95"/><circle cx="521.6" cy="173.8" r="0.95"/><circle cx="526.1" cy="157.5" r="0.95"/><circle cx="520.7" cy="161.1" r="0.95"/><circle cx="518.9" cy="169.3" r="0.95"/><circle cx="523.3" cy="176.5" r="0.95"/><circle cx="526.0" cy="151.2" r="0.95"/><circle cx="522.7" cy="167.4" r="0.95"/><circle cx="527.8" cy="165.4" r="0.95"/><circle cx="522.7" cy="166.5" r="0.95"/><circle cx="518.7" cy="165.1" r="0.95"/><circle cx="527.5" cy="173.0" r="0.95"/><circle cx="525.5" cy="164.7" r="0.95"/><circle cx="527.1" cy="148.6" r="0.95"/><circle cx="532.7" cy="170.4" r="0.95"/><circle cx="527.9" cy="162.7" r="0.95"/><circle cx="522.1" cy="172.6" r="0.95"/><circle cx="520.4" cy="161.9" r="0.95"/><circle cx="527.1" cy="173.6" r="0.95"/><circle cx="528.5" cy="157.2" r="0.95"/><circle cx="528.2" cy="168.8" r="0.95"/><circle cx="518.8" cy="167.0" r="0.95"/><circle cx="527.5" cy="160.9" r="0.95"/><circle cx="529.7" cy="162.5" r="0.95"/><circle cx="524.1" cy="176.8" r="0.95"/><circle cx="529.7" cy="167.5" r="0.95"/><circle cx="531.1" cy="162.0" r="0.95"/><circle cx="525.5" cy="172.0" r="0.95"/><circle cx="523.0" cy="170.9" r="0.95"/><circle cx="519.4" cy="165.7" r="0.95"/><circle cx="531.9" cy="171.1" r="0.95"/><circle cx="520.9" cy="165.3" r="0.95"/><circle cx="527.4" cy="164.5" r="0.95"/><circle cx="527.7" cy="178.1" r="0.95"/><circle cx="523.5" cy="168.1" r="0.95"/><circle cx="522.6" cy="163.6" r="0.95"/><circle cx="518.8" cy="169.7" r="0.95"/><circle cx="523.7" cy="173.5" r="0.95"/><circle cx="530.5" cy="161.1" r="0.95"/><circle cx="525.3" cy="170.6" r="0.95"/><circle cx="526.1" cy="181.2" r="0.95"/><circle cx="525.9" cy="153.3" r="0.95"/><circle cx="532.7" cy="168.8" r="0.95"/><circle cx="520.8" cy="162.6" r="0.95"/><circle cx="526.4" cy="165.7" r="0.95"/><circle cx="526.4" cy="165.0" r="0.95"/><circle cx="525.5" cy="151.1" r="0.95"/><circle cx="522.5" cy="165.9" r="0.95"/><circle cx="527.1" cy="174.9" r="0.95"/><circle cx="529.2" cy="171.0" r="0.95"/><circle cx="523.7" cy="170.0" r="0.95"/><circle cx="528.7" cy="168.8" r="0.95"/><circle cx="531.0" cy="171.8" r="0.95"/><circle cx="523.2" cy="173.9" r="0.95"/><circle cx="526.3" cy="170.0" r="0.95"/><circle cx="528.2" cy="169.9" r="0.95"/><circle cx="533.1" cy="168.6" r="0.95"/><circle cx="521.3" cy="172.9" r="0.95"/><circle cx="524.3" cy="176.3" r="0.95"/><circle cx="530.2" cy="162.9" r="0.95"/><circle cx="525.3" cy="161.9" r="0.95"/><circle cx="523.1" cy="160.9" r="0.95"/><circle cx="526.5" cy="172.3" r="0.95"/><circle cx="532.3" cy="172.0" r="0.95"/><circle cx="530.1" cy="173.2" r="0.95"/><circle cx="521.9" cy="167.4" r="0.95"/><circle cx="527.2" cy="178.7" r="0.95"/><circle cx="521.4" cy="169.3" r="0.95"/><circle cx="534.2" cy="165.5" r="0.95"/><circle cx="526.6" cy="180.4" r="0.95"/><circle cx="530.4" cy="169.2" r="0.95"/><circle cx="531.0" cy="160.9" r="0.95"/><circle cx="520.0" cy="170.2" r="0.95"/><circle cx="522.3" cy="169.8" r="0.95"/><circle cx="531.8" cy="173.0" r="0.95"/><circle cx="527.6" cy="172.6" r="0.95"/><circle cx="525.9" cy="154.6" r="0.95"/><circle cx="521.9" cy="174.0" r="0.95"/><circle cx="531.1" cy="173.5" r="0.95"/><circle cx="534.1" cy="169.5" r="0.95"/><circle cx="531.6" cy="171.4" r="0.95"/><circle cx="518.2" cy="168.0" r="0.95"/><circle cx="532.7" cy="163.3" r="0.95"/><circle cx="526.0" cy="180.4" r="0.95"/><circle cx="530.3" cy="174.5" r="0.95"/><circle cx="530.8" cy="170.6" r="0.95"/><circle cx="531.5" cy="168.2" r="0.95"/><circle cx="528.7" cy="170.9" r="0.95"/><circle cx="521.4" cy="161.6" r="0.95"/><circle cx="529.2" cy="169.9" r="0.95"/><circle cx="520.5" cy="168.0" r="0.95"/><circle cx="525.3" cy="156.2" r="0.95"/><circle cx="527.2" cy="161.3" r="0.95"/><circle cx="529.4" cy="175.7" r="0.95"/><circle cx="527.1" cy="175.8" r="0.95"/><circle cx="525.8" cy="154.9" r="0.95"/><circle cx="525.3" cy="155.1" r="0.95"/><circle cx="523.3" cy="176.8" r="0.95"/><circle cx="525.4" cy="176.6" r="0.95"/><circle cx="524.1" cy="171.5" r="0.95"/><circle cx="526.8" cy="153.3" r="0.95"/><circle cx="524.9" cy="178.2" r="0.95"/><circle cx="526.2" cy="165.7" r="0.95"/><circle cx="519.7" cy="164.9" r="0.95"/><circle cx="521.5" cy="162.2" r="0.95"/><circle cx="527.6" cy="166.1" r="0.95"/><circle cx="528.2" cy="163.2" r="0.95"/><circle cx="533.2" cy="166.5" r="0.95"/><circle cx="523.1" cy="160.0" r="0.95"/><circle cx="527.9" cy="156.4" r="0.95"/><circle cx="525.6" cy="166.7" r="0.95"/><circle cx="533.2" cy="165.6" r="0.95"/><circle cx="529.7" cy="162.2" r="0.95"/><circle cx="531.8" cy="164.2" r="0.95"/><circle cx="526.1" cy="162.4" r="0.95"/><circle cx="528.4" cy="158.5" r="0.95"/><circle cx="528.4" cy="158.4" r="0.95"/><circle cx="526.4" cy="168.5" r="0.95"/><circle cx="520.7" cy="167.8" r="0.95"/><circle cx="528.9" cy="161.6" r="0.95"/><circle cx="524.5" cy="157.3" r="0.95"/><circle cx="530.4" cy="159.3" r="0.95"/><circle cx="518.7" cy="167.3" r="0.95"/><circle cx="527.8" cy="178.4" r="0.95"/><circle cx="521.8" cy="171.9" r="0.95"/><circle cx="525.5" cy="165.4" r="0.95"/><circle cx="522.2" cy="160.5" r="0.95"/><circle cx="528.6" cy="172.3" r="0.95"/><circle cx="521.5" cy="169.4" r="0.95"/><circle cx="524.5" cy="163.5" r="0.95"/><circle cx="527.2" cy="174.9" r="0.95"/><circle cx="525.4" cy="157.3" r="0.95"/><circle cx="525.2" cy="161.4" r="0.95"/><circle cx="528.8" cy="176.7" r="0.95"/><circle cx="524.9" cy="162.8" r="0.95"/><circle cx="526.8" cy="169.3" r="0.95"/><circle cx="530.2" cy="159.9" r="0.95"/><circle cx="532.8" cy="162.7" r="0.95"/><circle cx="525.6" cy="155.1" r="0.95"/><circle cx="525.6" cy="158.4" r="0.95"/><circle cx="523.9" cy="163.5" r="0.95"/><circle cx="526.1" cy="165.1" r="0.95"/><circle cx="518.8" cy="164.6" r="0.95"/><circle cx="523.5" cy="167.4" r="0.95"/><circle cx="519.9" cy="166.1" r="0.95"/><circle cx="530.1" cy="166.6" r="0.95"/><circle cx="528.2" cy="178.1" r="0.95"/><circle cx="525.1" cy="159.0" r="0.95"/><circle cx="522.8" cy="175.0" r="0.95"/><circle cx="518.5" cy="164.0" r="0.95"/><circle cx="520.9" cy="163.2" r="0.95"/><circle cx="522.1" cy="161.1" r="0.95"/><circle cx="527.3" cy="158.2" r="0.95"/><circle cx="528.6" cy="179.0" r="0.95"/><circle cx="520.9" cy="166.0" r="0.95"/><circle cx="520.3" cy="162.2" r="0.95"/><circle cx="526.7" cy="151.4" r="0.95"/><circle cx="525.9" cy="158.5" r="0.95"/><circle cx="523.6" cy="159.0" r="0.95"/><circle cx="527.4" cy="159.3" r="0.95"/><circle cx="529.7" cy="171.2" r="0.95"/><circle cx="523.7" cy="174.1" r="0.95"/><circle cx="521.7" cy="160.5" r="0.95"/><circle cx="532.0" cy="163.9" r="0.95"/><circle cx="527.8" cy="156.6" r="0.95"/><circle cx="520.6" cy="171.7" r="0.95"/><circle cx="534.4" cy="166.3" r="0.95"/><circle cx="525.2" cy="157.4" r="0.95"/><circle cx="529.7" cy="160.0" r="0.95"/><circle cx="526.5" cy="160.3" r="0.95"/><circle cx="526.4" cy="177.1" r="0.95"/><circle cx="529.2" cy="163.0" r="0.95"/><circle cx="530.9" cy="162.9" r="0.95"/><circle cx="527.0" cy="160.5" r="0.95"/><circle cx="526.2" cy="176.4" r="0.95"/><circle cx="521.4" cy="171.8" r="0.95"/><circle cx="522.3" cy="173.9" r="0.95"/><circle cx="525.2" cy="167.7" r="0.95"/><circle cx="527.0" cy="161.0" r="0.95"/><circle cx="532.5" cy="170.5" r="0.95"/><circle cx="531.4" cy="161.1" r="0.95"/><circle cx="524.2" cy="167.8" r="0.95"/><circle cx="520.7" cy="167.3" r="0.95"/><circle cx="523.5" cy="169.1" r="0.95"/><circle cx="526.9" cy="150.0" r="0.95"/><circle cx="523.1" cy="169.8" r="0.95"/><circle cx="529.4" cy="163.8" r="0.95"/><circle cx="527.0" cy="179.9" r="0.95"/><circle cx="526.0" cy="155.3" r="0.95"/><circle cx="525.6" cy="150.6" r="0.95"/><circle cx="529.7" cy="159.4" r="0.95"/><circle cx="526.2" cy="163.1" r="0.95"/><circle cx="521.2" cy="160.6" r="0.95"/><circle cx="523.1" cy="175.8" r="0.95"/><circle cx="527.0" cy="155.2" r="0.95"/><circle cx="522.7" cy="174.5" r="0.95"/><circle cx="525.4" cy="170.1" r="0.95"/><circle cx="526.4" cy="153.3" r="0.95"/><circle cx="517.8" cy="166.2" r="0.95"/><circle cx="526.9" cy="160.1" r="0.95"/><circle cx="522.0" cy="170.4" r="0.95"/><circle cx="527.9" cy="159.7" r="0.95"/><circle cx="524.3" cy="176.4" r="0.95"/><circle cx="526.5" cy="164.9" r="0.95"/><circle cx="526.2" cy="181.0" r="0.95"/><circle cx="526.6" cy="155.0" r="0.95"/><circle cx="532.6" cy="166.8" r="0.95"/><circle cx="520.3" cy="168.3" r="0.95"/><circle cx="523.1" cy="174.4" r="0.95"/><circle cx="532.3" cy="162.1" r="0.95"/><circle cx="525.1" cy="162.5" r="0.95"/><circle cx="520.5" cy="161.0" r="0.95"/><circle cx="521.8" cy="162.9" r="0.95"/><circle cx="527.0" cy="167.7" r="0.95"/><circle cx="525.0" cy="164.6" r="0.95"/><circle cx="526.1" cy="177.7" r="0.95"/><circle cx="521.0" cy="163.5" r="0.95"/><circle cx="523.0" cy="164.8" r="0.95"/><circle cx="527.4" cy="159.8" r="0.95"/><circle cx="526.4" cy="171.8" r="0.95"/><circle cx="529.5" cy="169.4" r="0.95"/><circle cx="530.9" cy="173.3" r="0.95"/><circle cx="529.5" cy="160.2" r="0.95"/><circle cx="527.2" cy="148.9" r="0.95"/><circle cx="522.4" cy="165.1" r="0.95"/></g>
<line x1="522.4" y1="148.4" x2="530.4" y2="148.4" stroke="#444" stroke-width="0.8"/>
<line x1="522.4" y1="181.3" x2="530.4" y2="181.3" stroke="#444" stroke-width="0.8"/>
<rect x="544.7" y="169.2" width="18.0" height="6.8" fill="none" stroke="#555" stroke-width="0.7"/>
<line x1="550.0" y1="145.0" x2="558.0" y2="145.0" stroke="#444" stroke-width="0.8"/>
<line x1="550.0" y1="183.4" x2="558.0" y2="183.4" stroke="#444" stroke-width="0.8"/>
<g fill="#1a1aee"><circle cx="554.6" cy="162.8" r="0.95"/><circle cx="555.5" cy="172.2" r="0.95"/><circle cx="559.9" cy="170.6" r="0.95"/><circle cx="560.0" cy="169.9" r="0.95"/><circle cx="558.8" cy="179.5" r="0.95"/><circle cx="561.7" cy="170.5" r="0.95"/><circle cx="553.4" cy="169.9" r="0.95"/><circle cx="558.3" cy="165.9" r="0.95"/><circle cx="551.3" cy="167.0" r="0.95"/><circle cx="556.0" cy="164.0" r="0.95"/><circle cx="546.0" cy="173.6" r="0.95"/><circle cx="555.8" cy="162.7" r="0.95"/><circle cx="552.7" cy="179.0" r="0.95"/><circle cx="558.2" cy="175.6" r="0.95"/><circle cx="554.0" cy="156.3" r="0.95"/><circle cx="550.5" cy="177.8" r="0.95"/><circle cx="552.2" cy="165.8" r="0.95"/><circle cx="550.6" cy="163.5" r="0.95"/><circle cx="550.6" cy="164.9" r="0.95"/><circle cx="547.3" cy="169.3" r="0.95"/><circle cx="552.4" cy="166.4" r="0.95"/><circle cx="554.5" cy="172.6" r="0.95"/><circle cx="555.8" cy="163.4" r="0.95"/><circle cx="561.7" cy="175.8" r="0.95"/><circle cx="549.9" cy="172.0" r="0.95"/><circle cx="550.9" cy="172.0" r="0.95"/><circle cx="548.0" cy="172.3" r="0.95"/><circle cx="551.5" cy="180.6" r="0.95"/><circle cx="554.8" cy="174.8" r="0.95"/><circle cx="556.4" cy="179.2" r="0.95"/><circle cx="554.1" cy="156.9" r="0.95"/><circle cx="559.8" cy="167.2" r="0.95"/><circle cx="551.3" cy="168.7" r="0.95"/><circle cx="555.6" cy="165.3" r="0.95"/><circle cx="559.7" cy="171.1" r="0.95"/><circle cx="555.6" cy="183.0" r="0.95"/><circle cx="560.8" cy="175.5" r="0.95"/><circle cx="550.2" cy="174.4" r="0.95"/><circle cx="554.1" cy="151.1" r="0.95"/><circle cx="554.3" cy="165.2" r="0.95"/><circle cx="554.4" cy="170.7" r="0.95"/><circle cx="547.7" cy="171.6" r="0.95"/><circle cx="555.3" cy="159.9" r="0.95"/><circle cx="548.3" cy="169.6" r="0.95"/><circle cx="553.6" cy="166.5" r="0.95"/><circle cx="553.3" cy="158.8" r="0.95"/><circle cx="553.4" cy="152.2" r="0.95"/><circle cx="557.4" cy="174.0" r="0.95"/><circle cx="559.6" cy="176.9" r="0.95"/><circle cx="551.8" cy="165.2" r="0.95"/><circle cx="562.4" cy="172.9" r="0.95"/><circle cx="553.5" cy="170.1" r="0.95"/><circle cx="559.1" cy="167.5" r="0.95"/><circle cx="553.6" cy="163.5" r="0.95"/><circle cx="552.5" cy="163.7" r="0.95"/><circle cx="554.7" cy="165.5" r="0.95"/><circle cx="554.9" cy="168.5" r="0.95"/><circle cx="557.5" cy="168.7" r="0.95"/><circle cx="555.8" cy="173.2" r="0.95"/><circle cx="553.0" cy="170.2" r="0.95"/><circle cx="545.9" cy="170.5" r="0.95"/><circle cx="551.6" cy="170.3" r="0.95"/><circle cx="560.7" cy="175.5" r="0.95"/><circle cx="555.4" cy="163.8" r="0.95"/><circle cx="554.1" cy="149.6" r="0.95"/><circle cx="547.2" cy="173.2" r="0.95"/><circle cx="555.3" cy="172.4" r="0.95"/><circle cx="553.7" cy="154.0" r="0.95"/><circle cx="555.6" cy="164.5" r="0.95"/><circle cx="553.4" cy="157.0" r="0.95"/><circle cx="553.7" cy="152.8" r="0.95"/><circle cx="553.3" cy="182.3" r="0.95"/><circle cx="546.8" cy="173.9" r="0.95"/><circle cx="549.5" cy="178.4" r="0.95"/><circle cx="548.8" cy="172.3" r="0.95"/><circle cx="562.1" cy="173.2" r="0.95"/><circle cx="549.7" cy="168.6" r="0.95"/><circle cx="555.8" cy="182.4" r="0.95"/><circle cx="554.1" cy="152.7" r="0.95"/><circle cx="548.6" cy="177.4" r="0.95"/><circle cx="554.0" cy="151.3" r="0.95"/><circle cx="553.4" cy="166.0" r="0.95"/><circle cx="550.6" cy="173.3" r="0.95"/><circle cx="558.9" cy="173.2" r="0.95"/><circle cx="554.0" cy="156.5" r="0.95"/><circle cx="557.2" cy="179.8" r="0.95"/><circle cx="553.0" cy="172.9" r="0.95"/><circle cx="550.2" cy="166.1" r="0.95"/><circle cx="554.2" cy="182.9" r="0.95"/><circle cx="551.2" cy="163.6" r="0.95"/><circle cx="553.4" cy="169.4" r="0.95"/><circle cx="553.5" cy="161.2" r="0.95"/><circle cx="551.9" cy="171.5" r="0.95"/><circle cx="560.5" cy="172.3" r="0.95"/><circle cx="553.8" cy="161.5" r="0.95"/><circle cx="556.0" cy="181.0" r="0.95"/><circle cx="556.4" cy="163.2" r="0.95"/><circle cx="553.5" cy="156.3" r="0.95"/><circle cx="560.3" cy="177.6" r="0.95"/><circle cx="559.3" cy="180.5" r="0.95"/><circle cx="549.1" cy="172.7" r="0.95"/><circle cx="560.5" cy="178.7" r="0.95"/><circle cx="556.9" cy="178.9" r="0.95"/><circle cx="546.5" cy="172.4" r="0.95"/><circle cx="557.4" cy="174.3" r="0.95"/><circle cx="555.3" cy="161.9" r="0.95"/><circle cx="551.2" cy="177.0" r="0.95"/><circle cx="554.6" cy="167.3" r="0.95"/><circle cx="557.2" cy="165.4" r="0.95"/><circle cx="547.0" cy="176.2" r="0.95"/><circle cx="561.5" cy="176.0" r="0.95"/><circle cx="553.9" cy="161.4" r="0.95"/><circle cx="557.7" cy="175.0" r="0.95"/><circle cx="554.1" cy="167.8" r="0.95"/><circle cx="558.9" cy="178.3" r="0.95"/><circle cx="555.8" cy="170.2" r="0.95"/><circle cx="549.5" cy="169.8" r="0.95"/><circle cx="546.3" cy="172.3" r="0.95"/><circle cx="554.5" cy="173.5" r="0.95"/><circle cx="549.5" cy="180.4" r="0.95"/><circle cx="554.3" cy="165.5" r="0.95"/><circle cx="553.5" cy="176.4" r="0.95"/><circle cx="547.8" cy="178.5" r="0.95"/><circle cx="552.2" cy="171.0" r="0.95"/><circle cx="556.2" cy="164.9" r="0.95"/><circle cx="552.1" cy="164.3" r="0.95"/><circle cx="551.9" cy="169.3" r="0.95"/><circle cx="549.7" cy="174.4" r="0.95"/><circle cx="555.5" cy="176.4" r="0.95"/><circle cx="553.8" cy="178.1" r="0.95"/><circle cx="550.1" cy="166.1" r="0.95"/><circle cx="548.1" cy="175.2" r="0.95"/><circle cx="555.4" cy="182.9" r="0.95"/><circle cx="558.7" cy="173.3" r="0.95"/><circle cx="561.7" cy="172.5" r="0.95"/><circle cx="554.6" cy="165.1" r="0.95"/><circle cx="554.0" cy="165.1" r="0.95"/><circle cx="548.1" cy="172.6" r="0.95"/><circle cx="555.6" cy="169.1" r="0.95"/><circle cx="554.2" cy="154.5" r="0.95"/><circle cx="546.5" cy="171.0" r="0.95"/><circle cx="546.3" cy="173.8" r="0.95"/><circle cx="554.3" cy="145.6" r="0.95"/><circle cx="549.9" cy="179.8" r="0.95"/><circle cx="556.2" cy="176.3" r="0.95"/><circle cx="553.8" cy="183.0" r="0.95"/><circle cx="555.7" cy="166.1" r="0.95"/><circle cx="552.0" cy="171.2" r="0.95"/><circle cx="554.8" cy="176.5" r="0.95"/><circle cx="552.0" cy="174.9" r="0.95"/><circle cx="548.4" cy="167.9" r="0.95"/><circle cx="556.2" cy="167.7" r="0.95"/><circle cx="549.3" cy="176.0" r="0.95"/><circle cx="551.0" cy="179.2" r="0.95"/><circle cx="547.2" cy="172.9" r="0.95"/><circle cx="554.6" cy="167.2" r="0.95"/><circle cx="554.0" cy="167.5" r="0.95"/><circle cx="556.8" cy="180.1" r="0.95"/><circle cx="560.8" cy="175.1" r="0.95"/><circle cx="553.0" cy="168.7" r="0.95"/><circle cx="548.3" cy="177.1" r="0.95"/><circle cx="553.5" cy="169.1" r="0.95"/><circle cx="555.4" cy="170.1" r="0.95"/><circle cx="556.5" cy="177.7" r="0.95"/><circle cx="561.2" cy="175.8" r="0.95"/><circle cx="553.6" cy="179.2" r="0.95"/><circle cx="552.8" cy="182.3" r="0.95"/><circle cx="558.0" cy="175.8" r="0.95"/><circle cx="547.8" cy="177.1" r="0.95"/><circle cx="553.6" cy="169.9" r="0.95"/><circle cx="547.3" cy="171.1" r="0.95"/><circle cx="546.3" cy="170.5" r="0.95"/><circle cx="551.8" cy="171.6" r="0.95"/><circle cx="561.0" cy="168.8" r="0.95"/><circle cx="554.9" cy="177.2" r="0.95"/><circle cx="555.3" cy="168.3" r="0.95"/><circle cx="557.1" cy="170.6" r="0.95"/><circle cx="550.0" cy="170.3" r="0.95"/><circle cx="554.2" cy="170.1" r="0.95"/><circle cx="552.2" cy="176.4" r="0.95"/><circle cx="557.4" cy="165.9" r="0.95"/><circle cx="556.0" cy="172.1" r="0.95"/><circle cx="554.0" cy="156.5" r="0.95"/><circle cx="549.4" cy="177.6" r="0.95"/><circle cx="560.8" cy="170.8" r="0.95"/><circle cx="546.4" cy="173.0" r="0.95"/><circle cx="554.2" cy="156.5" r="0.95"/><circle cx="559.8" cy="174.8" r="0.95"/><circle cx="557.6" cy="175.2" r="0.95"/><circle cx="548.0" cy="167.5" r="0.95"/><circle cx="556.2" cy="172.0" r="0.95"/><circle cx="547.8" cy="174.1" r="0.95"/><circle cx="557.4" cy="174.0" r="0.95"/><circle cx="559.1" cy="167.3" r="0.95"/><circle cx="554.3" cy="156.0" r="0.95"/><circle cx="556.7" cy="170.6" r="0.95"/><circle cx="548.7" cy="171.2" r="0.95"/><circle cx="546.7" cy="170.1" r="0.95"/><circle cx="546.5" cy="173.8" r="0.95"/><circle cx="558.6" cy="174.7" r="0.95"/><circle cx="546.5" cy="169.5" r="0.95"/><circle cx="550.5" cy="178.0" r="0.95"/><circle cx="553.6" cy="177.6" r="0.95"/><circle cx="553.5" cy="150.4" r="0.95"/><circle cx="553.7" cy="157.3" r="0.95"/><circle cx="554.1" cy="177.9" r="0.95"/><circle cx="557.4" cy="177.7" r="0.95"/><circle cx="557.8" cy="165.9" r="0.95"/><circle cx="562.0" cy="175.5" r="0.95"/><circle cx="550.6" cy="167.2" r="0.95"/><circle cx="545.9" cy="172.4" r="0.95"/><circle cx="552.2" cy="167.1" r="0.95"/><circle cx="548.7" cy="178.3" r="0.95"/><circle cx="555.2" cy="171.8" r="0.95"/><circle cx="555.2" cy="181.6" r="0.95"/><circle cx="555.6" cy="164.6" r="0.95"/><circle cx="551.9" cy="167.5" r="0.95"/><circle cx="551.8" cy="176.1" r="0.95"/><circle cx="552.9" cy="178.4" r="0.95"/><circle cx="560.1" cy="168.4" r="0.95"/><circle cx="550.5" cy="171.2" r="0.95"/><circle cx="550.2" cy="176.1" r="0.95"/><circle cx="559.7" cy="179.7" r="0.95"/><circle cx="551.5" cy="170.1" r="0.95"/><circle cx="554.4" cy="170.9" r="0.95"/><circle cx="559.9" cy="169.7" r="0.95"/><circle cx="551.6" cy="176.9" r="0.95"/><circle cx="549.7" cy="164.8" r="0.95"/><circle cx="551.1" cy="178.5" r="0.95"/><circle cx="551.5" cy="169.9" r="0.95"/><circle cx="550.4" cy="165.3" r="0.95"/><circle cx="552.8" cy="178.5" r="0.95"/><circle cx="553.7" cy="156.3" r="0.95"/><circle cx="553.3" cy="179.6" r="0.95"/><circle cx="557.6" cy="180.7" r="0.95"/><circle cx="551.0" cy="176.7" r="0.95"/><circle cx="555.4" cy="175.8" r="0.95"/><circle cx="553.8" cy="175.5" r="0.95"/><circle cx="555.3" cy="172.3" r="0.95"/><circle cx="550.1" cy="167.7" r="0.95"/><circle cx="559.9" cy="167.4" r="0.95"/><circle cx="557.7" cy="179.7" r="0.95"/><circle cx="555.1" cy="181.6" r="0.95"/><circle cx="557.8" cy="171.3" r="0.95"/><circle cx="558.9" cy="176.5" r="0.95"/><circle cx="556.8" cy="178.1" r="0.95"/><circle cx="549.3" cy="172.6" r="0.95"/><circle cx="551.6" cy="172.5" r="0.95"/><circle cx="560.2" cy="179.4" r="0.95"/><circle cx="556.7" cy="182.0" r="0.95"/><circle cx="553.6" cy="174.4" r="0.95"/><circle cx="557.5" cy="175.5" r="0.95"/><circle cx="554.3" cy="156.0" r="0.95"/><circle cx="553.2" cy="179.2" r="0.95"/><circle cx="560.1" cy="168.1" r="0.95"/><circle cx="551.7" cy="175.6" r="0.95"/><circle cx="555.1" cy="172.6" r="0.95"/><circle cx="554.1" cy="154.3" r="0.95"/><circle cx="552.9" cy="174.7" r="0.95"/><circle cx="551.1" cy="165.8" r="0.95"/><circle cx="549.3" cy="168.4" r="0.95"/><circle cx="554.9" cy="179.5" r="0.95"/><circle cx="553.0" cy="160.8" r="0.95"/><circle cx="561.3" cy="170.0" r="0.95"/><circle cx="550.8" cy="181.4" r="0.95"/><circle cx="552.8" cy="163.1" r="0.95"/><circle cx="553.5" cy="160.9" r="0.95"/><circle cx="547.5" cy="177.7" r="0.95"/><circle cx="546.2" cy="170.8" r="0.95"/><circle cx="549.6" cy="178.6" r="0.95"/><circle cx="557.0" cy="171.6" r="0.95"/><circle cx="557.5" cy="177.4" r="0.95"/><circle cx="551.8" cy="169.9" r="0.95"/><circle cx="553.3" cy="171.2" r="0.95"/><circle cx="554.2" cy="148.3" r="0.95"/><circle cx="556.1" cy="161.4" r="0.95"/><circle cx="557.7" cy="163.8" r="0.95"/><circle cx="550.5" cy="174.1" r="0.95"/><circle cx="550.7" cy="181.2" r="0.95"/><circle cx="554.3" cy="148.2" r="0.95"/><circle cx="553.3" cy="181.8" r="0.95"/><circle cx="560.0" cy="173.4" r="0.95"/><circle cx="553.9" cy="183.3" r="0.95"/><circle cx="559.4" cy="172.9" r="0.95"/><circle cx="556.7" cy="176.7" r="0.95"/><circle cx="558.8" cy="167.8" r="0.95"/><circle cx="554.3" cy="172.7" r="0.95"/><circle cx="554.5" cy="153.8" r="0.95"/><circle cx="559.2" cy="171.7" r="0.95"/><circle cx="555.2" cy="159.8" r="0.95"/><circle cx="551.8" cy="167.8" r="0.95"/><circle cx="554.3" cy="155.8" r="0.95"/><circle cx="554.8" cy="160.6" r="0.95"/><circle cx="556.8" cy="179.6" r="0.95"/><circle cx="553.2" cy="156.5" r="0.95"/><circle cx="560.4" cy="170.6" r="0.95"/><circle cx="558.4" cy="177.5" r="0.95"/><circle cx="554.3" cy="161.3" r="0.95"/><circle cx="547.7" cy="170.7" r="0.95"/><circle cx="557.0" cy="167.3" r="0.95"/><circle cx="557.5" cy="167.8" r="0.95"/><circle cx="554.3" cy="145.5" r="0.95"/><circle cx="554.3" cy="154.1" r="0.95"/><circle cx="561.4" cy="171.7" r="0.95"/><circle cx="557.3" cy="176.6" r="0.95"/><circle cx="554.5" cy="157.0" r="0.95"/><circle cx="554.2" cy="174.4" r="0.95"/><circle cx="553.9" cy="157.6" r="0.95"/><circle cx="553.8" cy="165.0" r="0.95"/><circle cx="545.7" cy="170.8" r="0.95"/><circle cx="551.0" cy="172.0" r="0.95"/><circle cx="553.6" cy="148.3" r="0.95"/><circle cx="559.7" cy="169.6" r="0.95"/><circle cx="562.2" cy="176.6" r="0.95"/><circle cx="550.6" cy="164.4" r="0.95"/><circle cx="557.1" cy="169.4" r="0.95"/><circle cx="555.6" cy="160.9" r="0.95"/><circle cx="554.2" cy="168.9" r="0.95"/><circle cx="549.1" cy="167.1" r="0.95"/><circle cx="552.0" cy="172.9" r="0.95"/><circle cx="554.2" cy="168.7" r="0.95"/><circle cx="554.4" cy="148.0" r="0.95"/><circle cx="553.4" cy="183.0" r="0.95"/><circle cx="552.9" cy="182.5" r="0.95"/><circle cx="545.3" cy="175.5" r="0.95"/><circle cx="553.4" cy="182.0" r="0.95"/><circle cx="550.0" cy="181.6" r="0.95"/><circle cx="554.8" cy="174.5" r="0.95"/><circle cx="551.2" cy="181.2" r="0.95"/><circle cx="549.2" cy="173.8" r="0.95"/></g>
<line x1="550.0" y1="145.0" x2="558.0" y2="145.0" stroke="#444" stroke-width="0.8"/>
<line x1="550.0" y1="183.4" x2="558.0" y2="183.4" stroke="#444" stroke-width="0.8"/>
<rect x="571.4" y="157.4" width="18.0" height="9.3" fill="none" stroke="#555" stroke-width="0.7"/>
<line x1="576.6" y1="146.2" x2="584.6" y2="146.2" stroke="#444" stroke-width="0.8"/>
<line x1="576.6" y1="176.6" x2="584.6" y2="176.6" stroke="#444" stroke-width="0.8"/>
<g fill="#f02a1a"><circle cx="582.9" cy="154.8" r="0.95"/><circle cx="579.9" cy="148.7" r="0.95"/><circle cx="584.7" cy="160.2" r="0.95"/><circle cx="582.7" cy="161.0" r="0.95"/><circle cx="574.4" cy="163.3" r="0.95"/><circle cx="585.3" cy="154.7" r="0.95"/><circle cx="580.4" cy="148.9" r="0.95"/><circle cx="585.2" cy="167.9" r="0.95"/><circle cx="580.9" cy="167.3" r="0.95"/><circle cx="577.7" cy="158.0" r="0.95"/><circle cx="578.0" cy="151.7" r="0.95"/><circle cx="585.7" cy="153.7" r="0.95"/><circle cx="582.5" cy="175.4" r="0.95"/><circle cx="576.7" cy="163.6" r="0.95"/><circle cx="582.0" cy="152.9" r="0.95"/><circle cx="586.1" cy="155.4" r="0.95"/><circle cx="586.1" cy="158.5" r="0.95"/><circle cx="577.4" cy="170.3" r="0.95"/><circle cx="582.6" cy="148.9" r="0.95"/><circle cx="581.4" cy="170.3" r="0.95"/><circle cx="579.1" cy="159.5" r="0.95"/><circle cx="583.5" cy="155.9" r="0.95"/><circle cx="577.1" cy="157.2" r="0.95"/><circle cx="578.3" cy="161.4" r="0.95"/><circle cx="577.8" cy="158.9" r="0.95"/><circle cx="580.7" cy="156.9" r="0.95"/><circle cx="574.5" cy="155.2" r="0.95"/><circle cx="574.5" cy="158.4" r="0.95"/><circle cx="574.5" cy="158.3" r="0.95"/><circle cx="576.4" cy="159.5" r="0.95"/><circle cx="587.1" cy="163.0" r="0.95"/><circle cx="574.1" cy="155.9" r="0.95"/><circle cx="575.3" cy="151.9" r="0.95"/><circle cx="575.4" cy="161.0" r="0.95"/><circle cx="578.6" cy="169.0" r="0.95"/><circle cx="577.4" cy="159.5" r="0.95"/><circle cx="584.1" cy="150.9" r="0.95"/><circle cx="576.3" cy="157.8" r="0.95"/><circle cx="579.4" cy="149.6" r="0.95"/><circle cx="577.5" cy="170.5" r="0.95"/><circle cx="576.1" cy="160.8" r="0.95"/><circle cx="586.1" cy="168.2" r="0.95"/><circle cx="576.4" cy="167.2" r="0.95"/><circle cx="580.1" cy="166.2" r="0.95"/><circle cx="584.8" cy="150.8" r="0.95"/><circle cx="582.4" cy="164.4" r="0.95"/><circle cx="577.6" cy="166.1" r="0.95"/><circle cx="585.6" cy="152.7" r="0.95"/><circle cx="578.9" cy="172.7" r="0.95"/><circle cx="580.6" cy="164.1" r="0.95"/><circle cx="580.5" cy="149.0" r="0.95"/><circle cx="580.5" cy="149.5" r="0.95"/><circle cx="579.2" cy="170.3" r="0.95"/><circle cx="576.3" cy="167.8" r="0.95"/><circle cx="583.3" cy="161.7" r="0.95"/><circle cx="578.9" cy="169.4" r="0.95"/><circle cx="582.3" cy="174.1" r="0.95"/><circle cx="576.9" cy="160.2" r="0.95"/><circle cx="579.7" cy="174.9" r="0.95"/><circle cx="577.1" cy="171.4" r="0.95"/><circle cx="580.6" cy="155.0" r="0.95"/><circle cx="577.1" cy="155.5" r="0.95"/><circle cx="575.0" cy="164.5" r="0.95"/><circle cx="580.6" cy="172.4" r="0.95"/><circle cx="581.9" cy="167.4" r="0.95"/><circle cx="580.6" cy="161.5" r="0.95"/><circle cx="577.3" cy="149.7" r="0.95"/><circle cx="585.4" cy="162.6" r="0.95"/><circle cx="583.1" cy="156.2" r="0.95"/><circle cx="581.9" cy="160.7" r="0.95"/><circle cx="575.6" cy="153.0" r="0.95"/><circle cx="576.3" cy="153.4" r="0.95"/><circle cx="582.0" cy="158.8" r="0.95"/><circle cx="582.3" cy="163.0" r="0.95"/><circle cx="575.3" cy="160.5" r="0.95"/><circle cx="586.5" cy="154.6" r="0.95"/><circle cx="583.3" cy="173.0" r="0.95"/><circle cx="579.1" cy="173.6" r="0.95"/><circle cx="573.6" cy="160.4" r="0.95"/><circle cx="586.5" cy="158.9" r="0.95"/><circle cx="587.1" cy="161.3" r="0.95"/><circle cx="578.2" cy="167.2" r="0.95"/><circle cx="574.8" cy="160.0" r="0.95"/><circle cx="576.2" cy="150.8" r="0.95"/><circle cx="578.0" cy="170.3" r="0.95"/><circle cx="581.9" cy="153.8" r="0.95"/><circle cx="583.5" cy="167.9" r="0.95"/><circle cx="584.0" cy="163.6" r="0.95"/><circle cx="578.7" cy="169.5" r="0.95"/><circle cx="583.5" cy="156.6" r="0.95"/><circle cx="580.0" cy="151.8" r="0.95"/><circle cx="583.0" cy="165.5" r="0.95"/><circle cx="580.5" cy="165.1" r="0.95"/><circle cx="581.3" cy="156.8" r="0.95"/><circle cx="586.3" cy="160.0" r="0.95"/><circle cx="577.3" cy="161.0" r="0.95"/><circle cx="575.0" cy="164.4" r="0.95"/><circle cx="578.2" cy="173.5" r="0.95"/><circle cx="581.7" cy="162.3" r="0.95"/><circle cx="586.5" cy="166.7" r="0.95"/><circle cx="574.5" cy="161.2" r="0.95"/><circle cx="583.3" cy="155.5" r="0.95"/><circle cx="574.2" cy="167.5" r="0.95"/><circle cx="578.3" cy="172.2" r="0.95"/><circle cx="574.6" cy="155.4" r="0.95"/><circle cx="578.2" cy="159.2" r="0.95"/><circle cx="585.1" cy="156.7" r="0.95"/><circle cx="582.0" cy="147.1" r="0.95"/><circle cx="581.0" cy="155.5" r="0.95"/><circle cx="580.7" cy="158.4" r="0.95"/><circle cx="586.9" cy="156.8" r="0.95"/><circle cx="579.4" cy="169.1" r="0.95"/><circle cx="580.3" cy="168.1" r="0.95"/><circle cx="584.0" cy="170.1" r="0.95"/><circle cx="576.7" cy="162.7" r="0.95"/><circle cx="586.8" cy="169.7" r="0.95"/><circle cx="584.4" cy="154.2" r="0.95"/><circle cx="585.4" cy="154.1" r="0.95"/><circle cx="578.4" cy="155.0" r="0.95"/><circle cx="579.2" cy="169.9" r="0.95"/><circle cx="576.4" cy="166.9" r="0.95"/><circle cx="581.8" cy="172.5" r="0.95"/><circle cx="580.3" cy="172.4" r="0.95"/><circle cx="579.1" cy="167.8" r="0.95"/><circle cx="580.7" cy="162.7" r="0.95"/><circle cx="582.7" cy="171.6" r="0.95"/><circle cx="580.0" cy="154.8" r="0.95"/><circle cx="577.9" cy="150.1" r="0.95"/><circle cx="587.9" cy="159.7" r="0.95"/><circle cx="581.8" cy="152.6" r="0.95"/><circle cx="585.4" cy="166.7" r="0.95"/><circle cx="579.6" cy="157.5" r="0.95"/><circle cx="583.9" cy="165.1" r="0.95"/><circle cx="587.0" cy="155.7" r="0.95"/><circle cx="579.7" cy="171.0" r="0.95"/><circle cx="575.9" cy="162.4" r="0.95"/><circle cx="575.7" cy="164.1" r="0.95"/><circle cx="586.4" cy="166.7" r="0.95"/><circle cx="580.2" cy="163.9" r="0.95"/><circle cx="585.7" cy="159.4" r="0.95"/><circle cx="579.8" cy="157.9" r="0.95"/><circle cx="580.8" cy="169.4" r="0.95"/><circle cx="575.8" cy="153.2" r="0.95"/><circle cx="583.2" cy="154.1" r="0.95"/><circle cx="584.7" cy="150.6" r="0.95"/><circle cx="585.8" cy="165.7" r="0.95"/><circle cx="586.4" cy="169.3" r="0.95"/><circle cx="573.4" cy="162.4" r="0.95"/><circle cx="574.2" cy="163.0" r="0.95"/><circle cx="579.9" cy="148.4" r="0.95"/><circle cx="578.8" cy="151.7" r="0.95"/><circle cx="577.0" cy="153.7" r="0.95"/><circle cx="581.5" cy="156.7" r="0.95"/><circle cx="574.4" cy="168.4" r="0.95"/><circle cx="576.3" cy="163.6" r="0.95"/><circle cx="573.8" cy="164.4" r="0.95"/><circle cx="586.0" cy="162.7" r="0.95"/><circle cx="586.8" cy="169.3" r="0.95"/><circle cx="577.8" cy="149.8" r="0.95"/><circle cx="581.2" cy="155.4" r="0.95"/><circle cx="582.4" cy="149.0" r="0.95"/><circle cx="586.0" cy="155.1" r="0.95"/><circle cx="586.8" cy="165.5" r="0.95"/><circle cx="587.0" cy="153.7" r="0.95"/><circle cx="583.2" cy="174.1" r="0.95"/><circle cx="582.8" cy="148.8" r="0.95"/><circle cx="586.0" cy="163.7" r="0.95"/><circle cx="578.2" cy="172.1" r="0.95"/><circle cx="577.9" cy="170.4" r="0.95"/><circle cx="575.6" cy="171.3" r="0.95"/><circle cx="585.8" cy="160.6" r="0.95"/><circle cx="577.3" cy="155.2" r="0.95"/><circle cx="574.2" cy="157.4" r="0.95"/><circle cx="579.8" cy="172.2" r="0.95"/><circle cx="576.9" cy="160.5" r="0.95"/><circle cx="578.3" cy="164.5" r="0.95"/><circle cx="582.4" cy="154.3" r="0.95"/><circle cx="577.9" cy="158.7" r="0.95"/><circle cx="582.0" cy="155.9" r="0.95"/><circle cx="579.3" cy="150.9" r="0.95"/><circle cx="582.2" cy="174.7" r="0.95"/><circle cx="586.5" cy="165.3" r="0.95"/><circle cx="586.7" cy="166.6" r="0.95"/><circle cx="573.3" cy="160.1" r="0.95"/><circle cx="585.6" cy="168.2" r="0.95"/><circle cx="579.5" cy="175.8" r="0.95"/><circle cx="574.7" cy="163.6" r="0.95"/><circle cx="580.3" cy="148.5" r="0.95"/><circle cx="585.0" cy="162.8" r="0.95"/><circle cx="581.6" cy="168.3" r="0.95"/><circle cx="579.1" cy="171.3" r="0.95"/><circle cx="578.3" cy="149.7" r="0.95"/><circle cx="580.4" cy="168.6" r="0.95"/><circle cx="576.2" cy="165.9" r="0.95"/><circle cx="576.0" cy="162.6" r="0.95"/><circle cx="578.7" cy="151.5" r="0.95"/><circle cx="582.5" cy="162.2" r="0.95"/><circle cx="580.0" cy="151.6" r="0.95"/><circle cx="581.0" cy="148.2" r="0.95"/><circle cx="574.3" cy="164.5" r="0.95"/><circle cx="573.3" cy="163.6" r="0.95"/><circle cx="582.0" cy="174.7" r="0.95"/><circle cx="581.7" cy="157.6" r="0.95"/><circle cx="575.6" cy="151.8" r="0.95"/><circle cx="576.7" cy="158.4" r="0.95"/><circle cx="581.6" cy="153.1" r="0.95"/><circle cx="582.1" cy="170.6" r="0.95"/><circle cx="578.7" cy="168.2" r="0.95"/><circle cx="579.7" cy="161.8" r="0.95"/><circle cx="583.9" cy="168.6" r="0.95"/><circle cx="575.8" cy="159.4" r="0.95"/><circle cx="574.1" cy="155.2" r="0.95"/><circle cx="581.1" cy="155.6" r="0.95"/><circle cx="583.4" cy="156.2" r="0.95"/><circle cx="582.0" cy="153.2" r="0.95"/><circle cx="575.4" cy="158.1" r="0.95"/><circle cx="583.9" cy="170.2" r="0.95"/><circle cx="578.3" cy="165.0" r="0.95"/><circle cx="575.2" cy="164.4" r="0.95"/><circle cx="587.5" cy="166.2" r="0.95"/><circle cx="582.4" cy="153.1" r="0.95"/><circle cx="580.4" cy="149.6" r="0.95"/><circle cx="575.4" cy="154.7" r="0.95"/><circle cx="577.3" cy="150.3" r="0.95"/><circle cx="578.5" cy="167.6" r="0.95"/><circle cx="579.7" cy="170.7" r="0.95"/><circle cx="578.7" cy="174.6" r="0.95"/><circle cx="574.2" cy="160.8" r="0.95"/><circle cx="581.4" cy="164.0" r="0.95"/><circle cx="577.9" cy="161.4" r="0.95"/></g>
<line x1="576.6" y1="146.2" x2="584.6" y2="146.2" stroke="#444" stroke-width="0.8"/>
<line x1="576.6" y1="176.6" x2="584.6" y2="176.6" stroke="#444" stroke-width="0.8"/>
<circle cx="598.8" cy="135.1" r="1.9" fill="#000" />
<text x="607.3" y="137.5" font-size="7" text-anchor="start" font-weight="normal" font-style="normal" fill="#111"  stroke="#111" stroke-width="0.13">Non-tumor</text>
<circle cx="598.8" cy="147.8" r="1.9" fill="#3a9a4a" />
<text x="607.3" y="150.2" font-size="7" text-anchor="start" font-weight="normal" font-style="normal" fill="#3a9a4a"  stroke="#3a9a4a" stroke-width="0.13">Astrocytoma</text>
<circle cx="598.8" cy="160.1" r="1.9" fill="#2222ee" />
<text x="607.3" y="162.5" font-size="7" text-anchor="start" font-weight="normal" font-style="normal" fill="#2222ee"  stroke="#2222ee" stroke-width="0.13">Oligodendroglioma</text>
<circle cx="598.8" cy="172.6" r="1.9" fill="#f02a1a" />
<text x="607.3" y="175.0" font-size="7" text-anchor="start" font-weight="normal" font-style="normal" fill="#f02a1a"  stroke="#f02a1a" stroke-width="0.13">GBM</text>
<text x="5.9" y="240.8" font-size="10.5" text-anchor="start" font-weight="bold" font-style="normal" fill="#000"  stroke="#000" stroke-width="0.13">e</text>
<text x="89.0" y="247.1" font-size="7.95" text-anchor="middle" font-weight="normal" font-style="normal" fill="#1a1a1a"  stroke="#1a1a1a" stroke-width="0.13">TCGA_GBM</text>
<line x1="38.5" y1="253.5" x2="38.5" y2="340.0" stroke="#4a4a4a" stroke-width="0.95"/>
<line x1="35.3" y1="253.5" x2="38.5" y2="253.5" stroke="#4a4a4a" stroke-width="0.95"/>
<text x="31.1" y="255.7" font-size="7" text-anchor="end" font-weight="normal" font-style="normal" fill="#1a1a1a"  stroke="#1a1a1a" stroke-width="0.13">100</text>
<line x1="35.3" y1="271.0" x2="38.5" y2="271.0" stroke="#4a4a4a" stroke-width="0.95"/>
<text x="31.1" y="273.2" font-size="7" text-anchor="end" font-weight="normal" font-style="normal" fill="#1a1a1a"  stroke="#1a1a1a" stroke-width="0.13">80</text>
<line x1="35.3" y1="288.4" x2="38.5" y2="288.4" stroke="#4a4a4a" stroke-width="0.95"/>
<text x="31.1" y="290.6" font-size="7" text-anchor="end" font-weight="normal" font-style="normal" fill="#1a1a1a"  stroke="#1a1a1a" stroke-width="0.13">60</text>
<line x1="35.3" y1="305.3" x2="38.5" y2="305.3" stroke="#4a4a4a" stroke-width="0.95"/>
<text x="31.1" y="307.5" font-size="7" text-anchor="end" font-weight="normal" font-style="normal" fill="#1a1a1a"  stroke="#1a1a1a" stroke-width="0.13">40</text>
<line x1="35.3" y1="322.4" x2="38.5" y2="322.4" stroke="#4a4a4a" stroke-width="0.95"/>
<text x="31.1" y="324.6" font-size="7" text-anchor="end" font-weight="normal" font-style="normal" fill="#1a1a1a"  stroke="#1a1a1a" stroke-width="0.13">20</text>
<line x1="35.3" y1="339.6" x2="38.5" y2="339.6" stroke="#4a4a4a" stroke-width="0.95"/>
<text x="31.1" y="341.8" font-size="7" text-anchor="end" font-weight="normal" font-style="normal" fill="#1a1a1a"  stroke="#1a1a1a" stroke-width="0.13">0</text>
<line x1="37.9" y1="341.0" x2="139.4" y2="341.0" stroke="#4a4a4a" stroke-width="0.9"/>
<line x1="38.3" y1="341.0" x2="38.3" y2="343.8" stroke="#4a4a4a" stroke-width="0.9"/>
<text x="38.3" y="354.3" font-size="7" text-anchor="middle" font-weight="normal" font-style="normal" fill="#1a1a1a"  stroke="#1a1a1a" stroke-width="0.13">0</text>
<line x1="71.6" y1="341.0" x2="71.6" y2="343.8" stroke="#4a4a4a" stroke-width="0.9"/>
<text x="71.6" y="354.3" font-size="7" text-anchor="middle" font-weight="normal" font-style="normal" fill="#1a1a1a"  stroke="#1a1a1a" stroke-width="0.13">50</text>
<line x1="105.5" y1="341.0" x2="105.5" y2="343.8" stroke="#4a4a4a" stroke-width="0.9"/>
<text x="105.5" y="354.3" font-size="7" text-anchor="middle" font-weight="normal" font-style="normal" fill="#1a1a1a"  stroke="#1a1a1a" stroke-width="0.13">100</text>
<line x1="139.0" y1="341.0" x2="139.0" y2="343.8" stroke="#4a4a4a" stroke-width="0.9"/>
<text x="139.0" y="354.3" font-size="7" text-anchor="middle" font-weight="normal" font-style="normal" fill="#1a1a1a"  stroke="#1a1a1a" stroke-width="0.13">150</text>
<text x="88.6" y="361.9" font-size="7.2" text-anchor="middle" font-weight="normal" font-style="normal" fill="#1a1a1a"  stroke="#1a1a1a" stroke-width="0.13">Survival time (months)</text>
<text x="0" y="0" font-size="7.1" text-anchor="middle" fill="#1a1a1a" font-style="normal" transform="translate(19.3,297.0) rotate(-90)" stroke="#1a1a1a" stroke-width="0.13">Probability of Survival</text>
<line x1="85.4" y1="262.0" x2="96.6" y2="262.0" stroke="#4040f0" stroke-width="0.9"/>
<text x="104.1" y="264.4" font-size="7" fill="#1a1a1a" stroke="#1a1a1a" stroke-width="0.13"><tspan font-style="italic">ICAM1</tspan> low</text>
<line x1="85.4" y1="276.6" x2="96.6" y2="276.6" stroke="#f03a3a" stroke-width="0.9"/>
<text x="104.1" y="279.0" font-size="7" fill="#1a1a1a" stroke="#1a1a1a" stroke-width="0.13"><tspan font-style="italic">ICAM1</tspan> high</text>
<text x="100.7" y="302.3" font-size="7" fill="#1a1a1a" stroke="#1a1a1a" stroke-width="0.13"><tspan font-style="italic">P</tspan>= 0.0142</text>
<path d="M38.5,253.2 L39.3,253.2 L39.3,257.2 L40.1,257.2 L40.1,261.1 L40.9,261.1 L40.9,265.1 L41.6,265.1 L41.6,269.1 L42.4,269.1 L42.4,273.1 L43.2,273.1 L43.2,277.0 L44.0,277.0 L44.0,281.0 L44.8,281.0 L44.8,284.5 L45.5,284.5 L45.5,288.0 L46.2,288.0 L46.2,291.5 L47.0,291.5 L47.0,295.0 L47.8,295.0 L47.8,299.9 L48.5,299.9 L48.5,304.8 L49.3,304.8 L49.3,309.7 L50.1,309.7 L50.1,312.4 L50.9,312.4 L50.9,315.2 L51.7,315.2 L51.7,317.9 L52.5,317.9 L52.5,320.7 L53.3,320.7 L53.3,322.1 L54.1,322.1 L54.1,323.6 L55.0,323.6 L55.0,325.0 L55.8,325.0 L55.8,326.5 L56.6,326.5 L56.6,327.9 L57.4,327.9 L57.4,329.4 L58.2,329.4 L58.2,329.8 L58.9,329.8 L58.9,330.2 L59.7,330.2 L59.7,330.6 L60.5,330.6 L60.5,331.0 L61.2,331.0 L61.2,331.5 L62.0,331.5 L62.0,331.9 L62.7,331.9 L62.7,332.3 L63.5,332.3 L63.5,332.7 L64.2,332.7 L64.2,332.9 L65.0,332.9 L65.0,333.1 L65.7,333.1 L65.7,333.2 L66.4,333.2 L66.4,333.4 L67.2,333.4 L67.2,333.6 L67.9,333.6 L67.9,333.8 L68.6,333.8 L68.6,334.0 L69.4,334.0 L69.4,334.2 L70.1,334.2 L70.1,334.3 L70.8,334.3 L70.8,334.5 L71.6,334.5 L71.6,334.7 L72.3,334.7 L72.3,334.9 L73.0,334.9 L73.0,335.1 L73.7,335.1 L73.7,335.4 L74.5,335.4 L74.5,335.6 L75.2,335.6 L75.2,335.9 L75.9,335.9 L75.9,336.1 L76.6,336.1 L76.6,336.4 L77.4,336.4 L77.4,336.6 L78.1,336.6 L78.1,336.9 L78.8,336.9 L78.8,337.1 L79.5,337.1 L79.5,337.2 L80.3,337.2 L80.3,337.2 L81.0,337.2 L81.0,337.3 L81.7,337.3 L81.7,337.3 L82.5,337.3 L82.5,337.4 L83.2,337.4 L83.2,337.5 L83.9,337.5 L83.9,337.5 L84.7,337.5 L84.7,337.6 L85.4,337.6 L85.4,337.6 L86.1,337.6 L86.1,337.7 L86.9,337.7 L86.9,337.8 L87.6,337.8 L87.6,337.8 L88.3,337.8 L88.3,337.9 L89.1,337.9 L89.1,338.0 L89.8,338.0 L89.8,338.0 L90.5,338.0 L90.5,338.1 L91.3,338.1 L91.3,338.1 L92.0,338.1 L92.0,338.2 L92.7,338.2 L92.7,338.2 L93.4,338.2 L93.4,338.2 L94.1,338.2 L94.1,338.2 L94.8,338.2 L94.8,338.2 L95.5,338.2 L95.5,338.2 L96.2,338.2 L96.2,338.3 L96.9,338.3 L96.9,338.3 L97.6,338.3 L97.6,338.3 L98.3,338.3 L98.3,338.3 L99.0,338.3 L99.0,338.3 L99.7,338.3 L99.7,338.3 L100.5,338.3 L100.5,338.3 L101.2,338.3 L101.2,338.3 L101.9,338.3 L101.9,338.3 L102.6,338.3 L102.6,338.3 L103.3,338.3 L103.3,338.3 L104.0,338.3 L104.0,338.4 L104.7,338.4 L104.7,338.4 L105.4,338.4 L105.4,338.4 L106.1,338.4 L106.1,338.4 L106.8,338.4 L106.8,338.4 L107.5,338.4 L107.5,338.4 L108.2,338.4 L108.2,338.4 L108.9,338.4 L108.9,338.4 L109.6,338.4 L109.6,338.4 L110.3,338.4 L110.3,338.4 L111.0,338.4 L111.0,338.4 L111.7,338.4 L111.7,338.4 L112.4,338.4 L112.4,338.5 L113.1,338.5 L113.1,338.5 L113.8,338.5 L113.8,338.5 L114.5,338.5 L114.5,338.5 L115.2,338.5 L115.2,338.5 L116.0,338.5 L116.0,338.5 L116.7,338.5 L116.7,338.5 L117.4,338.5 L117.4,338.5 L118.1,338.5 L118.1,338.5 L118.8,338.5 L118.8,338.5 L119.5,338.5 L119.5,338.5 L120.2,338.5 L120.2,338.6 L120.9,338.6 L120.9,338.6 L121.6,338.6 L121.6,338.6 L122.3,338.6 L122.3,338.6 L123.0,338.6 L123.0,338.6 L123.7,338.6 L123.7,338.6" fill="none" stroke="#f03a3a" stroke-width="0.9" stroke-linejoin="round" />
<path d="M38.5,253.2 L39.3,253.2 L39.3,257.0 L40.1,257.0 L40.1,260.9 L40.9,260.9 L40.9,264.7 L41.6,264.7 L41.6,268.5 L42.4,268.5 L42.4,272.3 L43.2,272.3 L43.2,276.2 L44.0,276.2 L44.0,280.0 L45.0,280.0 L45.0,286.0 L46.0,286.0 L46.0,292.0 L46.7,292.0 L46.7,294.4 L47.4,294.4 L47.4,296.8 L48.1,296.8 L48.1,299.2 L48.8,299.2 L48.8,301.6 L49.5,301.6 L49.5,304.0 L50.2,304.0 L50.2,306.0 L51.0,306.0 L51.0,307.9 L51.8,307.9 L51.8,309.9 L52.5,309.9 L52.5,311.9 L53.2,311.9 L53.2,313.4 L54.0,313.4 L54.0,314.8 L54.7,314.8 L54.7,316.3 L55.4,316.3 L55.4,317.8 L56.2,317.8 L56.2,319.2 L56.9,319.2 L56.9,320.7 L57.6,320.7 L57.6,321.2 L58.4,321.2 L58.4,321.7 L59.1,321.7 L59.1,322.1 L59.8,322.1 L59.8,322.6 L60.6,322.6 L60.6,323.1 L61.3,323.1 L61.3,323.6 L62.0,323.6 L62.0,324.0 L62.8,324.0 L62.8,324.5 L63.5,324.5 L63.5,325.0 L64.2,325.0 L64.2,325.4 L64.9,325.4 L64.9,325.7 L65.7,325.7 L65.7,326.1 L66.4,326.1 L66.4,326.5 L67.1,326.5 L67.1,326.8 L67.8,326.8 L67.8,327.2 L68.6,327.2 L68.6,327.6 L69.3,327.6 L69.3,327.9 L70.0,327.9 L70.0,328.3 L70.8,328.3 L70.8,329.0 L71.5,329.0 L71.5,329.8 L72.3,329.8 L72.3,330.5 L73.0,330.5 L73.0,330.6 L73.7,330.6 L73.7,330.7 L74.5,330.7 L74.5,330.7 L75.2,330.7 L75.2,330.8 L75.9,330.8 L75.9,330.9 L76.6,330.9 L76.6,331.0 L77.4,331.0 L77.4,331.0 L78.1,331.0 L78.1,331.1 L78.8,331.1 L78.8,331.2 L79.5,331.2 L79.5,331.3 L80.3,331.3 L80.3,331.4 L81.0,331.4 L81.0,331.6 L81.7,331.6 L81.7,331.7 L82.5,331.7 L82.5,331.8 L83.2,331.8 L83.2,331.9 L83.9,331.9 L83.9,332.1 L84.7,332.1 L84.7,332.2 L85.4,332.2 L85.4,332.3 L86.1,332.3 L86.1,332.4 L86.9,332.4 L86.9,332.6 L87.6,332.6 L87.6,332.7 L88.3,332.7 L88.3,332.9 L89.0,332.9 L89.0,333.1 L89.8,333.1 L89.8,333.2 L90.5,333.2 L90.5,333.4 L91.2,333.4 L91.2,333.6 L91.9,333.6 L91.9,333.8 L92.7,333.8 L92.7,334.0 L93.4,334.0 L93.4,334.2 L94.1,334.2 L94.1,334.3 L94.8,334.3 L94.8,334.5 L95.6,334.5 L95.6,334.7 L96.3,334.7 L96.3,334.9 L97.0,334.9 L97.0,335.2 L97.8,335.2 L97.8,335.5 L98.5,335.5 L98.5,335.8 L99.2,335.8 L99.2,336.1 L100.0,336.1 L100.0,336.5 L100.7,336.5 L100.7,336.8 L101.4,336.8 L101.4,337.1 L102.2,337.1 L102.2,337.4 L102.9,337.4 L102.9,337.7 L103.7,337.7 L103.7,337.9 L104.6,337.9 L104.6,338.1 L105.4,338.1 L105.4,338.4 L106.2,338.4 L106.2,338.6 L107.0,338.6 L107.0,338.6 L107.7,338.6 L107.7,338.6 L108.5,338.6 L108.5,338.6 L109.2,338.6 L109.2,338.6 L110.0,338.6 L110.0,338.6 L110.7,338.6 L110.7,338.6 L111.5,338.6 L111.5,338.6 L112.2,338.6 L112.2,338.6 L113.0,338.6 L113.0,338.6 L113.7,338.6 L113.7,338.6 L114.5,338.6 L114.5,338.6 L115.2,338.6 L115.2,338.6 L116.0,338.6 L116.0,338.6" fill="none" stroke="#4040f0" stroke-width="0.9" stroke-linejoin="round" />
<text x="163.2" y="240.8" font-size="10.5" text-anchor="start" font-weight="bold" font-style="normal" fill="#000"  stroke="#000" stroke-width="0.13">f</text>
<text x="240.4" y="247.2" font-size="8.0" text-anchor="middle" font-weight="normal" font-style="normal" fill="#1a1a1a"  stroke="#1a1a1a" stroke-width="0.13">TCGA_GBM LGG</text>
<line x1="195.4" y1="254.0" x2="195.4" y2="339.8" stroke="#4a4a4a" stroke-width="0.95"/>
<line x1="192.2" y1="254.0" x2="195.4" y2="254.0" stroke="#4a4a4a" stroke-width="0.95"/>
<text x="188.6" y="256.2" font-size="7" text-anchor="end" font-weight="normal" font-style="normal" fill="#1a1a1a"  stroke="#1a1a1a" stroke-width="0.13">100</text>
<line x1="192.2" y1="271.2" x2="195.4" y2="271.2" stroke="#4a4a4a" stroke-width="0.95"/>
<text x="188.6" y="273.4" font-size="7" text-anchor="end" font-weight="normal" font-style="normal" fill="#1a1a1a"  stroke="#1a1a1a" stroke-width="0.13">80</text>
<line x1="192.2" y1="288.2" x2="195.4" y2="288.2" stroke="#4a4a4a" stroke-width="0.95"/>
<text x="188.6" y="290.4" font-size="7" text-anchor="end" font-weight="normal" font-style="normal" fill="#1a1a1a"  stroke="#1a1a1a" stroke-width="0.13">60</text>
<line x1="192.2" y1="305.3" x2="195.4" y2="305.3" stroke="#4a4a4a" stroke-width="0.95"/>
<text x="188.6" y="307.5" font-size="7" text-anchor="end" font-weight="normal" font-style="normal" fill="#1a1a1a"  stroke="#1a1a1a" stroke-width="0.13">40</text>
<line x1="192.2" y1="322.4" x2="195.4" y2="322.4" stroke="#4a4a4a" stroke-width="0.95"/>
<text x="188.6" y="324.6" font-size="7" text-anchor="end" font-weight="normal" font-style="normal" fill="#1a1a1a"  stroke="#1a1a1a" stroke-width="0.13">20</text>
<line x1="192.2" y1="339.4" x2="195.4" y2="339.4" stroke="#4a4a4a" stroke-width="0.95"/>
<text x="188.6" y="341.6" font-size="7" text-anchor="end" font-weight="normal" font-style="normal" fill="#1a1a1a"  stroke="#1a1a1a" stroke-width="0.13">0</text>
<line x1="195.1" y1="341.1" x2="297.1" y2="341.1" stroke="#4a4a4a" stroke-width="0.9"/>
<line x1="195.5" y1="341.1" x2="195.5" y2="343.9" stroke="#4a4a4a" stroke-width="0.9"/>
<text x="195.5" y="354.3" font-size="7" text-anchor="middle" font-weight="normal" font-style="normal" fill="#1a1a1a"  stroke="#1a1a1a" stroke-width="0.13">0</text>
<line x1="220.8" y1="341.1" x2="220.8" y2="343.9" stroke="#4a4a4a" stroke-width="0.9"/>
<text x="220.8" y="354.3" font-size="7" text-anchor="middle" font-weight="normal" font-style="normal" fill="#1a1a1a"  stroke="#1a1a1a" stroke-width="0.13">2000</text>
<line x1="246.2" y1="341.1" x2="246.2" y2="343.9" stroke="#4a4a4a" stroke-width="0.9"/>
<text x="246.2" y="354.3" font-size="7" text-anchor="middle" font-weight="normal" font-style="normal" fill="#1a1a1a"  stroke="#1a1a1a" stroke-width="0.13">4000</text>
<line x1="271.5" y1="341.1" x2="271.5" y2="343.9" stroke="#4a4a4a" stroke-width="0.9"/>
<text x="271.5" y="354.3" font-size="7" text-anchor="middle" font-weight="normal" font-style="normal" fill="#1a1a1a"  stroke="#1a1a1a" stroke-width="0.13">6000</text>
<line x1="296.7" y1="341.1" x2="296.7" y2="343.9" stroke="#4a4a4a" stroke-width="0.9"/>
<text x="296.7" y="354.3" font-size="7" text-anchor="middle" font-weight="normal" font-style="normal" fill="#1a1a1a"  stroke="#1a1a1a" stroke-width="0.13">8000</text>
<text x="246.3" y="361.2" font-size="7.2" text-anchor="middle" font-weight="normal" font-style="normal" fill="#1a1a1a"  stroke="#1a1a1a" stroke-width="0.13">Survival time (days)</text>
<text x="0" y="0" font-size="7.1" text-anchor="middle" fill="#1a1a1a" font-style="normal" transform="translate(177.3,297.0) rotate(-90)" stroke="#1a1a1a" stroke-width="0.13">Probability of survival</text>
<line x1="243.8" y1="262.0" x2="255.0" y2="262.0" stroke="#4040f0" stroke-width="0.9"/>
<text x="263.0" y="264.4" font-size="7" fill="#1a1a1a" stroke="#1a1a1a" stroke-width="0.13"><tspan font-style="italic">ICAM1</tspan> low</text>
<line x1="243.8" y1="276.4" x2="255.0" y2="276.4" stroke="#f03a3a" stroke-width="0.9"/>
<text x="263.0" y="278.8" font-size="7" fill="#1a1a1a" stroke="#1a1a1a" stroke-width="0.13"><tspan font-style="italic">ICAM1</tspan> high</text>
<text x="243" y="300.6" font-size="7" fill="#1a1a1a" stroke="#1a1a1a" stroke-width="0.13"><tspan font-style="italic">P</tspan>&lt; 0.0001</text>
<path d="M195.6,253.6 L196.4,253.6 L196.4,259.1 L197.3,259.1 L197.3,264.5 L198.2,264.5 L198.2,269.9 L199.0,269.9 L199.0,275.4 L199.8,275.4 L199.8,278.2 L200.7,278.2 L200.7,281.0 L201.5,281.0 L201.5,283.8 L202.4,283.8 L202.4,286.6 L203.2,286.6 L203.2,289.4 L203.9,289.4 L203.9,290.6 L204.6,290.6 L204.6,291.8 L205.3,291.8 L205.3,293.1 L206.0,293.1 L206.0,294.3 L206.7,294.3 L206.7,295.5 L207.4,295.5 L207.4,296.8 L208.1,296.8 L208.1,298.0 L208.8,298.0 L208.8,299.2 L209.5,299.2 L209.5,300.3 L210.2,300.3 L210.2,301.5 L210.9,301.5 L210.9,302.6 L211.7,302.6 L211.7,303.7 L212.4,303.7 L212.4,304.9 L213.1,304.9 L213.1,306.0 L213.9,306.0 L213.9,306.4 L214.7,306.4 L214.7,306.8 L215.6,306.8 L215.6,307.2 L216.4,307.2 L216.4,307.6 L217.2,307.6 L217.2,308.0 L217.9,308.0 L217.9,309.9 L218.6,309.9 L218.6,311.7 L219.3,311.7 L219.3,313.5 L220.0,313.5 L220.0,315.4 L220.8,315.4 L220.8,315.6 L221.6,315.6 L221.6,315.9 L222.4,315.9 L222.4,316.1 L223.2,316.1 L223.2,316.3 L224.0,316.3 L224.0,316.5 L224.8,316.5 L224.8,316.8 L225.6,316.8 L225.6,317.0 L226.4,317.0 L226.4,317.6 L227.1,317.6 L227.1,318.2 L227.9,318.2 L227.9,318.8 L228.6,318.8 L228.6,319.4 L229.4,319.4 L229.4,320.0 L230.1,320.0 L230.1,320.2 L230.9,320.2 L230.9,320.5 L231.6,320.5 L231.6,320.7 L232.4,320.7 L232.4,320.9 L233.1,320.9 L233.1,321.2 L233.8,321.2 L233.8,321.4 L234.6,321.4 L234.6,321.7 L235.3,321.7 L235.3,321.9 L235.3,321.9 L235.3,322.8 L236.0,322.8 L236.0,322.8 L236.7,322.8 L236.7,322.8 L237.4,322.8 L237.4,322.8 L238.2,322.8 L238.2,322.8 L238.9,322.8 L238.9,322.8 L239.6,322.8 L239.6,322.8 L240.3,322.8 L240.3,322.8 L241.0,322.8 L241.0,322.8 L241.7,322.8 L241.7,322.8 L242.5,322.8 L242.5,322.8 L243.2,322.8 L243.2,322.8 L243.9,322.8 L243.9,322.8 L244.6,322.8 L244.6,322.8 L245.4,322.8 L245.4,326.1 L246.2,326.1 L246.2,329.4 L246.9,329.4 L246.9,329.4 L247.6,329.4 L247.6,329.4 L248.3,329.4 L248.3,329.4 L249.0,329.4 L249.0,329.4 L249.7,329.4 L249.7,329.4 L250.4,329.4 L250.4,329.4 L251.1,329.4 L251.1,329.4 L251.8,329.4 L251.8,329.4 L252.5,329.4 L252.5,329.4 L253.2,329.4 L253.2,329.4 L253.9,329.4 L253.9,329.4 L254.6,329.4 L254.6,329.4 L255.3,329.4 L255.3,329.4 L256.0,329.4 L256.0,329.4 L256.7,329.4 L256.7,329.4 L257.4,329.4 L257.4,329.4 L258.1,329.4 L258.1,329.4 L258.8,329.4 L258.8,329.4 L259.5,329.4 L259.5,329.4 L260.2,329.4 L260.2,329.4 L260.9,329.4 L260.9,329.4 L261.7,329.4 L261.7,329.4 L262.4,329.4 L262.4,329.4 L263.1,329.4 L263.1,329.4 L263.8,329.4 L263.8,329.4 L264.5,329.4 L264.5,329.4 L265.2,329.4 L265.2,329.4 L265.9,329.4 L265.9,329.4 L266.6,329.4 L266.6,329.4 L267.3,329.4 L267.3,329.4 L268.0,329.4 L268.0,329.4 L268.7,329.4 L268.7,329.4 L269.4,329.4 L269.4,329.4 L270.1,329.4 L270.1,329.4 L270.8,329.4 L270.8,329.4 L271.5,329.4 L271.5,329.4 L272.2,329.4 L272.2,329.4 L272.9,329.4 L272.9,329.4 L273.6,329.4 L273.6,329.4 L274.3,329.4 L274.3,329.4 L275.0,329.4 L275.0,329.4 L275.7,329.4 L275.7,329.4" fill="none" stroke="#f03a3a" stroke-width="0.9" stroke-linejoin="round" />
<path d="M195.6,253.6 L196.4,253.6 L196.4,254.2 L197.3,254.2 L197.3,254.7 L198.2,254.7 L198.2,255.2 L199.0,255.2 L199.0,255.8 L200.0,255.8 L200.0,257.4 L201.0,257.4 L201.0,259.0 L201.7,259.0 L201.7,260.6 L202.4,260.6 L202.4,262.2 L203.2,262.2 L203.2,263.8 L203.9,263.8 L203.9,265.4 L204.6,265.4 L204.6,267.0 L205.3,267.0 L205.3,267.5 L206.0,267.5 L206.0,267.9 L206.7,267.9 L206.7,268.4 L207.4,268.4 L207.4,268.9 L208.1,268.9 L208.1,269.3 L208.8,269.3 L208.8,269.8 L209.7,269.8 L209.7,271.2 L210.5,271.2 L210.5,272.6 L211.3,272.6 L211.3,274.0 L212.2,274.0 L212.2,275.4 L212.9,275.4 L212.9,276.8 L213.6,276.8 L213.6,278.2 L214.4,278.2 L214.4,279.6 L215.1,279.6 L215.1,281.0 L215.8,281.0 L215.8,282.4 L216.8,282.4 L216.8,283.7 L217.7,283.7 L217.7,285.0 L218.4,285.0 L218.4,285.6 L219.2,285.6 L219.2,286.2 L219.9,286.2 L219.9,286.8 L220.7,286.8 L220.7,287.4 L221.4,287.4 L221.4,288.0 L222.2,288.0 L222.2,288.3 L222.9,288.3 L222.9,288.6 L223.7,288.6 L223.7,288.9 L224.4,288.9 L224.4,289.1 L225.2,289.1 L225.2,289.4 L225.9,289.4 L225.9,289.7 L225.9,289.7 L225.9,296.2 L226.6,296.2 L226.6,296.2 L227.4,296.2 L227.4,296.2 L228.1,296.2 L228.1,296.2 L228.9,296.2 L228.9,296.2 L229.6,296.2 L229.6,296.2 L230.3,296.2 L230.3,296.2 L231.1,296.2 L231.1,296.2 L231.8,296.2 L231.8,296.2 L231.8,296.2 L231.8,304.9 L232.5,304.9 L232.5,304.9 L233.2,304.9 L233.2,304.9 L234.0,304.9 L234.0,304.9 L234.7,304.9 L234.7,304.9 L235.4,304.9 L235.4,304.9 L236.1,304.9 L236.1,304.9 L236.9,304.9 L236.9,304.9 L237.6,304.9 L237.6,304.9 L238.3,304.9 L238.3,304.9 L238.3,304.9 L238.3,310.2 L239.4,310.2 L239.4,313.1 L240.4,313.1 L240.4,316.0 L241.1,316.0 L241.1,316.0 L241.8,316.0 L241.8,316.0 L242.6,316.0 L242.6,316.0 L243.3,316.0 L243.3,316.0 L244.0,316.0 L244.0,316.0 L244.8,316.0 L244.8,316.0 L245.5,316.0 L245.5,316.0 L246.2,316.0 L246.2,316.0 L246.2,316.0 L246.2,322.4 L246.9,322.4 L246.9,322.4 L247.6,322.4 L247.6,322.4 L248.3,322.4 L248.3,322.4 L249.0,322.4 L249.0,322.4 L249.7,322.4 L249.7,322.4 L250.4,322.4 L250.4,322.4 L251.1,322.4 L251.1,322.4 L251.8,322.4 L251.8,322.4 L252.5,322.4 L252.5,322.4 L253.2,322.4 L253.2,322.4 L253.9,322.4 L253.9,322.4 L254.6,322.4 L254.6,322.4 L255.3,322.4 L255.3,322.4 L256.1,322.4 L256.1,322.4 L256.8,322.4 L256.8,322.4 L257.5,322.4 L257.5,322.4 L258.2,322.4 L258.2,322.4 L258.9,322.4 L258.9,322.4 L259.6,322.4 L259.6,322.4 L260.3,322.4 L260.3,322.4 L261.0,322.4 L261.0,322.4 L261.7,322.4 L261.7,322.4 L262.4,322.4 L262.4,322.4 L263.1,322.4 L263.1,322.4 L263.8,322.4 L263.8,322.4 L264.5,322.4 L264.5,322.4" fill="none" stroke="#4040f0" stroke-width="0.9" stroke-linejoin="round" />
<text x="319.8" y="240.6" font-size="10.5" text-anchor="start" font-weight="bold" font-style="normal" fill="#000"  stroke="#000" stroke-width="0.13">g</text>
<text x="399.8" y="247.0" font-size="8.6" text-anchor="middle" font-weight="normal" font-style="normal" fill="#1a1a1a"  stroke="#1a1a1a" stroke-width="0.13">TCGA_LGG</text>
<line x1="356.0" y1="256.6" x2="356.0" y2="341.7" stroke="#4a4a4a" stroke-width="0.95"/>
<line x1="353.0" y1="256.6" x2="356.0" y2="256.6" stroke="#4a4a4a" stroke-width="0.95"/>
<text x="351.4" y="258.8" font-size="7" text-anchor="end" font-weight="normal" font-style="normal" fill="#1a1a1a"  stroke="#1a1a1a" stroke-width="0.13">100</text>
<line x1="353.0" y1="273.6" x2="356.0" y2="273.6" stroke="#4a4a4a" stroke-width="0.95"/>
<text x="351.4" y="275.8" font-size="7" text-anchor="end" font-weight="normal" font-style="normal" fill="#1a1a1a"  stroke="#1a1a1a" stroke-width="0.13">80</text>
<line x1="353.0" y1="290.7" x2="356.0" y2="290.7" stroke="#4a4a4a" stroke-width="0.95"/>
<text x="351.4" y="292.9" font-size="7" text-anchor="end" font-weight="normal" font-style="normal" fill="#1a1a1a"  stroke="#1a1a1a" stroke-width="0.13">60</text>
<line x1="353.0" y1="307.6" x2="356.0" y2="307.6" stroke="#4a4a4a" stroke-width="0.95"/>
<text x="351.4" y="309.8" font-size="7" text-anchor="end" font-weight="normal" font-style="normal" fill="#1a1a1a"  stroke="#1a1a1a" stroke-width="0.13">40</text>
<line x1="353.0" y1="324.5" x2="356.0" y2="324.5" stroke="#4a4a4a" stroke-width="0.95"/>
<text x="351.4" y="326.7" font-size="7" text-anchor="end" font-weight="normal" font-style="normal" fill="#1a1a1a"  stroke="#1a1a1a" stroke-width="0.13">20</text>
<line x1="353.0" y1="341.3" x2="356.0" y2="341.3" stroke="#4a4a4a" stroke-width="0.95"/>
<text x="351.4" y="343.5" font-size="7" text-anchor="end" font-weight="normal" font-style="normal" fill="#1a1a1a"  stroke="#1a1a1a" stroke-width="0.13">0</text>
<line x1="355.7" y1="341.3" x2="456.7" y2="341.3" stroke="#4a4a4a" stroke-width="0.9"/>
<line x1="356.1" y1="341.3" x2="356.1" y2="344.1" stroke="#4a4a4a" stroke-width="0.9"/>
<text x="356.1" y="354.0" font-size="7" text-anchor="middle" font-weight="normal" font-style="normal" fill="#1a1a1a"  stroke="#1a1a1a" stroke-width="0.13">0</text>
<line x1="376.2" y1="341.3" x2="376.2" y2="344.1" stroke="#4a4a4a" stroke-width="0.9"/>
<text x="376.2" y="354.0" font-size="7" text-anchor="middle" font-weight="normal" font-style="normal" fill="#1a1a1a"  stroke="#1a1a1a" stroke-width="0.13">50</text>
<line x1="396.1" y1="341.3" x2="396.1" y2="344.1" stroke="#4a4a4a" stroke-width="0.9"/>
<text x="396.1" y="354.0" font-size="7" text-anchor="middle" font-weight="normal" font-style="normal" fill="#1a1a1a"  stroke="#1a1a1a" stroke-width="0.13">100</text>
<line x1="416.3" y1="341.3" x2="416.3" y2="344.1" stroke="#4a4a4a" stroke-width="0.9"/>
<text x="416.3" y="354.0" font-size="7" text-anchor="middle" font-weight="normal" font-style="normal" fill="#1a1a1a"  stroke="#1a1a1a" stroke-width="0.13">150</text>
<line x1="436.4" y1="341.3" x2="436.4" y2="344.1" stroke="#4a4a4a" stroke-width="0.9"/>
<text x="436.4" y="354.0" font-size="7" text-anchor="middle" font-weight="normal" font-style="normal" fill="#1a1a1a"  stroke="#1a1a1a" stroke-width="0.13">200</text>
<line x1="456.3" y1="341.3" x2="456.3" y2="344.1" stroke="#4a4a4a" stroke-width="0.9"/>
<text x="456.3" y="354.0" font-size="7" text-anchor="middle" font-weight="normal" font-style="normal" fill="#1a1a1a"  stroke="#1a1a1a" stroke-width="0.13">250</text>
<line x1="356.0" y1="252.4" x2="356.0" y2="256.2" stroke="#333" stroke-width="0.9"/>
<text x="406.6" y="363.8" font-size="7.1" text-anchor="middle" font-weight="normal" font-style="normal" fill="#1a1a1a"  stroke="#1a1a1a" stroke-width="0.13">Time (months)</text>
<text x="0" y="0" font-size="7.1" text-anchor="middle" fill="#1a1a1a" font-style="normal" transform="translate(334.6,297.8) rotate(-90)" stroke="#1a1a1a" stroke-width="0.13">Probability of Survival</text>
<line x1="398.4" y1="262.3" x2="409.6" y2="262.3" stroke="#4040f0" stroke-width="0.9"/>
<text x="417.5" y="264.7" font-size="7" fill="#1a1a1a" stroke="#1a1a1a" stroke-width="0.13"><tspan font-style="italic">ICAM1</tspan> low</text>
<line x1="398.4" y1="276.0" x2="409.6" y2="276.0" stroke="#f03a3a" stroke-width="0.9"/>
<text x="417.5" y="278.4" font-size="7" fill="#1a1a1a" stroke="#1a1a1a" stroke-width="0.13"><tspan font-style="italic">ICAM1</tspan> high</text>
<text x="408.3" y="300.6" font-size="7" fill="#1a1a1a" stroke="#1a1a1a" stroke-width="0.13"><tspan font-style="italic">P</tspan> = 0.0292</text>
<path d="M356.1,255.5 L356.8,255.5 L356.8,256.1 L357.5,256.1 L357.5,256.8 L358.2,256.8 L358.2,257.4 L359.0,257.4 L359.0,258.0 L359.7,258.0 L359.7,258.6 L360.4,258.6 L360.4,259.3 L361.1,259.3 L361.1,259.9 L361.9,259.9 L361.9,262.8 L362.7,262.8 L362.7,265.7 L363.5,265.7 L363.5,268.6 L364.3,268.6 L364.3,270.7 L365.2,270.7 L365.2,272.8 L366.0,272.8 L366.0,274.9 L366.8,274.9 L366.8,275.4 L367.5,275.4 L367.5,275.9 L368.3,275.9 L368.3,276.3 L369.0,276.3 L369.0,276.8 L369.8,276.8 L369.8,277.3 L370.5,277.3 L370.5,278.8 L371.3,278.8 L371.3,280.3 L372.0,280.3 L372.0,281.8 L372.8,281.8 L372.8,283.3 L373.5,283.3 L373.5,284.8 L374.4,284.8 L374.4,287.3 L375.2,287.3 L375.2,289.8 L376.0,289.8 L376.0,290.1 L376.9,290.1 L376.9,290.4 L377.7,290.4 L377.7,290.7 L378.5,290.7 L378.5,291.0 L379.3,291.0 L379.3,294.3 L380.2,294.3 L380.2,297.7 L381.0,297.7 L381.0,301.0 L381.8,301.0 L381.8,302.7 L382.6,302.7 L382.6,304.3 L383.4,304.3 L383.4,306.0 L384.2,306.0 L384.2,307.6 L385.0,307.6 L385.0,309.1 L385.9,309.1 L385.9,310.6 L386.7,310.6 L386.7,312.2 L387.4,312.2 L387.4,312.2 L388.1,312.2 L388.1,312.2 L388.9,312.2 L388.9,312.2 L389.6,312.2 L389.6,312.2 L390.3,312.2 L390.3,312.2 L391.0,312.2 L391.0,312.2 L391.7,312.2 L391.7,312.2 L392.5,312.2 L392.5,312.2 L393.2,312.2 L393.2,312.2 L393.9,312.2 L393.9,312.2 L394.6,312.2 L394.6,312.2 L395.3,312.2 L395.3,312.2 L396.1,312.2 L396.1,312.2 L396.8,312.2 L396.8,312.2 L397.5,312.2 L397.5,312.2 L398.2,312.2 L398.2,312.2 L398.9,312.2 L398.9,312.2 L399.7,312.2 L399.7,312.2 L400.4,312.2 L400.4,312.2 L401.1,312.2 L401.1,312.2 L401.8,312.2 L401.8,312.2 L402.5,312.2 L402.5,312.2 L403.3,312.2 L403.3,312.2 L404.0,312.2 L404.0,312.2 L404.7,312.2 L404.7,312.2 L405.4,312.2 L405.4,312.2 L406.1,312.2 L406.1,312.2 L406.9,312.2 L406.9,312.2 L407.6,312.2 L407.6,312.2 L408.3,312.2 L408.3,312.2 L408.3,312.2 L408.3,318.4 L409.1,318.4 L409.1,318.6 L409.8,318.6 L409.8,318.9 L410.6,318.9 L410.6,319.1 L411.3,319.1 L411.3,319.4 L412.1,319.4 L412.1,319.6 L413.1,319.6 L413.1,325.2 L414.1,325.2 L414.1,330.8 L414.8,330.8 L414.8,330.8 L415.5,330.8 L415.5,330.7 L416.3,330.7 L416.3,330.7 L417.0,330.7 L417.0,330.7 L417.7,330.7 L417.7,330.6 L418.4,330.6 L418.4,330.6 L419.1,330.6 L419.1,330.6 L419.8,330.6 L419.8,330.5 L420.6,330.5 L420.6,330.5 L421.3,330.5 L421.3,330.5 L422.0,330.5 L422.0,330.5 L422.7,330.5 L422.7,330.4 L423.4,330.4 L423.4,330.4 L424.2,330.4 L424.2,330.4 L424.9,330.4 L424.9,330.3 L425.6,330.3 L425.6,330.3 L426.3,330.3 L426.3,330.3 L427.0,330.3 L427.0,330.2 L427.8,330.2 L427.8,330.2 L428.5,330.2 L428.5,330.2 L429.2,330.2 L429.2,330.1 L429.9,330.1 L429.9,330.1 L430.6,330.1 L430.6,330.1 L431.3,330.1 L431.3,330.0 L432.1,330.0 L432.1,330.0 L432.8,330.0 L432.8,330.0 L433.5,330.0 L433.5,329.9 L434.2,329.9 L434.2,329.9 L434.9,329.9 L434.9,329.9 L435.7,329.9 L435.7,329.9 L436.4,329.9 L436.4,329.8 L437.1,329.8 L437.1,329.8 L437.8,329.8 L437.8,329.8 L438.5,329.8 L438.5,329.7 L439.2,329.7 L439.2,329.7 L440.0,329.7 L440.0,329.7 L440.7,329.7 L440.7,329.6 L441.4,329.6 L441.4,329.6" fill="none" stroke="#f03a3a" stroke-width="0.9" stroke-linejoin="round" />
<path d="M356.1,255.5 L356.8,255.5 L356.8,255.8 L357.6,255.8 L357.6,256.1 L358.3,256.1 L358.3,256.4 L359.1,256.4 L359.1,256.7 L359.8,256.7 L359.8,257.0 L360.5,257.0 L360.5,257.5 L361.3,257.5 L361.3,258.0 L362.0,258.0 L362.0,258.4 L362.8,258.4 L362.8,258.9 L363.5,258.9 L363.5,259.4 L364.3,259.4 L364.3,260.1 L365.0,260.1 L365.0,260.8 L365.8,260.8 L365.8,261.5 L366.5,261.5 L366.5,262.2 L367.3,262.2 L367.3,262.9 L368.1,262.9 L368.1,264.8 L369.0,264.8 L369.0,266.7 L369.8,266.7 L369.8,268.6 L370.5,268.6 L370.5,268.9 L371.3,268.9 L371.3,269.1 L372.0,269.1 L372.0,269.4 L372.8,269.4 L372.8,269.6 L373.5,269.6 L373.5,269.9 L374.3,269.9 L374.3,271.1 L375.2,271.1 L375.2,272.4 L376.0,272.4 L376.0,273.6 L376.7,273.6 L376.7,274.1 L377.5,274.1 L377.5,274.6 L378.2,274.6 L378.2,275.1 L379.0,275.1 L379.0,275.6 L379.7,275.6 L379.7,276.1 L380.4,276.1 L380.4,276.8 L381.2,276.8 L381.2,277.6 L381.9,277.6 L381.9,278.3 L382.7,278.3 L382.7,279.1 L383.4,279.1 L383.4,279.8 L384.2,279.8 L384.2,279.9 L384.9,279.9 L384.9,280.0 L385.7,280.0 L385.7,280.1 L386.4,280.1 L386.4,280.2 L387.2,280.2 L387.2,280.3 L387.2,280.3 L387.2,286.0 L388.0,286.0 L388.0,286.0 L388.8,286.0 L388.8,286.0 L389.5,286.0 L389.5,286.0 L390.3,286.0 L390.3,286.0 L391.1,286.0 L391.1,286.0 L391.8,286.0 L391.8,286.0 L392.6,286.0 L392.6,286.0 L393.4,286.0 L393.4,286.0 L394.6,286.0 L394.6,292.3 L394.6,292.3 L394.6,301.5 L395.4,301.5 L395.4,301.5 L396.1,301.5 L396.1,301.5 L396.9,301.5 L396.9,301.5 L397.6,301.5 L397.6,301.5 L398.4,301.5 L398.4,301.5 L399.1,301.5 L399.1,301.5 L399.9,301.5 L399.9,301.5 L400.6,301.5 L400.6,301.5 L401.4,301.5 L401.4,301.5 L402.1,301.5 L402.1,301.5 L402.9,301.5 L402.9,320.9 L403.6,320.9 L403.6,320.9 L404.4,320.9 L404.4,320.9 L405.1,320.9 L405.1,320.9 L405.8,320.9 L405.8,320.9 L406.6,320.9 L406.6,320.9 L407.3,320.9 L407.3,320.9 L408.0,320.9 L408.0,320.9 L408.8,320.9 L408.8,320.9 L409.5,320.9 L409.5,320.9 L410.2,320.9 L410.2,320.9 L410.9,320.9 L410.9,320.9 L411.7,320.9 L411.7,320.9 L412.4,320.9 L412.4,320.9 L413.1,320.9 L413.1,320.9 L413.9,320.9 L413.9,320.9 L414.6,320.9 L414.6,320.9 L414.6,320.9 L414.6,330.8 L415.3,330.8 L415.3,330.8 L416.1,330.8 L416.1,330.8 L416.8,330.8 L416.8,330.8 L417.5,330.8 L417.5,330.8 L418.3,330.8 L418.3,330.8 L419.0,330.8 L419.0,330.8" fill="none" stroke="#4040f0" stroke-width="0.9" stroke-linejoin="round" />
<text x="465.0" y="241.8" font-size="10.5" text-anchor="start" font-weight="bold" font-style="normal" fill="#000"  stroke="#000" stroke-width="0.13">h</text>
<text x="552.3" y="247.0" font-size="8.5" text-anchor="middle" font-weight="normal" font-style="normal" fill="#1a1a1a"  stroke="#1a1a1a" stroke-width="0.13">TCGA_GBM</text>
<line x1="506.6" y1="252.2" x2="506.6" y2="341.7" stroke="#4a4a4a" stroke-width="0.95"/>
<line x1="503.8" y1="252.2" x2="506.6" y2="252.2" stroke="#4a4a4a" stroke-width="0.95"/>
<text x="502.3" y="254.4" font-size="7" text-anchor="end" font-weight="normal" font-style="normal" fill="#1a1a1a"  stroke="#1a1a1a" stroke-width="0.13">15</text>
<line x1="503.8" y1="281.6" x2="506.6" y2="281.6" stroke="#4a4a4a" stroke-width="0.95"/>
<text x="502.3" y="283.8" font-size="7" text-anchor="end" font-weight="normal" font-style="normal" fill="#1a1a1a"  stroke="#1a1a1a" stroke-width="0.13">10</text>
<line x1="503.8" y1="311.7" x2="506.6" y2="311.7" stroke="#4a4a4a" stroke-width="0.95"/>
<text x="502.3" y="313.9" font-size="7" text-anchor="end" font-weight="normal" font-style="normal" fill="#1a1a1a"  stroke="#1a1a1a" stroke-width="0.13">5</text>
<line x1="503.8" y1="341.3" x2="506.6" y2="341.3" stroke="#4a4a4a" stroke-width="0.95"/>
<text x="502.3" y="343.5" font-size="7" text-anchor="end" font-weight="normal" font-style="normal" fill="#1a1a1a"  stroke="#1a1a1a" stroke-width="0.13">0</text>
<line x1="506.2" y1="341.3" x2="608.1" y2="341.3" stroke="#4a4a4a" stroke-width="0.9"/>
<line x1="506.6" y1="341.3" x2="506.6" y2="344.1" stroke="#4a4a4a" stroke-width="0.9"/>
<text x="506.6" y="352.6" font-size="7" text-anchor="middle" font-weight="normal" font-style="normal" fill="#1a1a1a"  stroke="#1a1a1a" stroke-width="0.13">-2</text>
<line x1="539.7" y1="341.3" x2="539.7" y2="344.1" stroke="#4a4a4a" stroke-width="0.9"/>
<text x="539.7" y="352.6" font-size="7" text-anchor="middle" font-weight="normal" font-style="normal" fill="#1a1a1a"  stroke="#1a1a1a" stroke-width="0.13">0</text>
<line x1="573.6" y1="341.3" x2="573.6" y2="344.1" stroke="#4a4a4a" stroke-width="0.9"/>
<text x="573.6" y="352.6" font-size="7" text-anchor="middle" font-weight="normal" font-style="normal" fill="#1a1a1a"  stroke="#1a1a1a" stroke-width="0.13">2</text>
<line x1="607.7" y1="341.3" x2="607.7" y2="344.1" stroke="#4a4a4a" stroke-width="0.9"/>
<text x="607.7" y="352.6" font-size="7" text-anchor="middle" font-weight="normal" font-style="normal" fill="#1a1a1a"  stroke="#1a1a1a" stroke-width="0.13">4</text>
<text x="556.3" y="364.2" font-size="7.1" text-anchor="middle" font-weight="normal" font-style="normal" fill="#1a1a1a"  stroke="#1a1a1a" stroke-width="0.13">ImmuneScore (Z-score)</text>
<text x="0" y="0" font-size="6.95" text-anchor="middle" fill="#1a1a1a" transform="translate(490.2,297.2) rotate(-90)" stroke="#1a1a1a" stroke-width="0.13"><tspan font-style="italic">ICAM1</tspan> mRNA expression</text>
<g fill="#f51a10"><circle cx="548.0" cy="290.2" r="1.1"/><circle cx="542.1" cy="276.2" r="1.1"/><circle cx="543.6" cy="291.4" r="1.1"/><circle cx="531.3" cy="279.8" r="1.1"/><circle cx="536.6" cy="289.3" r="1.1"/><circle cx="552.7" cy="286.4" r="1.1"/><circle cx="523.4" cy="284.8" r="1.1"/><circle cx="540.9" cy="288.6" r="1.1"/><circle cx="547.8" cy="276.7" r="1.1"/><circle cx="557.3" cy="280.6" r="1.1"/><circle cx="547.7" cy="280.3" r="1.1"/><circle cx="517.7" cy="279.7" r="1.1"/><circle cx="530.4" cy="290.2" r="1.1"/><circle cx="527.9" cy="293.2" r="1.1"/><circle cx="557.5" cy="281.1" r="1.1"/><circle cx="531.7" cy="297.5" r="1.1"/><circle cx="543.2" cy="284.5" r="1.1"/><circle cx="524.7" cy="288.7" r="1.1"/><circle cx="512.4" cy="286.9" r="1.1"/><circle cx="521.8" cy="285.8" r="1.1"/><circle cx="542.1" cy="297.0" r="1.1"/><circle cx="523.4" cy="292.3" r="1.1"/><circle cx="552.8" cy="278.6" r="1.1"/><circle cx="550.3" cy="272.8" r="1.1"/><circle cx="536.2" cy="288.7" r="1.1"/><circle cx="511.7" cy="297.0" r="1.1"/><circle cx="549.3" cy="287.9" r="1.1"/><circle cx="527.2" cy="281.9" r="1.1"/><circle cx="508.3" cy="283.3" r="1.1"/><circle cx="560.5" cy="291.2" r="1.1"/><circle cx="547.9" cy="283.3" r="1.1"/><circle cx="554.6" cy="283.8" r="1.1"/><circle cx="538.8" cy="276.8" r="1.1"/><circle cx="531.5" cy="284.2" r="1.1"/><circle cx="550.3" cy="283.4" r="1.1"/><circle cx="554.1" cy="278.8" r="1.1"/><circle cx="553.4" cy="292.2" r="1.1"/><circle cx="524.7" cy="286.4" r="1.1"/><circle cx="558.6" cy="272.4" r="1.1"/><circle cx="540.8" cy="289.1" r="1.1"/><circle cx="523.8" cy="299.9" r="1.1"/><circle cx="532.9" cy="282.9" r="1.1"/><circle cx="539.5" cy="293.7" r="1.1"/><circle cx="539.1" cy="284.8" r="1.1"/><circle cx="529.1" cy="278.5" r="1.1"/><circle cx="547.4" cy="276.8" r="1.1"/><circle cx="542.2" cy="290.2" r="1.1"/><circle cx="557.3" cy="274.7" r="1.1"/><circle cx="531.6" cy="294.5" r="1.1"/><circle cx="553.2" cy="285.4" r="1.1"/><circle cx="522.8" cy="289.0" r="1.1"/><circle cx="549.1" cy="287.4" r="1.1"/><circle cx="541.2" cy="278.7" r="1.1"/><circle cx="552.1" cy="291.6" r="1.1"/><circle cx="551.6" cy="271.9" r="1.1"/><circle cx="554.8" cy="282.3" r="1.1"/><circle cx="546.3" cy="292.9" r="1.1"/><circle cx="531.6" cy="289.7" r="1.1"/><circle cx="572.5" cy="278.0" r="1.1"/><circle cx="525.7" cy="277.8" r="1.1"/><circle cx="559.5" cy="290.5" r="1.1"/><circle cx="537.6" cy="295.4" r="1.1"/><circle cx="556.6" cy="294.9" r="1.1"/><circle cx="569.1" cy="285.0" r="1.1"/><circle cx="524.6" cy="275.5" r="1.1"/><circle cx="548.9" cy="280.9" r="1.1"/><circle cx="553.8" cy="287.8" r="1.1"/><circle cx="554.1" cy="283.6" r="1.1"/><circle cx="548.6" cy="281.7" r="1.1"/><circle cx="561.9" cy="287.9" r="1.1"/><circle cx="519.3" cy="285.4" r="1.1"/><circle cx="576.9" cy="273.8" r="1.1"/><circle cx="538.1" cy="281.3" r="1.1"/><circle cx="522.1" cy="288.1" r="1.1"/><circle cx="514.9" cy="289.5" r="1.1"/><circle cx="551.7" cy="272.3" r="1.1"/><circle cx="532.9" cy="280.8" r="1.1"/><circle cx="561.2" cy="286.6" r="1.1"/><circle cx="536.4" cy="296.7" r="1.1"/><circle cx="527.2" cy="285.0" r="1.1"/><circle cx="509.5" cy="293.1" r="1.1"/><circle cx="551.7" cy="273.8" r="1.1"/><circle cx="508.3" cy="289.3" r="1.1"/><circle cx="531.2" cy="300.4" r="1.1"/><circle cx="525.1" cy="284.5" r="1.1"/><circle cx="540.3" cy="280.6" r="1.1"/><circle cx="536.0" cy="281.8" r="1.1"/><circle cx="525.7" cy="293.7" r="1.1"/><circle cx="538.2" cy="295.7" r="1.1"/><circle cx="559.6" cy="282.2" r="1.1"/><circle cx="525.6" cy="293.1" r="1.1"/><circle cx="525.8" cy="287.1" r="1.1"/><circle cx="535.0" cy="280.8" r="1.1"/><circle cx="523.0" cy="288.9" r="1.1"/><circle cx="517.5" cy="292.4" r="1.1"/><circle cx="561.4" cy="281.1" r="1.1"/><circle cx="554.2" cy="282.2" r="1.1"/><circle cx="523.9" cy="293.5" r="1.1"/><circle cx="523.4" cy="286.3" r="1.1"/><circle cx="544.2" cy="266.5" r="1.1"/><circle cx="566.2" cy="274.3" r="1.1"/><circle cx="525.7" cy="287.2" r="1.1"/><circle cx="526.7" cy="273.6" r="1.1"/><circle cx="529.6" cy="280.1" r="1.1"/><circle cx="519.9" cy="284.5" r="1.1"/><circle cx="521.9" cy="291.5" r="1.1"/><circle cx="543.2" cy="283.4" r="1.1"/><circle cx="539.7" cy="285.3" r="1.1"/><circle cx="527.4" cy="288.2" r="1.1"/><circle cx="539.5" cy="290.6" r="1.1"/><circle cx="549.3" cy="281.9" r="1.1"/><circle cx="529.0" cy="279.4" r="1.1"/><circle cx="531.8" cy="298.0" r="1.1"/><circle cx="559.9" cy="282.9" r="1.1"/><circle cx="563.0" cy="277.4" r="1.1"/><circle cx="527.0" cy="280.9" r="1.1"/><circle cx="547.6" cy="277.7" r="1.1"/><circle cx="541.2" cy="275.3" r="1.1"/><circle cx="554.8" cy="283.7" r="1.1"/><circle cx="517.5" cy="289.9" r="1.1"/><circle cx="541.6" cy="290.4" r="1.1"/><circle cx="537.6" cy="276.4" r="1.1"/><circle cx="533.3" cy="279.5" r="1.1"/><circle cx="526.3" cy="293.6" r="1.1"/><circle cx="554.9" cy="282.7" r="1.1"/><circle cx="543.9" cy="277.9" r="1.1"/><circle cx="565.5" cy="286.9" r="1.1"/><circle cx="549.5" cy="281.5" r="1.1"/><circle cx="542.8" cy="273.5" r="1.1"/><circle cx="536.9" cy="289.1" r="1.1"/><circle cx="548.3" cy="295.3" r="1.1"/><circle cx="546.2" cy="288.9" r="1.1"/><circle cx="545.5" cy="288.2" r="1.1"/><circle cx="548.3" cy="284.6" r="1.1"/><circle cx="529.6" cy="283.8" r="1.1"/><circle cx="552.0" cy="292.0" r="1.1"/><circle cx="520.8" cy="290.5" r="1.1"/><circle cx="534.7" cy="278.0" r="1.1"/><circle cx="564.8" cy="276.8" r="1.1"/><circle cx="557.3" cy="283.2" r="1.1"/><circle cx="519.6" cy="287.4" r="1.1"/><circle cx="513.6" cy="280.7" r="1.1"/><circle cx="544.4" cy="277.0" r="1.1"/><circle cx="530.7" cy="296.5" r="1.1"/><circle cx="537.4" cy="282.5" r="1.1"/><circle cx="537.2" cy="288.5" r="1.1"/><circle cx="541.7" cy="285.7" r="1.1"/><circle cx="561.8" cy="288.1" r="1.1"/><circle cx="508.3" cy="292.2" r="1.1"/><circle cx="544.7" cy="293.1" r="1.1"/><circle cx="539.9" cy="282.3" r="1.1"/><circle cx="545.6" cy="281.9" r="1.1"/><circle cx="529.0" cy="295.9" r="1.1"/><circle cx="555.1" cy="283.8" r="1.1"/><circle cx="519.5" cy="279.9" r="1.1"/><circle cx="551.8" cy="299.3" r="1.1"/><circle cx="580.1" cy="275.5" r="1.1"/><circle cx="515.8" cy="284.3" r="1.1"/><circle cx="545.5" cy="276.2" r="1.1"/><circle cx="540.7" cy="294.7" r="1.1"/><circle cx="538.0" cy="287.9" r="1.1"/><circle cx="544.9" cy="285.0" r="1.1"/><circle cx="549.1" cy="290.3" r="1.1"/><circle cx="532.1" cy="289.7" r="1.1"/><circle cx="546.8" cy="293.7" r="1.1"/><circle cx="540.5" cy="270.5" r="1.1"/><circle cx="512.9" cy="284.4" r="1.1"/><circle cx="542.0" cy="278.5" r="1.1"/><circle cx="541.3" cy="283.1" r="1.1"/><circle cx="546.1" cy="280.8" r="1.1"/><circle cx="522.0" cy="289.5" r="1.1"/><circle cx="568.4" cy="270.3" r="1.1"/><circle cx="527.5" cy="293.2" r="1.1"/><circle cx="537.8" cy="279.0" r="1.1"/><circle cx="554.5" cy="285.4" r="1.1"/></g>
<line x1="506.6" y1="293.5" x2="584.0" y2="271.7" stroke="#111" stroke-width="1"/>
<text x="568.9" y="316.6" font-size="7.1" text-anchor="start" font-weight="normal" font-style="normal" fill="#1a1a1a"  stroke="#1a1a1a" stroke-width="0.13">R = 0.5556</text>
<text x="568.9" y="330.4" font-size="7" fill="#1a1a1a" stroke="#1a1a1a" stroke-width="0.13"><tspan font-style="italic">P</tspan> &lt; 0.0001</text>
<text x="6.1" y="391.6" font-size="10.5" text-anchor="start" font-weight="bold" font-style="normal" fill="#000"  stroke="#000" stroke-width="0.13">i</text>
<text x="0" y="0" font-size="8.9" text-anchor="middle" fill="#1a1a1a" transform="translate(98.90,396.60) scale(0.95,1)" stroke="#1a1a1a" stroke-width="0.13">GSCs</text>
<path d="M46.7,403.8 L46.7,399.8 L145.1,399.8 L145.1,403.8" fill="none" stroke="#333" stroke-width="0.7" stroke-linejoin="round" />
<text x="37.0" y="412.3" font-size="7" text-anchor="middle" font-weight="normal" font-style="normal" fill="#1a1a1a"  stroke="#1a1a1a" stroke-width="0.13">1</text>
<text x="53.9" y="412.3" font-size="7" text-anchor="middle" font-weight="normal" font-style="normal" fill="#1a1a1a"  stroke="#1a1a1a" stroke-width="0.13">2</text>
<text x="70.2" y="412.3" font-size="7" text-anchor="middle" font-weight="normal" font-style="normal" fill="#1a1a1a"  stroke="#1a1a1a" stroke-width="0.13">3</text>
<text x="87.2" y="412.3" font-size="7" text-anchor="middle" font-weight="normal" font-style="normal" fill="#1a1a1a"  stroke="#1a1a1a" stroke-width="0.13">4</text>
<text x="103.0" y="412.3" font-size="7" text-anchor="middle" font-weight="normal" font-style="normal" fill="#1a1a1a"  stroke="#1a1a1a" stroke-width="0.13">5</text>
<text x="118.9" y="412.3" font-size="7" text-anchor="middle" font-weight="normal" font-style="normal" fill="#1a1a1a"  stroke="#1a1a1a" stroke-width="0.13">6</text>
<text x="135.4" y="412.3" font-size="7" text-anchor="middle" font-weight="normal" font-style="normal" fill="#1a1a1a"  stroke="#1a1a1a" stroke-width="0.13">7</text>
<defs><filter id="bl" x="-20%" y="-50%" width="140%" height="200%"><feGaussianBlur stdDeviation="0.7"/></filter></defs>
<rect x="27.7" y="415.5" width="117.6" height="11.6" fill="#e3e3e3" stroke="#3a3a3a" stroke-width="0.9"/>
<rect x="27.7" y="430.4" width="117.6" height="11.3" fill="#e4e4e4" stroke="#3a3a3a" stroke-width="0.9"/>
<g filter="url(#bl)"><ellipse cx="54" cy="423.5" rx="7" ry="1.0" fill="#000" opacity="0.22"/><ellipse cx="69.2" cy="423.5" rx="7" ry="1.0" fill="#000" opacity="0.2"/><ellipse cx="84.5" cy="423.5" rx="6" ry="0.9" fill="#000" opacity="0.08"/><ellipse cx="103.2" cy="423.5" rx="8" ry="2.2" fill="#000" opacity="1.0"/><ellipse cx="118.7" cy="423.5" rx="8" ry="2.0" fill="#000" opacity="0.95"/><ellipse cx="134.4" cy="423.5" rx="7.2" ry="1.6" fill="#000" opacity="0.85"/><rect x="29.5" y="433.9" width="114" height="3.8" rx="1.5" fill="#000" opacity="0.92"/><rect x="45.0" y="433.8" width="1" height="4" fill="#777" opacity="0.6"/><rect x="61.5" y="433.8" width="1" height="4" fill="#777" opacity="0.6"/><rect x="78.2" y="433.8" width="1" height="4" fill="#777" opacity="0.6"/><rect x="94.5" y="433.8" width="1" height="4" fill="#777" opacity="0.6"/><rect x="110.5" y="433.8" width="1" height="4" fill="#777" opacity="0.6"/><rect x="126.6" y="433.8" width="1" height="4" fill="#777" opacity="0.6"/></g>
<text x="25.6" y="424.6" font-size="7.1" text-anchor="end" font-weight="normal" font-style="normal" fill="#1a1a1a"  stroke="#1a1a1a" stroke-width="0.13">ICAM1</text>
<text x="25.6" y="439.6" font-size="7.1" text-anchor="end" font-weight="normal" font-style="normal" fill="#1a1a1a"  stroke="#1a1a1a" stroke-width="0.13">GAPDH</text>
<text x="145.3" y="426.6" font-size="5.2" text-anchor="start" font-weight="normal" font-style="normal" fill="#1a1a1a"  fill-opacity="0.8">-100kDa</text>
<text x="145.3" y="441.2" font-size="5.2" text-anchor="start" font-weight="normal" font-style="normal" fill="#1a1a1a"  fill-opacity="0.8">-35kDa</text>
<text x="30.9" y="455.2" font-size="7.1" text-anchor="start" font-weight="normal" font-style="normal" fill="#1a1a1a"  stroke="#1a1a1a" stroke-width="0.13">1: HA1800, 2: 131, 3: X01,</text>
<text x="30.9" y="463.5" font-size="7.1" text-anchor="start" font-weight="normal" font-style="normal" fill="#1a1a1a"  stroke="#1a1a1a" stroke-width="0.13">4: GSC924, 5: 528,</text>
<text x="30.9" y="472.2" font-size="7.1" text-anchor="start" font-weight="normal" font-style="normal" fill="#1a1a1a"  stroke="#1a1a1a" stroke-width="0.13">6: 83, 7: GSC209</text>
<text x="164.3" y="392.5" font-size="10.5" text-anchor="start" font-weight="bold" font-style="normal" fill="#000"  stroke="#000" stroke-width="0.13">j</text>
<text x="0" y="0" font-size="9.0" text-anchor="middle" fill="#1a1a1a" transform="translate(211.80,397.00) scale(0.955,1)" stroke="#1a1a1a" stroke-width="0.13">HA1800</text>
<rect x="178.2" y="401.2" width="67.2" height="69.3" fill="#fff" stroke="#808080" stroke-width="0.55"/>
<line x1="178.2" y1="404.2" x2="179.5" y2="404.2" stroke="#666" stroke-width="0.4"/>
<line x1="178.2" y1="409.8" x2="179.5" y2="409.8" stroke="#666" stroke-width="0.4"/>
<line x1="178.2" y1="415.4" x2="179.5" y2="415.4" stroke="#666" stroke-width="0.4"/>
<line x1="178.2" y1="421.0" x2="179.5" y2="421.0" stroke="#666" stroke-width="0.4"/>
<line x1="178.2" y1="426.6" x2="179.5" y2="426.6" stroke="#666" stroke-width="0.4"/>
<line x1="178.2" y1="432.2" x2="179.5" y2="432.2" stroke="#666" stroke-width="0.4"/>
<line x1="178.2" y1="437.8" x2="179.5" y2="437.8" stroke="#666" stroke-width="0.4"/>
<line x1="178.2" y1="443.4" x2="179.5" y2="443.4" stroke="#666" stroke-width="0.4"/>
<line x1="178.2" y1="449.0" x2="179.5" y2="449.0" stroke="#666" stroke-width="0.4"/>
<line x1="178.2" y1="454.6" x2="179.5" y2="454.6" stroke="#666" stroke-width="0.4"/>
<line x1="178.2" y1="460.2" x2="179.5" y2="460.2" stroke="#666" stroke-width="0.4"/>
<line x1="178.2" y1="465.8" x2="179.5" y2="465.8" stroke="#666" stroke-width="0.4"/>
<line x1="181.2" y1="470.5" x2="181.2" y2="469.3" stroke="#666" stroke-width="0.4"/>
<line x1="186.6" y1="470.5" x2="186.6" y2="469.3" stroke="#666" stroke-width="0.4"/>
<line x1="192.0" y1="470.5" x2="192.0" y2="469.3" stroke="#666" stroke-width="0.4"/>
<line x1="197.4" y1="470.5" x2="197.4" y2="469.3" stroke="#666" stroke-width="0.4"/>
<line x1="202.8" y1="470.5" x2="202.8" y2="469.3" stroke="#666" stroke-width="0.4"/>
<line x1="208.2" y1="470.5" x2="208.2" y2="469.3" stroke="#666" stroke-width="0.4"/>
<line x1="213.6" y1="470.5" x2="213.6" y2="469.3" stroke="#666" stroke-width="0.4"/>
<line x1="219.0" y1="470.5" x2="219.0" y2="469.3" stroke="#666" stroke-width="0.4"/>
<line x1="224.4" y1="470.5" x2="224.4" y2="469.3" stroke="#666" stroke-width="0.4"/>
<line x1="229.8" y1="470.5" x2="229.8" y2="469.3" stroke="#666" stroke-width="0.4"/>
<line x1="235.2" y1="470.5" x2="235.2" y2="469.3" stroke="#666" stroke-width="0.4"/>
<line x1="240.6" y1="470.5" x2="240.6" y2="469.3" stroke="#666" stroke-width="0.4"/>
<path d="M193.2,469.8 L194.0,469.6 L194.4,469.5 L194.8,469.4 L195.2,469.2 L195.6,469.0 L196.0,468.6 L196.4,468.0 L196.8,467.2 L197.2,466.2 L197.6,464.8 L198.0,462.9 L198.4,460.4 L198.8,457.3 L199.2,453.3 L199.6,448.5 L200.0,442.7 L200.4,436.0 L200.8,428.5 L201.2,420.8 L201.6,413.4 L202.0,407.8 L202.4,409.9 L202.8,415.9 L203.2,422.9 L203.6,430.0 L204.0,436.7 L204.4,442.8 L204.8,448.1 L205.2,452.7 L205.6,456.5 L206.0,459.5 L206.4,462.0 L206.8,463.9 L207.2,465.5 L207.6,466.6 L208.0,467.5 L208.4,468.1 L208.8,468.6 L209.2,469.0 L209.6,469.2 L210.0,469.4 L210.4,469.5 L210.8,469.6 L211.6,469.8" fill="none" stroke="#5ee88a" stroke-width="0.65" stroke-linejoin="round" />
<path d="M191.6,469.8 L192.4,469.6 L192.8,469.5 L193.2,469.4 L193.6,469.3 L194.0,469.0 L194.4,468.7 L194.8,468.3 L195.2,467.7 L195.6,466.9 L196.0,465.9 L196.4,464.5 L196.8,462.8 L197.2,460.6 L197.6,457.8 L198.0,454.5 L198.4,450.5 L198.8,445.8 L199.2,440.6 L199.6,434.8 L200.0,428.8 L200.4,423.1 L200.8,418.4 L201.2,418.1 L201.6,421.9 L202.0,426.7 L202.4,431.8 L202.8,436.9 L203.2,441.7 L203.6,446.2 L204.0,450.2 L204.4,453.7 L204.8,456.7 L205.2,459.3 L205.6,461.4 L206.0,463.2 L206.4,464.6 L206.8,465.8 L207.2,466.7 L207.6,467.4 L208.0,468.0 L208.4,468.4 L208.8,468.8 L209.2,469.0 L209.6,469.2 L210.0,469.4 L210.4,469.5 L210.8,469.6 L211.2,469.6 L212.0,469.8" fill="none" stroke="#d83a3a" stroke-width="0.65" stroke-linejoin="round" />
<text x="0" y="0" font-size="9.0" text-anchor="middle" fill="#1a1a1a" transform="translate(280.15,397.00) scale(0.955,1)" stroke="#1a1a1a" stroke-width="0.13">131</text>
<rect x="245.8" y="401.2" width="68.7" height="69.3" fill="#fff" stroke="#808080" stroke-width="0.55"/>
<line x1="245.8" y1="404.2" x2="247.1" y2="404.2" stroke="#666" stroke-width="0.4"/>
<line x1="245.8" y1="409.8" x2="247.1" y2="409.8" stroke="#666" stroke-width="0.4"/>
<line x1="245.8" y1="415.4" x2="247.1" y2="415.4" stroke="#666" stroke-width="0.4"/>
<line x1="245.8" y1="421.0" x2="247.1" y2="421.0" stroke="#666" stroke-width="0.4"/>
<line x1="245.8" y1="426.6" x2="247.1" y2="426.6" stroke="#666" stroke-width="0.4"/>
<line x1="245.8" y1="432.2" x2="247.1" y2="432.2" stroke="#666" stroke-width="0.4"/>
<line x1="245.8" y1="437.8" x2="247.1" y2="437.8" stroke="#666" stroke-width="0.4"/>
<line x1="245.8" y1="443.4" x2="247.1" y2="443.4" stroke="#666" stroke-width="0.4"/>
<line x1="245.8" y1="449.0" x2="247.1" y2="449.0" stroke="#666" stroke-width="0.4"/>
<line x1="245.8" y1="454.6" x2="247.1" y2="454.6" stroke="#666" stroke-width="0.4"/>
<line x1="245.8" y1="460.2" x2="247.1" y2="460.2" stroke="#666" stroke-width="0.4"/>
<line x1="245.8" y1="465.8" x2="247.1" y2="465.8" stroke="#666" stroke-width="0.4"/>
<line x1="248.8" y1="470.5" x2="248.8" y2="469.3" stroke="#666" stroke-width="0.4"/>
<line x1="254.2" y1="470.5" x2="254.2" y2="469.3" stroke="#666" stroke-width="0.4"/>
<line x1="259.6" y1="470.5" x2="259.6" y2="469.3" stroke="#666" stroke-width="0.4"/>
<line x1="265.0" y1="470.5" x2="265.0" y2="469.3" stroke="#666" stroke-width="0.4"/>
<line x1="270.4" y1="470.5" x2="270.4" y2="469.3" stroke="#666" stroke-width="0.4"/>
<line x1="275.8" y1="470.5" x2="275.8" y2="469.3" stroke="#666" stroke-width="0.4"/>
<line x1="281.2" y1="470.5" x2="281.2" y2="469.3" stroke="#666" stroke-width="0.4"/>
<line x1="286.6" y1="470.5" x2="286.6" y2="469.3" stroke="#666" stroke-width="0.4"/>
<line x1="292.0" y1="470.5" x2="292.0" y2="469.3" stroke="#666" stroke-width="0.4"/>
<line x1="297.4" y1="470.5" x2="297.4" y2="469.3" stroke="#666" stroke-width="0.4"/>
<line x1="302.8" y1="470.5" x2="302.8" y2="469.3" stroke="#666" stroke-width="0.4"/>
<line x1="308.2" y1="470.5" x2="308.2" y2="469.3" stroke="#666" stroke-width="0.4"/>
<path d="M258.0,469.8 L258.8,469.6 L259.2,469.5 L259.6,469.4 L260.0,469.3 L260.4,469.0 L260.8,468.7 L261.2,468.3 L261.6,467.7 L262.0,466.9 L262.4,465.8 L262.8,464.4 L263.2,462.5 L263.6,460.2 L264.0,457.3 L264.4,453.7 L264.8,449.3 L265.2,444.2 L265.6,438.3 L266.0,431.7 L266.4,424.7 L266.8,417.6 L267.2,411.2 L267.6,407.2 L268.0,409.9 L268.4,414.3 L268.8,419.3 L269.2,424.7 L269.6,430.0 L270.0,435.1 L270.4,439.8 L270.8,444.2 L271.2,448.1 L271.6,451.6 L272.0,454.7 L272.4,457.3 L272.8,459.5 L273.2,461.4 L273.6,463.0 L274.0,464.4 L274.4,465.5 L274.8,466.4 L275.2,467.1 L275.6,467.7 L276.0,468.1 L276.4,468.5 L276.8,468.8 L277.2,469.0 L277.6,469.2 L278.0,469.4 L278.4,469.5 L278.8,469.5 L279.2,469.6 L280.0,469.8" fill="none" stroke="#5ee88a" stroke-width="0.65" stroke-linejoin="round" />
<path d="M255.2,469.8 L256.0,469.6 L256.4,469.6 L256.8,469.5 L257.2,469.4 L257.6,469.3 L258.0,469.1 L258.4,468.8 L258.8,468.6 L259.2,468.2 L259.6,467.7 L260.0,467.1 L260.4,466.4 L260.8,465.5 L261.2,464.4 L261.6,463.1 L262.0,461.5 L262.4,459.6 L262.8,457.4 L263.2,454.9 L263.6,452.0 L264.0,448.9 L264.4,445.4 L264.8,441.7 L265.2,437.9 L265.6,434.2 L266.0,430.9 L266.4,428.5 L266.8,428.6 L267.2,429.6 L267.6,430.8 L268.0,432.2 L268.4,433.7 L268.8,435.3 L269.2,436.9 L269.6,438.6 L270.0,440.2 L270.4,441.9 L270.8,443.5 L271.2,445.2 L271.6,446.7 L272.0,448.2 L272.4,449.7 L272.8,451.1 L273.2,452.5 L273.6,453.7 L274.0,455.0 L274.4,456.1 L274.8,457.2 L275.2,458.2 L275.6,459.2 L276.0,460.1 L276.4,460.9 L276.8,461.7 L277.2,462.4 L277.6,463.1 L278.0,463.7 L278.4,464.2 L278.8,464.8 L279.2,465.2 L279.6,465.7 L280.0,466.1 L280.4,466.5 L280.8,466.8 L281.2,467.1 L281.6,467.4 L282.0,467.6 L282.4,467.9 L282.8,468.1 L283.2,468.3 L283.6,468.4 L284.0,468.6 L284.4,468.7 L284.8,468.8 L285.2,468.9 L285.6,469.0 L286.0,469.1 L286.4,469.2 L286.8,469.3 L287.2,469.3 L287.6,469.4 L288.0,469.4 L288.4,469.5 L288.8,469.5 L289.2,469.6 L289.6,469.6 L290.0,469.6 L290.4,469.6 L291.2,469.8" fill="none" stroke="#d83a3a" stroke-width="0.65" stroke-linejoin="round" />
<text x="0" y="0" font-size="9.0" text-anchor="middle" fill="#1a1a1a" transform="translate(350.05,397.00) scale(0.955,1)" stroke="#1a1a1a" stroke-width="0.13">X01</text>
<rect x="316.5" y="401.2" width="67.1" height="69.3" fill="#fff" stroke="#808080" stroke-width="0.55"/>
<line x1="316.5" y1="404.2" x2="317.8" y2="404.2" stroke="#666" stroke-width="0.4"/>
<line x1="316.5" y1="409.8" x2="317.8" y2="409.8" stroke="#666" stroke-width="0.4"/>
<line x1="316.5" y1="415.4" x2="317.8" y2="415.4" stroke="#666" stroke-width="0.4"/>
<line x1="316.5" y1="421.0" x2="317.8" y2="421.0" stroke="#666" stroke-width="0.4"/>
<line x1="316.5" y1="426.6" x2="317.8" y2="426.6" stroke="#666" stroke-width="0.4"/>
<line x1="316.5" y1="432.2" x2="317.8" y2="432.2" stroke="#666" stroke-width="0.4"/>
<line x1="316.5" y1="437.8" x2="317.8" y2="437.8" stroke="#666" stroke-width="0.4"/>
<line x1="316.5" y1="443.4" x2="317.8" y2="443.4" stroke="#666" stroke-width="0.4"/>
<line x1="316.5" y1="449.0" x2="317.8" y2="449.0" stroke="#666" stroke-width="0.4"/>
<line x1="316.5" y1="454.6" x2="317.8" y2="454.6" stroke="#666" stroke-width="0.4"/>
<line x1="316.5" y1="460.2" x2="317.8" y2="460.2" stroke="#666" stroke-width="0.4"/>
<line x1="316.5" y1="465.8" x2="317.8" y2="465.8" stroke="#666" stroke-width="0.4"/>
<line x1="319.5" y1="470.5" x2="319.5" y2="469.3" stroke="#666" stroke-width="0.4"/>
<line x1="324.9" y1="470.5" x2="324.9" y2="469.3" stroke="#666" stroke-width="0.4"/>
<line x1="330.3" y1="470.5" x2="330.3" y2="469.3" stroke="#666" stroke-width="0.4"/>
<line x1="335.7" y1="470.5" x2="335.7" y2="469.3" stroke="#666" stroke-width="0.4"/>
<line x1="341.1" y1="470.5" x2="341.1" y2="469.3" stroke="#666" stroke-width="0.4"/>
<line x1="346.5" y1="470.5" x2="346.5" y2="469.3" stroke="#666" stroke-width="0.4"/>
<line x1="351.9" y1="470.5" x2="351.9" y2="469.3" stroke="#666" stroke-width="0.4"/>
<line x1="357.3" y1="470.5" x2="357.3" y2="469.3" stroke="#666" stroke-width="0.4"/>
<line x1="362.7" y1="470.5" x2="362.7" y2="469.3" stroke="#666" stroke-width="0.4"/>
<line x1="368.1" y1="470.5" x2="368.1" y2="469.3" stroke="#666" stroke-width="0.4"/>
<line x1="373.5" y1="470.5" x2="373.5" y2="469.3" stroke="#666" stroke-width="0.4"/>
<line x1="378.9" y1="470.5" x2="378.9" y2="469.3" stroke="#666" stroke-width="0.4"/>
<path d="M324.7,469.8 L325.5,469.6 L325.9,469.5 L326.3,469.3 L326.7,469.1 L327.1,468.7 L327.5,468.2 L327.9,467.4 L328.3,466.3 L328.7,464.8 L329.1,462.6 L329.5,459.8 L329.9,456.1 L330.3,451.4 L330.7,445.5 L331.1,438.5 L331.5,430.5 L331.9,421.9 L332.3,413.5 L332.7,407.0 L333.1,408.7 L333.5,414.2 L333.9,420.7 L334.3,427.4 L334.7,433.8 L335.1,439.8 L335.5,445.1 L335.9,449.8 L336.3,453.8 L336.7,457.1 L337.1,459.9 L337.5,462.1 L337.9,463.9 L338.3,465.3 L338.7,466.4 L339.1,467.3 L339.5,467.9 L339.9,468.4 L340.3,468.8 L340.7,469.1 L341.1,469.3 L341.5,469.4 L341.9,469.5 L342.3,469.6 L343.1,469.8" fill="none" stroke="#5ee88a" stroke-width="0.65" stroke-linejoin="round" />
<path d="M322.7,469.8 L323.5,469.6 L323.9,469.5 L324.3,469.4 L324.7,469.2 L325.1,468.9 L325.5,468.6 L325.9,468.1 L326.3,467.4 L326.7,466.5 L327.1,465.4 L327.5,463.9 L327.9,462.0 L328.3,459.5 L328.7,456.5 L329.1,452.9 L329.5,448.6 L329.9,443.6 L330.3,437.9 L330.7,431.9 L331.1,425.6 L331.5,419.8 L331.9,415.5 L332.3,416.1 L332.7,418.8 L333.1,422.0 L333.5,425.6 L333.9,429.4 L334.3,433.1 L334.7,436.8 L335.1,440.3 L335.5,443.6 L335.9,446.7 L336.3,449.5 L336.7,452.1 L337.1,454.4 L337.5,456.5 L337.9,458.4 L338.3,460.1 L338.7,461.5 L339.1,462.8 L339.5,463.9 L339.9,464.8 L340.3,465.6 L340.7,466.3 L341.1,466.9 L341.5,467.4 L341.9,467.8 L342.3,468.2 L342.7,468.5 L343.1,468.7 L343.5,468.9 L343.9,469.1 L344.3,469.2 L344.7,469.3 L345.1,469.4 L345.5,469.5 L345.9,469.6 L346.3,469.6 L347.1,469.8" fill="none" stroke="#d83a3a" stroke-width="0.65" stroke-linejoin="round" />
<text x="0" y="0" font-size="9.0" text-anchor="middle" fill="#1a1a1a" transform="translate(419.10,397.00) scale(0.955,1)" stroke="#1a1a1a" stroke-width="0.13">GSC924</text>
<rect x="385.1" y="401.2" width="68.0" height="69.3" fill="#fff" stroke="#808080" stroke-width="0.55"/>
<line x1="385.1" y1="404.2" x2="386.4" y2="404.2" stroke="#666" stroke-width="0.4"/>
<line x1="385.1" y1="409.8" x2="386.4" y2="409.8" stroke="#666" stroke-width="0.4"/>
<line x1="385.1" y1="415.4" x2="386.4" y2="415.4" stroke="#666" stroke-width="0.4"/>
<line x1="385.1" y1="421.0" x2="386.4" y2="421.0" stroke="#666" stroke-width="0.4"/>
<line x1="385.1" y1="426.6" x2="386.4" y2="426.6" stroke="#666" stroke-width="0.4"/>
<line x1="385.1" y1="432.2" x2="386.4" y2="432.2" stroke="#666" stroke-width="0.4"/>
<line x1="385.1" y1="437.8" x2="386.4" y2="437.8" stroke="#666" stroke-width="0.4"/>
<line x1="385.1" y1="443.4" x2="386.4" y2="443.4" stroke="#666" stroke-width="0.4"/>
<line x1="385.1" y1="449.0" x2="386.4" y2="449.0" stroke="#666" stroke-width="0.4"/>
<line x1="385.1" y1="454.6" x2="386.4" y2="454.6" stroke="#666" stroke-width="0.4"/>
<line x1="385.1" y1="460.2" x2="386.4" y2="460.2" stroke="#666" stroke-width="0.4"/>
<line x1="385.1" y1="465.8" x2="386.4" y2="465.8" stroke="#666" stroke-width="0.4"/>
<line x1="388.1" y1="470.5" x2="388.1" y2="469.3" stroke="#666" stroke-width="0.4"/>
<line x1="393.5" y1="470.5" x2="393.5" y2="469.3" stroke="#666" stroke-width="0.4"/>
<line x1="398.9" y1="470.5" x2="398.9" y2="469.3" stroke="#666" stroke-width="0.4"/>
<line x1="404.3" y1="470.5" x2="404.3" y2="469.3" stroke="#666" stroke-width="0.4"/>
<line x1="409.7" y1="470.5" x2="409.7" y2="469.3" stroke="#666" stroke-width="0.4"/>
<line x1="415.1" y1="470.5" x2="415.1" y2="469.3" stroke="#666" stroke-width="0.4"/>
<line x1="420.5" y1="470.5" x2="420.5" y2="469.3" stroke="#666" stroke-width="0.4"/>
<line x1="425.9" y1="470.5" x2="425.9" y2="469.3" stroke="#666" stroke-width="0.4"/>
<line x1="431.3" y1="470.5" x2="431.3" y2="469.3" stroke="#666" stroke-width="0.4"/>
<line x1="436.7" y1="470.5" x2="436.7" y2="469.3" stroke="#666" stroke-width="0.4"/>
<line x1="442.1" y1="470.5" x2="442.1" y2="469.3" stroke="#666" stroke-width="0.4"/>
<line x1="447.5" y1="470.5" x2="447.5" y2="469.3" stroke="#666" stroke-width="0.4"/>
<path d="M394.1,469.8 L394.9,469.6 L395.3,469.5 L395.7,469.4 L396.1,469.2 L396.5,468.9 L396.9,468.5 L397.3,468.0 L397.7,467.3 L398.1,466.4 L398.5,465.2 L398.9,463.6 L399.3,461.5 L399.7,458.9 L400.1,455.7 L400.5,451.8 L400.9,447.1 L401.3,441.6 L401.7,435.4 L402.1,428.6 L402.5,421.5 L402.9,414.7 L403.3,409.2 L403.7,408.8 L404.1,412.9 L404.5,418.0 L404.9,423.6 L405.3,429.3 L405.7,434.7 L406.1,439.8 L406.5,444.4 L406.9,448.6 L407.3,452.2 L407.7,455.3 L408.1,458.0 L408.5,460.3 L408.9,462.2 L409.3,463.7 L409.7,465.0 L410.1,466.0 L410.5,466.9 L410.9,467.5 L411.3,468.1 L411.7,468.5 L412.1,468.8 L412.5,469.0 L412.9,469.2 L413.3,469.4 L413.7,469.5 L414.1,469.6 L414.5,469.6 L415.3,469.8" fill="none" stroke="#5ee88a" stroke-width="0.65" stroke-linejoin="round" />
<path d="M394.9,469.8 L395.7,469.6 L396.1,469.5 L396.5,469.4 L396.9,469.2 L397.3,469.0 L397.7,468.6 L398.1,468.2 L398.5,467.6 L398.9,466.7 L399.3,465.6 L399.7,464.1 L400.1,462.3 L400.5,459.9 L400.9,456.9 L401.3,453.2 L401.7,448.8 L402.1,443.7 L402.5,437.8 L402.9,431.3 L403.3,424.4 L403.7,417.6 L404.1,411.8 L404.5,409.6 L404.9,412.8 L405.3,417.2 L405.7,422.2 L406.1,427.4 L406.5,432.5 L406.9,437.4 L407.3,441.9 L407.7,446.0 L408.1,449.7 L408.5,453.0 L408.9,455.8 L409.3,458.3 L409.7,460.4 L410.1,462.1 L410.5,463.6 L410.9,464.8 L411.3,465.8 L411.7,466.7 L412.1,467.3 L412.5,467.9 L412.9,468.3 L413.3,468.6 L413.7,468.9 L414.1,469.1 L414.5,469.3 L414.9,469.4 L415.3,469.5 L415.7,469.6 L416.1,469.6 L416.9,469.8" fill="none" stroke="#d83a3a" stroke-width="0.65" stroke-linejoin="round" />
<text x="0" y="0" font-size="9.0" text-anchor="middle" fill="#1a1a1a" transform="translate(489.20,397.00) scale(0.955,1)" stroke="#1a1a1a" stroke-width="0.13">528</text>
<rect x="455.2" y="401.2" width="68.0" height="69.3" fill="#fff" stroke="#808080" stroke-width="0.55"/>
<line x1="455.2" y1="404.2" x2="456.5" y2="404.2" stroke="#666" stroke-width="0.4"/>
<line x1="455.2" y1="409.8" x2="456.5" y2="409.8" stroke="#666" stroke-width="0.4"/>
<line x1="455.2" y1="415.4" x2="456.5" y2="415.4" stroke="#666" stroke-width="0.4"/>
<line x1="455.2" y1="421.0" x2="456.5" y2="421.0" stroke="#666" stroke-width="0.4"/>
<line x1="455.2" y1="426.6" x2="456.5" y2="426.6" stroke="#666" stroke-width="0.4"/>
<line x1="455.2" y1="432.2" x2="456.5" y2="432.2" stroke="#666" stroke-width="0.4"/>
<line x1="455.2" y1="437.8" x2="456.5" y2="437.8" stroke="#666" stroke-width="0.4"/>
<line x1="455.2" y1="443.4" x2="456.5" y2="443.4" stroke="#666" stroke-width="0.4"/>
<line x1="455.2" y1="449.0" x2="456.5" y2="449.0" stroke="#666" stroke-width="0.4"/>
<line x1="455.2" y1="454.6" x2="456.5" y2="454.6" stroke="#666" stroke-width="0.4"/>
<line x1="455.2" y1="460.2" x2="456.5" y2="460.2" stroke="#666" stroke-width="0.4"/>
<line x1="455.2" y1="465.8" x2="456.5" y2="465.8" stroke="#666" stroke-width="0.4"/>
<line x1="458.2" y1="470.5" x2="458.2" y2="469.3" stroke="#666" stroke-width="0.4"/>
<line x1="463.6" y1="470.5" x2="463.6" y2="469.3" stroke="#666" stroke-width="0.4"/>
<line x1="469.0" y1="470.5" x2="469.0" y2="469.3" stroke="#666" stroke-width="0.4"/>
<line x1="474.4" y1="470.5" x2="474.4" y2="469.3" stroke="#666" stroke-width="0.4"/>
<line x1="479.8" y1="470.5" x2="479.8" y2="469.3" stroke="#666" stroke-width="0.4"/>
<line x1="485.2" y1="470.5" x2="485.2" y2="469.3" stroke="#666" stroke-width="0.4"/>
<line x1="490.6" y1="470.5" x2="490.6" y2="469.3" stroke="#666" stroke-width="0.4"/>
<line x1="496.0" y1="470.5" x2="496.0" y2="469.3" stroke="#666" stroke-width="0.4"/>
<line x1="501.4" y1="470.5" x2="501.4" y2="469.3" stroke="#666" stroke-width="0.4"/>
<line x1="506.8" y1="470.5" x2="506.8" y2="469.3" stroke="#666" stroke-width="0.4"/>
<line x1="512.2" y1="470.5" x2="512.2" y2="469.3" stroke="#666" stroke-width="0.4"/>
<line x1="517.6" y1="470.5" x2="517.6" y2="469.3" stroke="#666" stroke-width="0.4"/>
<path d="M464.6,469.8 L465.4,469.6 L465.8,469.5 L466.2,469.4 L466.6,469.2 L467.0,469.0 L467.4,468.7 L467.8,468.2 L468.2,467.6 L468.6,466.8 L469.0,465.7 L469.4,464.2 L469.8,462.4 L470.2,460.0 L470.6,457.0 L471.0,453.3 L471.4,448.9 L471.8,443.6 L472.2,437.5 L472.6,430.8 L473.0,423.6 L473.4,416.4 L473.8,409.8 L474.2,405.7 L474.6,409.4 L475.0,415.3 L475.4,421.9 L475.8,428.6 L476.2,435.0 L476.6,440.9 L477.0,446.1 L477.4,450.7 L477.8,454.5 L478.2,457.7 L478.6,460.4 L479.0,462.5 L479.4,464.2 L479.8,465.6 L480.2,466.6 L480.6,467.4 L481.0,468.1 L481.4,468.5 L481.8,468.9 L482.2,469.1 L482.6,469.3 L483.0,469.5 L483.4,469.6 L483.8,469.6 L484.6,469.8" fill="none" stroke="#5ee88a" stroke-width="0.65" stroke-linejoin="round" />
<path d="M484.6,469.8 L485.4,469.6 L485.8,469.6 L486.2,469.6 L486.6,469.5 L487.0,469.5 L487.4,469.4 L487.8,469.3 L488.2,469.3 L488.6,469.2 L489.0,469.1 L489.4,468.9 L489.8,468.8 L490.2,468.6 L490.6,468.4 L491.0,468.2 L491.4,467.9 L491.8,467.7 L492.2,467.3 L492.6,467.0 L493.0,466.5 L493.4,466.1 L493.8,465.5 L494.2,464.9 L494.6,464.3 L495.0,463.6 L495.4,462.8 L495.8,461.9 L496.2,460.9 L496.6,459.9 L497.0,458.7 L497.4,457.5 L497.8,456.2 L498.2,454.9 L498.6,453.4 L499.0,452.0 L499.4,450.4 L499.8,448.9 L500.2,447.3 L500.6,445.8 L501.0,444.3 L501.4,443.0 L501.8,441.9 L502.2,441.3 L502.6,442.1 L503.0,443.3 L503.4,444.8 L503.8,446.5 L504.2,448.2 L504.6,449.9 L505.0,451.6 L505.4,453.3 L505.8,454.9 L506.2,456.4 L506.6,457.8 L507.0,459.1 L507.4,460.3 L507.8,461.5 L508.2,462.5 L508.6,463.4 L509.0,464.2 L509.4,464.9 L509.8,465.6 L510.2,466.2 L510.6,466.7 L511.0,467.1 L511.4,467.5 L511.8,467.9 L512.2,468.1 L512.6,468.4 L513.0,468.6 L513.4,468.8 L513.8,469.0 L514.2,469.1 L514.6,469.2 L515.0,469.3 L515.4,469.4 L515.8,469.5 L516.2,469.5 L516.6,469.6 L517.0,469.6 L517.4,469.6 L518.2,469.8" fill="none" stroke="#d83a3a" stroke-width="0.65" stroke-linejoin="round" />
<text x="0" y="0" font-size="9.0" text-anchor="middle" fill="#1a1a1a" transform="translate(558.75,397.00) scale(0.955,1)" stroke="#1a1a1a" stroke-width="0.13">83</text>
<rect x="524.7" y="401.2" width="68.1" height="69.3" fill="#fff" stroke="#808080" stroke-width="0.55"/>
<line x1="524.7" y1="404.2" x2="526.0" y2="404.2" stroke="#666" stroke-width="0.4"/>
<line x1="524.7" y1="409.8" x2="526.0" y2="409.8" stroke="#666" stroke-width="0.4"/>
<line x1="524.7" y1="415.4" x2="526.0" y2="415.4" stroke="#666" stroke-width="0.4"/>
<line x1="524.7" y1="421.0" x2="526.0" y2="421.0" stroke="#666" stroke-width="0.4"/>
<line x1="524.7" y1="426.6" x2="526.0" y2="426.6" stroke="#666" stroke-width="0.4"/>
<line x1="524.7" y1="432.2" x2="526.0" y2="432.2" stroke="#666" stroke-width="0.4"/>
<line x1="524.7" y1="437.8" x2="526.0" y2="437.8" stroke="#666" stroke-width="0.4"/>
<line x1="524.7" y1="443.4" x2="526.0" y2="443.4" stroke="#666" stroke-width="0.4"/>
<line x1="524.7" y1="449.0" x2="526.0" y2="449.0" stroke="#666" stroke-width="0.4"/>
<line x1="524.7" y1="454.6" x2="526.0" y2="454.6" stroke="#666" stroke-width="0.4"/>
<line x1="524.7" y1="460.2" x2="526.0" y2="460.2" stroke="#666" stroke-width="0.4"/>
<line x1="524.7" y1="465.8" x2="526.0" y2="465.8" stroke="#666" stroke-width="0.4"/>
<line x1="527.7" y1="470.5" x2="527.7" y2="469.3" stroke="#666" stroke-width="0.4"/>
<line x1="533.1" y1="470.5" x2="533.1" y2="469.3" stroke="#666" stroke-width="0.4"/>
<line x1="538.5" y1="470.5" x2="538.5" y2="469.3" stroke="#666" stroke-width="0.4"/>
<line x1="543.9" y1="470.5" x2="543.9" y2="469.3" stroke="#666" stroke-width="0.4"/>
<line x1="549.3" y1="470.5" x2="549.3" y2="469.3" stroke="#666" stroke-width="0.4"/>
<line x1="554.7" y1="470.5" x2="554.7" y2="469.3" stroke="#666" stroke-width="0.4"/>
<line x1="560.1" y1="470.5" x2="560.1" y2="469.3" stroke="#666" stroke-width="0.4"/>
<line x1="565.5" y1="470.5" x2="565.5" y2="469.3" stroke="#666" stroke-width="0.4"/>
<line x1="570.9" y1="470.5" x2="570.9" y2="469.3" stroke="#666" stroke-width="0.4"/>
<line x1="576.3" y1="470.5" x2="576.3" y2="469.3" stroke="#666" stroke-width="0.4"/>
<line x1="581.7" y1="470.5" x2="581.7" y2="469.3" stroke="#666" stroke-width="0.4"/>
<line x1="587.1" y1="470.5" x2="587.1" y2="469.3" stroke="#666" stroke-width="0.4"/>
<path d="M530.9,469.8 L531.7,469.6 L532.1,469.5 L532.5,469.3 L532.9,469.1 L533.3,468.8 L533.7,468.4 L534.1,467.8 L534.5,467.0 L534.9,465.9 L535.3,464.4 L535.7,462.5 L536.1,460.1 L536.5,457.0 L536.9,453.1 L537.3,448.5 L537.7,443.0 L538.1,436.6 L538.5,429.6 L538.9,422.3 L539.3,415.1 L539.7,409.3 L540.1,409.0 L540.5,414.0 L540.9,420.2 L541.3,426.7 L541.7,433.1 L542.1,439.0 L542.5,444.4 L542.9,449.1 L543.3,453.2 L543.7,456.6 L544.1,459.5 L544.5,461.8 L544.9,463.6 L545.3,465.1 L545.7,466.3 L546.1,467.1 L546.5,467.8 L546.9,468.4 L547.3,468.7 L547.7,469.0 L548.1,469.3 L548.5,469.4 L548.9,469.5 L549.3,469.6 L550.1,469.8" fill="none" stroke="#5ee88a" stroke-width="0.65" stroke-linejoin="round" />
<path d="M544.5,469.8 L545.3,469.6 L545.7,469.6 L546.1,469.6 L546.5,469.5 L546.9,469.5 L547.3,469.4 L547.7,469.4 L548.1,469.3 L548.5,469.2 L548.9,469.1 L549.3,468.9 L549.7,468.8 L550.1,468.6 L550.5,468.4 L550.9,468.2 L551.3,467.9 L551.7,467.6 L552.1,467.3 L552.5,466.9 L552.9,466.5 L553.3,466.0 L553.7,465.4 L554.1,464.8 L554.5,464.2 L554.9,463.4 L555.3,462.6 L555.7,461.7 L556.1,460.7 L556.5,459.7 L556.9,458.6 L557.3,457.4 L557.7,456.1 L558.1,454.8 L558.5,453.5 L558.9,452.1 L559.3,450.7 L559.7,449.4 L560.1,448.1 L560.5,447.0 L560.9,446.1 L561.3,445.8 L561.7,446.6 L562.1,447.8 L562.5,449.1 L562.9,450.6 L563.3,452.1 L563.7,453.5 L564.1,455.0 L564.5,456.4 L564.9,457.8 L565.3,459.1 L565.7,460.2 L566.1,461.3 L566.5,462.3 L566.9,463.2 L567.3,464.1 L567.7,464.8 L568.1,465.5 L568.5,466.1 L568.9,466.6 L569.3,467.0 L569.7,467.4 L570.1,467.8 L570.5,468.1 L570.9,468.4 L571.3,468.6 L571.7,468.8 L572.1,468.9 L572.5,469.1 L572.9,469.2 L573.3,469.3 L573.7,469.4 L574.1,469.5 L574.5,469.5 L574.9,469.6 L575.3,469.6 L575.7,469.6 L576.5,469.8" fill="none" stroke="#d83a3a" stroke-width="0.65" stroke-linejoin="round" />
<text x="0" y="0" font-size="9.0" text-anchor="middle" fill="#1a1a1a" transform="translate(628.15,397.00) scale(0.955,1)" stroke="#1a1a1a" stroke-width="0.13">GSC209</text>
<rect x="594.3" y="401.2" width="67.7" height="69.3" fill="#fff" stroke="#808080" stroke-width="0.55"/>
<line x1="594.3" y1="404.2" x2="595.6" y2="404.2" stroke="#666" stroke-width="0.4"/>
<line x1="594.3" y1="409.8" x2="595.6" y2="409.8" stroke="#666" stroke-width="0.4"/>
<line x1="594.3" y1="415.4" x2="595.6" y2="415.4" stroke="#666" stroke-width="0.4"/>
<line x1="594.3" y1="421.0" x2="595.6" y2="421.0" stroke="#666" stroke-width="0.4"/>
<line x1="594.3" y1="426.6" x2="595.6" y2="426.6" stroke="#666" stroke-width="0.4"/>
<line x1="594.3" y1="432.2" x2="595.6" y2="432.2" stroke="#666" stroke-width="0.4"/>
<line x1="594.3" y1="437.8" x2="595.6" y2="437.8" stroke="#666" stroke-width="0.4"/>
<line x1="594.3" y1="443.4" x2="595.6" y2="443.4" stroke="#666" stroke-width="0.4"/>
<line x1="594.3" y1="449.0" x2="595.6" y2="449.0" stroke="#666" stroke-width="0.4"/>
<line x1="594.3" y1="454.6" x2="595.6" y2="454.6" stroke="#666" stroke-width="0.4"/>
<line x1="594.3" y1="460.2" x2="595.6" y2="460.2" stroke="#666" stroke-width="0.4"/>
<line x1="594.3" y1="465.8" x2="595.6" y2="465.8" stroke="#666" stroke-width="0.4"/>
<line x1="597.3" y1="470.5" x2="597.3" y2="469.3" stroke="#666" stroke-width="0.4"/>
<line x1="602.7" y1="470.5" x2="602.7" y2="469.3" stroke="#666" stroke-width="0.4"/>
<line x1="608.1" y1="470.5" x2="608.1" y2="469.3" stroke="#666" stroke-width="0.4"/>
<line x1="613.5" y1="470.5" x2="613.5" y2="469.3" stroke="#666" stroke-width="0.4"/>
<line x1="618.9" y1="470.5" x2="618.9" y2="469.3" stroke="#666" stroke-width="0.4"/>
<line x1="624.3" y1="470.5" x2="624.3" y2="469.3" stroke="#666" stroke-width="0.4"/>
<line x1="629.7" y1="470.5" x2="629.7" y2="469.3" stroke="#666" stroke-width="0.4"/>
<line x1="635.1" y1="470.5" x2="635.1" y2="469.3" stroke="#666" stroke-width="0.4"/>
<line x1="640.5" y1="470.5" x2="640.5" y2="469.3" stroke="#666" stroke-width="0.4"/>
<line x1="645.9" y1="470.5" x2="645.9" y2="469.3" stroke="#666" stroke-width="0.4"/>
<line x1="651.3" y1="470.5" x2="651.3" y2="469.3" stroke="#666" stroke-width="0.4"/>
<line x1="656.7" y1="470.5" x2="656.7" y2="469.3" stroke="#666" stroke-width="0.4"/>
<path d="M604.9,469.8 L605.7,469.6 L606.1,469.5 L606.5,469.3 L606.9,469.1 L607.3,468.8 L607.7,468.4 L608.1,467.7 L608.5,466.9 L608.9,465.8 L609.3,464.4 L609.7,462.4 L610.1,460.0 L610.5,456.8 L610.9,453.0 L611.3,448.3 L611.7,442.7 L612.1,436.3 L612.5,429.2 L612.9,421.8 L613.3,414.6 L613.7,408.7 L614.1,408.3 L614.5,412.8 L614.9,418.5 L615.3,424.6 L615.7,430.7 L616.1,436.4 L616.5,441.7 L616.9,446.5 L617.3,450.6 L617.7,454.2 L618.1,457.3 L618.5,459.8 L618.9,461.9 L619.3,463.6 L619.7,465.0 L620.1,466.1 L620.5,467.0 L620.9,467.7 L621.3,468.2 L621.7,468.6 L622.1,468.9 L622.5,469.1 L622.9,469.3 L623.3,469.4 L623.7,469.5 L624.1,469.6 L624.9,469.8" fill="none" stroke="#5ee88a" stroke-width="0.65" stroke-linejoin="round" />
<path d="M611.7,469.8 L612.5,469.6 L612.9,469.6 L613.3,469.5 L613.7,469.4 L614.1,469.3 L614.5,469.1 L614.9,468.9 L615.3,468.6 L615.7,468.3 L616.1,467.8 L616.5,467.3 L616.9,466.6 L617.3,465.8 L617.7,464.7 L618.1,463.5 L618.5,462.0 L618.9,460.2 L619.3,458.2 L619.7,455.8 L620.1,453.2 L620.5,450.2 L620.9,446.9 L621.3,443.5 L621.7,439.9 L622.1,436.4 L622.5,433.3 L622.9,431.1 L623.3,431.1 L623.7,432.0 L624.1,433.0 L624.5,434.2 L624.9,435.5 L625.3,436.9 L625.7,438.4 L626.1,439.8 L626.5,441.3 L626.9,442.8 L627.3,444.3 L627.7,445.7 L628.1,447.1 L628.5,448.5 L628.9,449.8 L629.3,451.1 L629.7,452.4 L630.1,453.6 L630.5,454.7 L630.9,455.8 L631.3,456.8 L631.7,457.8 L632.1,458.7 L632.5,459.6 L632.9,460.4 L633.3,461.1 L633.7,461.8 L634.1,462.5 L634.5,463.1 L634.9,463.7 L635.3,464.2 L635.7,464.7 L636.1,465.2 L636.5,465.6 L636.9,466.0 L637.3,466.3 L637.7,466.7 L638.1,467.0 L638.5,467.2 L638.9,467.5 L639.3,467.7 L639.7,467.9 L640.1,468.1 L640.5,468.3 L640.9,468.4 L641.3,468.6 L641.7,468.7 L642.1,468.8 L642.5,468.9 L642.9,469.0 L643.3,469.1 L643.7,469.2 L644.1,469.2 L644.5,469.3 L644.9,469.4 L645.3,469.4 L645.7,469.5 L646.1,469.5 L646.5,469.5 L646.9,469.6 L647.3,469.6 L647.7,469.6 L648.1,469.6 L648.9,469.8" fill="none" stroke="#d83a3a" stroke-width="0.65" stroke-linejoin="round" />
<rect x="180.6" y="403.6" width="4.8" height="4.2" fill="#fff" stroke="#4ee07a" stroke-width="0.6"/>
<text x="188.8" y="408.3" font-size="7.1" text-anchor="start" font-weight="normal" font-style="normal" fill="#1a1a1a"  stroke="#1a1a1a" stroke-width="0.13">Neg. Ctrl</text>
<rect x="180.6" y="412.6" width="4.8" height="4.2" fill="#fff" stroke="#d83a3a" stroke-width="0.6"/>
<text x="188.8" y="416.9" font-size="7.1" text-anchor="start" font-weight="normal" font-style="normal" fill="#1a1a1a"  stroke="#1a1a1a" stroke-width="0.13">Anti-ICAM1</text>
<text x="0" y="0" font-size="7.1" text-anchor="middle" fill="#1a1a1a" font-style="normal" transform="translate(176.2,436.2) rotate(-90)" stroke="#1a1a1a" stroke-width="0.13">Count</text>
<text x="180.4" y="481.4" font-size="7.1" text-anchor="start" font-weight="normal" font-style="normal" fill="#1a1a1a"  stroke="#1a1a1a" stroke-width="0.13">Anti-ICAM1-PE</text>
<line x1="233.2" y1="478.3" x2="654.9" y2="478.3" stroke="#111" stroke-width="0.6"/>
<path d="M654.4,476.4 L659.4,478.3 L654.4,480.2 Z" fill="#111"/>
</svg></body></html>
